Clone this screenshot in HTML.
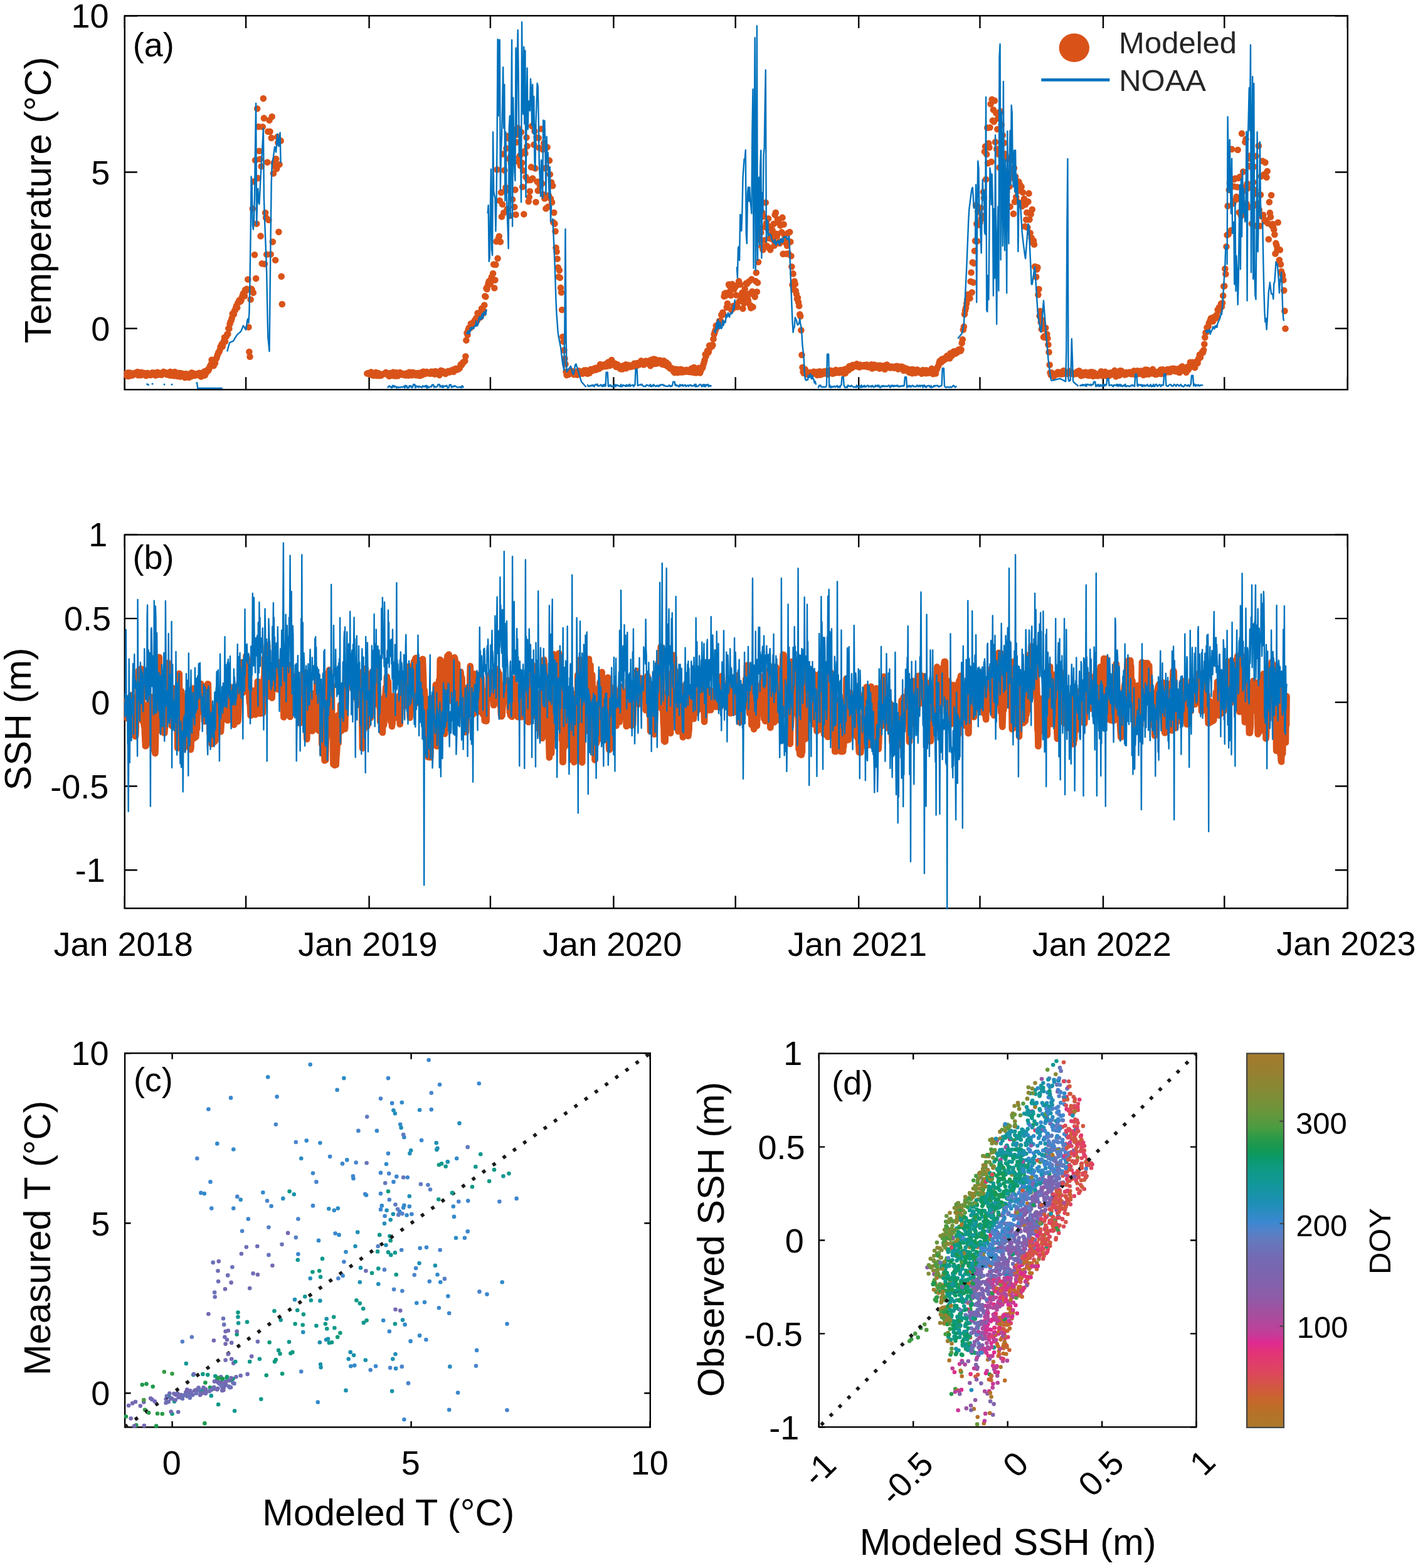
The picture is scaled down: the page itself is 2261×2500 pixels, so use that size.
<!DOCTYPE html><html><head><meta charset="utf-8"><title>Figure</title><style>html,body{margin:0;padding:0;background:#fff;}svg{display:block;}text{font-family:'Liberation Sans', Arial, Helvetica, sans-serif;fill:#000;}</style></head><body>
<svg xmlns="http://www.w3.org/2000/svg" width="2261" height="2500" viewBox="0 0 2261 2500">
<rect width="2261" height="2500" fill="#fff"/>
<path d="M198.8 621.2v-20M198.8 25.1v20M392.1 621.2v-20M392.1 25.1v20M588.6 621.2v-20M588.6 25.1v20M781.9 621.2v-20M781.9 25.1v20M978.4 621.2v-20M978.4 25.1v20M1172.7 621.2v-20M1172.7 25.1v20M1369.2 621.2v-20M1369.2 25.1v20M1562.5 621.2v-20M1562.5 25.1v20M1759 621.2v-20M1759 25.1v20M1952.3 621.2v-20M1952.3 25.1v20M2148.8 621.2v-20M2148.8 25.1v20M198.8 523.8h20M2148.8 523.8h-20M198.8 274.5h20M2148.8 274.5h-20M198.8 25.2h20M2148.8 25.2h-20" stroke="#000" stroke-width="2.4" fill="none"/>
<rect x="198.8" y="25.1" width="1950" height="596.1" stroke="#000" stroke-width="2.4" fill="none"/>
<path d="M198.8 1448.2v-20M198.8 852.6v20M392.1 1448.2v-20M392.1 852.6v20M588.6 1448.2v-20M588.6 852.6v20M781.9 1448.2v-20M781.9 852.6v20M978.4 1448.2v-20M978.4 852.6v20M1172.7 1448.2v-20M1172.7 852.6v20M1369.2 1448.2v-20M1369.2 852.6v20M1562.5 1448.2v-20M1562.5 852.6v20M1759 1448.2v-20M1759 852.6v20M1952.3 1448.2v-20M1952.3 852.6v20M2148.8 1448.2v-20M2148.8 852.6v20M198.8 1387.2h20M2148.8 1387.2h-20M198.8 1253.5h20M2148.8 1253.5h-20M198.8 1119.8h20M2148.8 1119.8h-20M198.8 986.1h20M2148.8 986.1h-20M198.8 852.4h20M2148.8 852.4h-20" stroke="#000" stroke-width="2.4" fill="none"/>
<rect x="198.8" y="852.6" width="1950" height="595.6" stroke="#000" stroke-width="2.4" fill="none"/>
<path d="M274.6 2275.5v-9.5M274.6 1679.2v9.5M655.6 2275.5v-9.5M655.6 1679.2v9.5M1036.6 2275.5v-9.5M1036.6 1679.2v9.5M199.1 2221.3h9.5M1036.8 2221.3h-9.5M199.1 1950.3h9.5M1036.8 1950.3h-9.5M199.1 1679.3h9.5M1036.8 1679.3h-9.5" stroke="#000" stroke-width="2.4" fill="none"/>
<rect x="199.1" y="1679.2" width="837.7" height="596.3" stroke="#000" stroke-width="2.4" fill="none"/>
<path d="M1305.8 2275.3v-9.5M1305.8 1679.7v9.5M1456.2 2275.3v-9.5M1456.2 1679.7v9.5M1606.7 2275.3v-9.5M1606.7 1679.7v9.5M1757.2 2275.3v-9.5M1757.2 1679.7v9.5M1907.6 2275.3v-9.5M1907.6 1679.7v9.5M1305.8 2275.3h9.5M1907.5 2275.3h-9.5M1305.8 2126.4h9.5M1907.5 2126.4h-9.5M1305.8 1977.5h9.5M1907.5 1977.5h-9.5M1305.8 1828.6h9.5M1907.5 1828.6h-9.5M1305.8 1679.7h9.5M1907.5 1679.7h-9.5" stroke="#000" stroke-width="2.4" fill="none"/>
<rect x="1305.8" y="1679.7" width="601.7" height="595.6" stroke="#000" stroke-width="2.4" fill="none"/>
<text x="175.3" y="542.8" font-size="54" text-anchor="end">0</text>
<text x="175.3" y="293.9" font-size="54" text-anchor="end">5</text>
<text x="173.6" y="44.2" font-size="54" text-anchor="end">10</text>
<text x="211.8" y="90" font-size="54" text-anchor="start">(a)</text>
<text transform="translate(80.8,318.9) rotate(-90)" font-size="59.5" text-anchor="middle">Temperature (°C)</text>
<text x="1784.1" y="85.2" font-size="49" text-anchor="start" style="fill:#262626">Modeled</text>
<text x="1784.2" y="145.4" font-size="49" text-anchor="start" style="fill:#262626">NOAA</text>
<text x="171.2" y="871.2" font-size="54" text-anchor="end">1</text>
<text x="177" y="1005.1" font-size="54" text-anchor="end">0.5</text>
<text x="175.3" y="1138.8" font-size="54" text-anchor="end">0</text>
<text x="173.3" y="1272.7" font-size="54" text-anchor="end">-0.5</text>
<text x="167.8" y="1406.4" font-size="54" text-anchor="end">-1</text>
<text x="211.6" y="906.8" font-size="54" text-anchor="start">(b)</text>
<text transform="translate(48.6,1146.4) rotate(-90)" font-size="59.5" text-anchor="middle">SSH (m)</text>
<text x="196.6" y="1523.8" font-size="54" text-anchor="middle">Jan 2018</text>
<text x="586.4" y="1523.8" font-size="54" text-anchor="middle">Jan 2019</text>
<text x="976.2" y="1523.8" font-size="54" text-anchor="middle">Jan 2020</text>
<text x="1367" y="1523.8" font-size="54" text-anchor="middle">Jan 2021</text>
<text x="1756.8" y="1523.8" font-size="54" text-anchor="middle">Jan 2022</text>
<text x="2146.4" y="1523.2" font-size="54" text-anchor="middle">Jan 2023</text>
<text x="175.3" y="2240.3" font-size="54" text-anchor="end">0</text>
<text x="273.7" y="2350.8" font-size="54" text-anchor="middle">0</text>
<text x="175.3" y="1969.7" font-size="54" text-anchor="end">5</text>
<text x="654.7" y="2350.8" font-size="54" text-anchor="middle">5</text>
<text x="173.6" y="1698.3" font-size="54" text-anchor="end">10</text>
<text x="1035.7" y="2350.8" font-size="54" text-anchor="middle">10</text>
<text x="212.9" y="1739.6" font-size="54" text-anchor="start">(c)</text>
<text x="619.3" y="2431.8" font-size="59.5" text-anchor="middle">Modeled T (°C)</text>
<text transform="translate(80.4,1973.8) rotate(-90)" font-size="59.5" text-anchor="middle">Measured T (°C)</text>
<text x="1279.4" y="1697.9" font-size="54" text-anchor="end">1</text>
<text transform="translate(1941,2334.3) rotate(-45)" font-size="54" text-anchor="end">1</text>
<text x="1283.5" y="1847.8" font-size="54" text-anchor="end">0.5</text>
<text transform="translate(1795.2,2335.9) rotate(-45)" font-size="54" text-anchor="end">0.5</text>
<text x="1281.8" y="1996.5" font-size="54" text-anchor="end">0</text>
<text transform="translate(1642.9,2337.2) rotate(-45)" font-size="54" text-anchor="end">0</text>
<text x="1279.8" y="2145.6" font-size="54" text-anchor="end">-0.5</text>
<text transform="translate(1491.2,2337.7) rotate(-45)" font-size="54" text-anchor="end">-0.5</text>
<text x="1274.3" y="2294.5" font-size="54" text-anchor="end">-1</text>
<text transform="translate(1336.3,2339.3) rotate(-45)" font-size="54" text-anchor="end">-1</text>
<text x="1326.3" y="1745.2" font-size="54" text-anchor="start">(d)</text>
<text x="1607.1" y="2479" font-size="59.5" text-anchor="middle">Modeled SSH (m)</text>
<text transform="translate(1154.4,1975.9) rotate(-90)" font-size="59.5" text-anchor="middle">Observed SSH (m)</text>
<text x="2067.8" y="2132.7" font-size="49" text-anchor="start">100</text>
<text x="2066.4" y="1970.5" font-size="49" text-anchor="start">200</text>
<text x="2066.1" y="1807.5" font-size="49" text-anchor="start">300</text>
<text transform="translate(2217.4,1979) rotate(-90)" font-size="49" text-anchor="middle">DOY</text>
<defs><clipPath id="clipA"><rect x="197.6" y="23.9" width="1952.4" height="598.5"/></clipPath><clipPath id="clipB"><rect x="197.6" y="851.4" width="1952.4" height="598"/></clipPath><clipPath id="clipC"><rect x="197.9" y="1678" width="840.1" height="598.7"/></clipPath><clipPath id="clipD"><rect x="1304.6" y="1678.5" width="604.1" height="598"/></clipPath></defs><g clip-path="url(#clipA)"><path d="M198.8 597.4h0M199.9 596.1h0M200.9 595.8h0M202 597.3h0M203.1 599.6h0M204.1 594.2h0M205.2 599.7h0M206.3 596.2h0M207.3 594.5h0M208.4 596.7h0M209.5 598.8h0M210.5 595.5h0M211.6 598.3h0M212.7 596.4h0M213.8 596.1h0M214.8 594.7h0M215.9 594.6h0M217 594h0M218 596.5h0M219.1 593h0M220.2 598.3h0M221.2 598.1h0M222.3 593.8h0M223.4 597.9h0M224.4 598.2h0M225.5 593.9h0M226.6 595.9h0M227.6 595h0M228.7 594.8h0M229.8 597.2h0M230.8 595h0M231.9 596h0M233 598.9h0M234 598.1h0M235.1 594.9h0M236.2 597.4h0M237.2 597.6h0M238.3 597.8h0M239.4 596.4h0M240.4 598h0M241.5 597.4h0M242.6 594.3h0M243.7 595.5h0M244.7 595.4h0M245.8 594.6h0M246.9 594.8h0M247.9 598.5h0M249 596.9h0M250.1 596.9h0M251.1 593.5h0M252.2 597.4h0M253.3 595.1h0M254.3 596.9h0M255.4 595.2h0M256.5 595h0M257.5 597.7h0M258.6 595.1h0M259.7 595.2h0M260.7 592.8h0M261.8 594.1h0M262.9 595.2h0M263.9 594h0M265 594.2h0M266.1 597.2h0M267.1 596h0M268.2 597.2h0M269.3 596.6h0M270.3 598.3h0M271.4 592.9h0M272.5 598.6h0M273.6 593.9h0M274.6 597.9h0M275.7 593.7h0M276.8 596h0M277.8 599.2h0M278.9 593h0M280 594.9h0M281 596.2h0M282.1 597.6h0M283.2 599.7h0M284.2 597h0M285.3 594.8h0M286.4 596.3h0M287.4 600.5h0M288.5 595.1h0M289.6 596.3h0M290.6 595.7h0M291.7 599.4h0M292.8 598h0M293.8 599.4h0M294.9 602h0M296 596.1h0M297 598.8h0M298.1 600.5h0M299.2 599h0M300.3 596.5h0M301.3 601.8h0M302.4 600.5h0M303.5 599.7h0M304.5 600.2h0M305.6 594.2h0M306.7 595.6h0M307.7 598.9h0M308.8 596.9h0M309.9 595.7h0M310.9 598.7h0M312 597.1h0M313.1 596.3h0M314.1 597.2h0M315.2 597h0M316.3 595.7h0M317.3 594.8h0M318.4 598.9h0M319.5 595h0M320.5 600.5h0M321.6 595.1h0M322.7 595.2h0M323.7 599h0M324.8 597.6h0M325.9 592.3h0M326.9 598.2h0M328 594.9h0M329.1 594h0M330.2 591.3h0M331.2 589.4h0M332.3 590.8h0M333.4 588.3h0M334.4 584.9h0M335.5 582.7h0M336.6 580.7h0M337.6 573.8h0M338.7 579.9h0M339.8 580.4h0M340.8 583.1h0M341.9 576.2h0M343 579.1h0M344 572.2h0M345.1 571.4h0M346.2 568h0M347.2 564.8h0M348.3 562.1h0M349.4 561.3h0M350.4 558.2h0M351.5 553h0M352.6 554.3h0M353.6 548.8h0M354.7 552.4h0M355.8 547.9h0M356.9 544.1h0M357.9 538.1h0M359 544.6h0M360.1 536.9h0M361.1 536.2h0M362.2 533.1h0M363.3 532.5h0M364.3 523.8h0M365.4 524.1h0M366.5 516.6h0M367.5 513.3h0M368.6 511.1h0M369.7 507.2h0M370.7 500.3h0M371.8 499.9h0M372.9 501.1h0M373.9 495.4h0M375 494.6h0M376.1 490.4h0M377.1 487.5h0M378.2 490.4h0M379.3 482.9h0M380.3 482.2h0M381.4 478.9h0M382.5 478.8h0M383.5 480.5h0M384.6 478.8h0M385.7 474.3h0M386.8 471.3h0M387.8 467.9h0M388.9 468.6h0M390 472h0M391 462.3h0M392.1 463.4h0M393.2 460.8h0M394.2 461.6h0M395.3 445.5h0M396.4 521.6h0M397.4 561.1h0M398.5 568.7h0M399.6 477.5h0M400.6 460.5h0M401.7 461.8h0M402.8 332.8h0M403.8 466.7h0M404.9 289.4h0M406 406.2h0M407 255.5h0M408.1 444.1h0M409.2 356.8h0M410.2 173.2h0M411.3 284.1h0M412.4 202h0M413.4 240.7h0M414.5 253.8h0M415.6 376.4h0M416.7 265.3h0M417.7 420.2h0M418.8 202.3h0M419.9 157.1h0M420.9 188.4h0M422 421h0M423.1 339.3h0M424.1 347.1h0M425.2 405.7h0M426.3 258.8h0M427.3 209.7h0M428.4 350.8h0M429.5 191.8h0M430.5 209.7h0M431.6 405.5h0M432.7 219.9h0M433.7 186h0M434.8 385.6h0M435.9 276.5h0M436.9 259.4h0M438 265.8h0M439.1 414.8h0M440.1 253.3h0M441.2 269.1h0M442.3 218.2h0M443.4 227.4h0M444.4 369.7h0M445.5 262.3h0M446.6 224.7h0M447.6 224.4h0M448.7 440.8h0M449.8 485h0M585.4 595.5h0M586.5 595.6h0M587.5 594.8h0M588.6 595.5h0M589.7 594.8h0M590.7 596.9h0M591.8 593.4h0M592.9 597.8h0M593.9 598h0M595 598.8h0M596.1 596.2h0M597.1 594.9h0M598.2 598.1h0M599.3 593.9h0M600.3 599h0M601.4 594.9h0M602.5 596.2h0M603.5 595h0M604.6 599.1h0M605.7 598h0M606.7 597.2h0M607.8 598.8h0M608.9 597.6h0M609.9 596.9h0M611 596.4h0M612.1 595.8h0M613.1 596.1h0M614.2 595.4h0M615.3 593.9h0M616.4 594.6h0M617.4 596.2h0M618.5 597.3h0M619.6 599h0M620.6 599.8h0M621.7 595h0M622.8 599h0M623.8 595h0M624.9 597h0M626 597.5h0M627 593.6h0M628.1 599h0M629.2 597.2h0M630.2 599.5h0M631.3 594.1h0M632.4 597.7h0M633.4 596.8h0M634.5 599.3h0M635.6 597.1h0M636.6 595.7h0M637.7 593.9h0M638.8 596.1h0M639.8 596.4h0M640.9 597.2h0M642 597.3h0M643 595.8h0M644.1 597.9h0M645.2 596.8h0M646.3 596.2h0M647.3 598.4h0M648.4 595.2h0M649.5 598.3h0M650.5 596.2h0M651.6 598.6h0M652.7 593.6h0M653.7 596.5h0M654.8 596.4h0M655.9 594.7h0M656.9 598.3h0M658 593.8h0M659.1 595.8h0M660.1 595h0M661.2 594.9h0M662.3 595.6h0M663.3 598.3h0M664.4 597h0M665.5 596h0M666.5 594.7h0M667.6 598.6h0M668.7 595.5h0M669.7 599h0M670.8 597.3h0M671.9 593.9h0M673 597.7h0M674 596.5h0M675.1 592.5h0M676.2 595.8h0M677.2 596.3h0M678.3 594.8h0M679.4 594.3h0M680.4 592.7h0M681.5 593.5h0M682.6 595.1h0M683.6 595h0M684.7 594.5h0M685.8 595.7h0M686.8 594.1h0M687.9 592.5h0M689 595.4h0M690 594.4h0M691.1 592.9h0M692.2 593.2h0M693.2 596.6h0M694.3 592h0M695.4 595.6h0M696.4 593.8h0M697.5 593.1h0M698.6 594.9h0M699.6 594.4h0M700.7 598.1h0M701.8 595.6h0M702.9 590.9h0M703.9 591.7h0M705 593h0M706.1 591.8h0M707.1 593.4h0M708.2 593.3h0M709.3 593.6h0M710.3 596h0M711.4 595.3h0M712.5 594.2h0M713.5 593.8h0M714.6 591.7h0M715.7 593.3h0M716.7 593.4h0M717.8 592.4h0M718.9 592.3h0M719.9 590.7h0M721 590.1h0M722.1 592.3h0M723.1 592.8h0M724.2 589h0M725.3 589.3h0M726.3 587.9h0M727.4 589.7h0M728.5 588.3h0M729.6 589.2h0M730.6 587.8h0M731.7 588.1h0M732.8 587.1h0M733.8 583.9h0M734.9 581.1h0M736 582h0M737 580.4h0M738.1 577.9h0M739.2 577.2h0M740.2 576.5h0M741.3 575.5h0M742.4 568.2h0M743.4 542.6h0M744.5 530.9h0M745.6 533.9h0M746.6 525.7h0M747.7 522.7h0M748.8 522.2h0M749.8 523.1h0M750.9 516h0M752 519.9h0M753 517.7h0M754.1 515.7h0M755.2 513.6h0M756.2 514.9h0M757.3 510.2h0M758.4 509.3h0M759.5 507.1h0M760.5 511.4h0M761.6 499.2h0M762.7 508h0M763.7 506.5h0M764.8 506.3h0M765.9 506h0M766.9 500.1h0M768 491.9h0M769.1 492.7h0M770.1 499.7h0M771.2 495.8h0M772.3 486.5h0M773.3 472.2h0M774.4 472.9h0M775.5 459.7h0M776.5 460.9h0M777.6 455.9h0M778.7 451.4h0M779.7 448.5h0M780.8 452.7h0M781.9 451.9h0M782.9 445.1h0M784 441.6h0M785.1 444.2h0M786.1 436h0M787.2 421.6h0M788.3 459.2h0M789.4 446.6h0M790.4 422h0M791.5 385h0M792.6 270.4h0M793.6 412h0M794.7 380.7h0M795.8 376.7h0M796.8 319.9h0M797.9 385.6h0M799 306.9h0M800 345.5h0M801.1 325.8h0M802.2 245.6h0M803.2 339.3h0M804.3 271.6h0M805.4 305.1h0M806.4 299h0M807.5 236.5h0M808.6 333.4h0M809.6 217.1h0M810.7 220.4h0M811.8 253.3h0M812.8 344h0M813.9 250.2h0M815 260.7h0M816.1 234.7h0M817.1 318.1h0M818.2 206.2h0M819.3 216.6h0M820.3 330.1h0M821.4 302.6h0M822.5 342.2h0M823.5 226.8h0M824.6 214.6h0M825.7 204.3h0M826.7 257.9h0M827.8 251.2h0M828.9 248.3h0M829.9 264.3h0M831 210.8h0M832.1 259.4h0M833.1 298h0M834.2 271.9h0M835.3 341.5h0M836.3 241.3h0M837.4 244.8h0M838.5 282.3h0M839.5 219.2h0M840.6 233.1h0M841.7 287.3h0M842.7 321.3h0M843.8 314.3h0M844.9 305h0M846 286.9h0M847 266.4h0M848.1 201h0M849.2 284.5h0M850.2 201.9h0M851.3 230.8h0M852.4 209.3h0M853.4 268.4h0M854.5 322.2h0M855.6 219.4h0M856.6 289.8h0M857.7 304h0M858.8 220h0M859.8 235.8h0M860.9 295.8h0M862 288.9h0M863 205.5h0M864.1 292.8h0M865.2 238.2h0M866.2 310h0M867.3 228.3h0M868.4 316.5h0M869.4 268.3h0M870.5 332.4h0M871.6 267.6h0M872.6 234.8h0M873.7 329.7h0M874.8 311.5h0M875.9 255.9h0M876.9 278h0M878 316.8h0M879.1 290.8h0M880.1 322.5h0M881.2 296.3h0M882.3 354.5h0M883.3 339h0M884.4 356.8h0M885.5 368.8h0M886.5 395.1h0M887.6 401.3h0M888.7 412.8h0M889.7 426.5h0M890.8 441.6h0M891.9 430.9h0M892.9 442.8h0M894 458.9h0M895.1 466.2h0M896.1 494h0M897.2 537.1h0M898.3 544.6h0M899.3 558.4h0M900.4 571.8h0M901.5 580.5h0M902.6 592.8h0M903.6 598.1h0M904.7 595.4h0M905.8 595.7h0M906.8 596.9h0M907.9 593.3h0M909 594.3h0M910 594.6h0M911.1 591.4h0M912.2 595.2h0M913.2 593.6h0M914.3 593.4h0M915.4 597.2h0M916.4 596.7h0M917.5 593h0M918.6 594.9h0M919.6 592.5h0M920.7 597.6h0M921.8 594.4h0M922.8 591.3h0M923.9 591.8h0M925 595.8h0M926 595.3h0M927.1 594.9h0M928.2 592.6h0M929.2 595.6h0M930.3 595.1h0M931.4 590.6h0M932.5 593.3h0M933.5 593.3h0M934.6 590.4h0M935.7 593.2h0M936.7 595.8h0M937.8 592.2h0M938.9 594.1h0M939.9 594.7h0M941 591.7h0M942.1 588.7h0M943.1 589.8h0M944.2 589h0M945.3 590.8h0M946.3 588.5h0M947.4 587.8h0M948.5 587.1h0M949.5 586.7h0M950.6 589.6h0M951.7 587.7h0M952.7 586.3h0M953.8 587.6h0M954.9 588h0M955.9 585.7h0M957 581.1h0M958.1 586.1h0M959.2 585.3h0M960.2 581.7h0M961.3 584.2h0M962.4 582.2h0M963.4 584.3h0M964.5 584.1h0M965.6 580.6h0M966.6 581.4h0M967.7 583.8h0M968.8 581h0M969.8 577.5h0M970.9 580.7h0M972 583h0M973 580h0M974.1 577.5h0M975.2 574h0M976.2 581.5h0M977.3 581h0M978.4 581h0M979.4 580.5h0M980.5 579.5h0M981.6 583.8h0M982.6 584.9h0M983.7 584.9h0M984.8 581.4h0M985.8 582.9h0M986.9 585.6h0M988 586.9h0M989.1 588.1h0M990.1 584.5h0M991.2 584.8h0M992.3 588.4h0M993.3 583.4h0M994.4 585.1h0M995.5 583.5h0M996.5 587h0M997.6 581.4h0M998.7 587.1h0M999.7 583.7h0M1000.8 583.4h0M1001.9 582.1h0M1002.9 584.5h0M1004 584.9h0M1005.1 585h0M1006.1 584.8h0M1007.2 584.4h0M1008.3 583.2h0M1009.3 581.6h0M1010.4 582.8h0M1011.5 579.5h0M1012.5 581.5h0M1013.6 584.2h0M1014.7 580.5h0M1015.7 579.1h0M1016.8 582.2h0M1017.9 580.6h0M1019 579.1h0M1020 580.9h0M1021.1 577.4h0M1022.2 575.4h0M1023.2 579.2h0M1024.3 578.1h0M1025.4 579.2h0M1026.4 581.5h0M1027.5 579h0M1028.6 577.3h0M1029.6 575.6h0M1030.7 578.5h0M1031.8 576.8h0M1032.8 579.6h0M1033.9 579.3h0M1035 575.3h0M1036 576.9h0M1037.1 583.2h0M1038.2 573.9h0M1039.2 579.3h0M1040.3 579.3h0M1041.4 577.4h0M1042.4 572.5h0M1043.5 580.1h0M1044.6 573.1h0M1045.7 576.7h0M1046.7 579.8h0M1047.8 574.9h0M1048.9 576.2h0M1049.9 577.1h0M1051 574.6h0M1052.1 576h0M1053.1 574.9h0M1054.2 579.8h0M1055.3 576.6h0M1056.3 581h0M1057.4 578.4h0M1058.5 575.2h0M1059.5 578.2h0M1060.6 581.9h0M1061.7 580.7h0M1062.7 578h0M1063.8 580.7h0M1064.9 584.5h0M1065.9 581h0M1067 584.8h0M1068.1 587.3h0M1069.1 586h0M1070.2 586.6h0M1071.3 587.5h0M1072.3 589.5h0M1073.4 591h0M1074.5 592.9h0M1075.6 594.1h0M1076.6 588.5h0M1077.7 591.9h0M1078.8 589.8h0M1079.8 589.1h0M1080.9 594.1h0M1082 592.8h0M1083 592.7h0M1084.1 592.9h0M1085.2 588.8h0M1086.2 593.4h0M1087.3 592.4h0M1088.4 589.7h0M1089.4 593.1h0M1090.5 592.9h0M1091.6 590.9h0M1092.6 590.7h0M1093.7 592.4h0M1094.8 589.7h0M1095.8 592.4h0M1096.9 591.2h0M1098 591.4h0M1099 592.1h0M1100.1 593.1h0M1101.2 591.8h0M1102.3 587.8h0M1103.3 593.3h0M1104.4 588.9h0M1105.5 593.7h0M1106.5 585.8h0M1107.6 593h0M1108.7 591.7h0M1109.7 594.4h0M1110.8 588.8h0M1111.9 591.3h0M1112.9 588.8h0M1114 586.9h0M1115.1 587.5h0M1116.1 594.4h0M1117.2 591.6h0M1118.3 588.8h0M1119.3 587.4h0M1120.4 585.7h0M1121.5 581.2h0M1122.5 578.3h0M1123.6 573.9h0M1124.7 565h0M1125.7 568h0M1126.8 563.7h0M1127.9 559.4h0M1128.9 562.5h0M1130 560.7h0M1131.1 551.1h0M1132.2 553.2h0M1133.2 553.7h0M1134.3 550.4h0M1135.4 552.1h0M1136.4 550.3h0M1137.5 540.5h0M1138.6 533.2h0M1139.6 529.7h0M1140.7 526.5h0M1141.8 519.3h0M1142.8 522.1h0M1143.9 518.8h0M1145 520.1h0M1146 517.3h0M1147.1 511.8h0M1148.2 513.7h0M1149.2 512h0M1150.3 501.9h0M1151.4 502.2h0M1152.4 498.3h0M1153.5 501.2h0M1154.6 472.4h0M1155.6 467.9h0M1156.7 471.6h0M1157.8 467.2h0M1158.8 490.1h0M1159.9 484h0M1161 468.2h0M1162.1 453.5h0M1163.1 455.6h0M1164.2 464.3h0M1165.3 470.9h0M1166.3 494.1h0M1167.4 453h0M1168.5 492h0M1169.5 487.8h0M1170.6 460.7h0M1171.7 455.7h0M1172.7 457.2h0M1173.8 470.5h0M1174.9 484.5h0M1175.9 489.5h0M1177 453.7h0M1178.1 448.4h0M1179.1 480h0M1180.2 453.5h0M1181.3 471.4h0M1182.3 478h0M1183.4 466.7h0M1184.5 492.1h0M1185.5 470.9h0M1186.6 483.6h0M1187.7 460.8h0M1188.8 468.7h0M1189.8 451.7h0M1190.9 452.4h0M1192 476h0M1193 479.6h0M1194.1 449.1h0M1195.2 468.4h0M1196.2 486.5h0M1197.3 491.1h0M1198.4 445.3h0M1199.4 464.8h0M1200.5 489.4h0M1201.6 469.5h0M1202.6 470.5h0M1203.7 473.2h0M1204.8 448.2h0M1205.8 434.8h0M1206.9 465.3h0M1208 450.8h0M1209 417.7h0M1210.1 372.1h0M1211.2 382.1h0M1212.2 364.8h0M1213.3 370.7h0M1214.4 392.6h0M1215.4 338.9h0M1216.5 398.3h0M1217.6 345.2h0M1218.7 383h0M1219.7 361.7h0M1220.8 323.1h0M1221.9 355.8h0M1222.9 392h0M1224 364.3h0M1225.1 348.5h0M1226.1 394.9h0M1227.2 379.9h0M1228.3 398.2h0M1229.3 361.4h0M1230.4 373.4h0M1231.5 366.7h0M1232.5 382.3h0M1233.6 357h0M1234.7 391.5h0M1235.7 342.5h0M1236.8 339h0M1237.9 372.8h0M1238.9 376.5h0M1240 350h0M1241.1 386.7h0M1242.1 355.4h0M1243.2 388h0M1244.3 359.6h0M1245.3 385h0M1246.4 370.2h0M1247.5 346.9h0M1248.6 404.9h0M1249.6 357.7h0M1250.7 374.8h0M1251.8 384.4h0M1252.8 387h0M1253.9 404.7h0M1255 391.8h0M1256 371.9h0M1257.1 404.2h0M1258.2 370.6h0M1259.2 370.1h0M1260.3 385.6h0M1261.4 408.3h0M1262.4 425.2h0M1263.5 454.3h0M1264.6 436.4h0M1265.6 461.7h0M1266.7 448.6h0M1267.8 453h0M1268.8 463.8h0M1269.9 468.9h0M1271 476.4h0M1272 474.7h0M1273.1 482h0M1274.2 487.8h0M1275.3 501.2h0M1276.3 504.3h0M1277.4 526.5h0M1278.5 566h0M1279.5 585.7h0M1280.6 593h0M1281.7 595h0M1282.7 593.2h0M1283.8 589h0M1284.9 593.9h0M1285.9 595.8h0M1287 596.9h0M1288.1 593.9h0M1289.1 595.9h0M1290.2 595h0M1291.3 595.4h0M1292.3 593.7h0M1293.4 596h0M1294.5 594.7h0M1295.5 595.8h0M1296.6 593.4h0M1297.7 592.6h0M1298.7 593.8h0M1299.8 593.5h0M1300.9 594.7h0M1301.9 596.9h0M1303 597.9h0M1304.1 592.7h0M1305.2 597.4h0M1306.2 594.4h0M1307.3 592.3h0M1308.4 597.4h0M1309.4 597.1h0M1310.5 596.6h0M1311.6 596.1h0M1312.6 594.3h0M1313.7 592.3h0M1314.8 595.4h0M1315.8 594.7h0M1316.9 591.9h0M1318 592.1h0M1319 595.3h0M1320.1 596.6h0M1321.2 592.5h0M1322.2 591.4h0M1323.3 593.5h0M1324.4 590.8h0M1325.4 594.2h0M1326.5 593.5h0M1327.6 595.7h0M1328.6 591.8h0M1329.7 591.4h0M1330.8 592.1h0M1331.9 594.5h0M1332.9 589.9h0M1334 591.4h0M1335.1 594h0M1336.1 591.4h0M1337.2 591h0M1338.3 594.2h0M1339.3 590.4h0M1340.4 590.4h0M1341.5 592.5h0M1342.5 590h0M1343.6 593.6h0M1344.7 593.1h0M1345.7 595.6h0M1346.8 588.9h0M1347.9 594.9h0M1348.9 589.7h0M1350 591.8h0M1351.1 588.5h0M1352.1 586.8h0M1353.2 590.1h0M1354.3 584.1h0M1355.3 584h0M1356.4 587.2h0M1357.5 583.8h0M1358.5 586.6h0M1359.6 582h0M1360.7 584.1h0M1361.8 583.8h0M1362.8 583.8h0M1363.9 582.4h0M1365 581.1h0M1366 580.4h0M1367.1 584.3h0M1368.2 583.4h0M1369.2 584.8h0M1370.3 585.5h0M1371.4 581.5h0M1372.4 583.6h0M1373.5 584.2h0M1374.6 583.3h0M1375.6 583.8h0M1376.7 583.7h0M1377.8 582h0M1378.8 584.2h0M1379.9 584.3h0M1381 584h0M1382 581.6h0M1383.1 584.3h0M1384.2 585.2h0M1385.2 584.7h0M1386.3 584.2h0M1387.4 584.9h0M1388.4 583.1h0M1389.5 581.3h0M1390.6 587.5h0M1391.7 584.1h0M1392.7 581.7h0M1393.8 585.9h0M1394.9 581.9h0M1395.9 586.1h0M1397 584.1h0M1398.1 584.2h0M1399.1 583.4h0M1400.2 583.9h0M1401.3 582.8h0M1402.3 587.6h0M1403.4 582.7h0M1404.5 587h0M1405.5 585h0M1406.6 585.8h0M1407.7 583.6h0M1408.7 584.9h0M1409.8 583.4h0M1410.9 588.7h0M1411.9 586.1h0M1413 584.9h0M1414.1 581.5h0M1415.1 583.7h0M1416.2 585h0M1417.3 584.3h0M1418.4 584.2h0M1419.4 586.5h0M1420.5 586.1h0M1421.6 584.8h0M1422.6 584.5h0M1423.7 585.8h0M1424.8 586.5h0M1425.8 585.7h0M1426.9 586.6h0M1428 584.2h0M1429 585.8h0M1430.1 583.9h0M1431.2 587.2h0M1432.2 588.4h0M1433.3 584.6h0M1434.4 585.3h0M1435.4 585.6h0M1436.5 587.2h0M1437.6 584.5h0M1438.6 587.3h0M1439.7 585.3h0M1440.8 590.8h0M1441.8 590.4h0M1442.9 588.7h0M1444 590h0M1445 587.6h0M1446.1 589.6h0M1447.2 588.5h0M1448.3 592.5h0M1449.3 589.4h0M1450.4 593.9h0M1451.5 590h0M1452.5 589.3h0M1453.6 592h0M1454.7 595.3h0M1455.7 589.1h0M1456.8 591.7h0M1457.9 593h0M1458.9 591.7h0M1460 594.6h0M1461.1 593.7h0M1462.1 589.6h0M1463.2 589.8h0M1464.3 592h0M1465.3 593.5h0M1466.4 592.6h0M1467.5 594h0M1468.5 592h0M1469.6 595.8h0M1470.7 591.8h0M1471.7 590.1h0M1472.8 592.9h0M1473.9 593h0M1475 591.2h0M1476 595.1h0M1477.1 590.3h0M1478.2 595h0M1479.2 594.8h0M1480.3 594.7h0M1481.4 591.2h0M1482.4 593.4h0M1483.5 591.6h0M1484.6 590.6h0M1485.6 587.9h0M1486.7 594.4h0M1487.8 596.3h0M1488.8 592.4h0M1489.9 589.2h0M1491 590.3h0M1492 595.4h0M1493.1 589.8h0M1494.2 587.8h0M1495.2 585.1h0M1496.3 583.1h0M1497.4 579.1h0M1498.4 575.7h0M1499.5 576.4h0M1500.6 577.7h0M1501.6 572.9h0M1502.7 576h0M1503.8 573.3h0M1504.9 571.9h0M1505.9 573.6h0M1507 570.7h0M1508.1 570.1h0M1509.1 571.7h0M1510.2 567.2h0M1511.3 567.4h0M1512.3 569.4h0M1513.4 567.1h0M1514.5 571.3h0M1515.5 563.3h0M1516.6 564.8h0M1517.7 567.3h0M1518.7 562.3h0M1519.8 562.4h0M1520.9 560.3h0M1521.9 562.4h0M1523 563.9h0M1524.1 563.3h0M1525.1 559.9h0M1526.2 561.9h0M1527.3 558.5h0M1528.3 557.7h0M1529.4 557h0M1530.5 557.3h0M1531.5 559.5h0M1532.6 557.4h0M1533.7 547h0M1534.8 541.3h0M1535.8 525.8h0M1536.9 520.9h0M1538 501.1h0M1539 494.9h0M1540.1 490.7h0M1541.2 484.1h0M1542.2 478.1h0M1543.3 469.6h0M1544.4 470.2h0M1545.4 475.5h0M1546.5 475.4h0M1547.6 448.8h0M1548.6 434.5h0M1549.7 466.3h0M1550.8 418.4h0M1551.8 450.4h0M1552.9 419.8h0M1554 400h0M1555 384.1h0M1556.1 327.3h0M1557.2 356.9h0M1558.2 384.5h0M1559.3 337.3h0M1560.4 358.7h0M1561.5 356.4h0M1562.5 354.7h0M1563.6 331.5h0M1564.7 348.7h0M1565.7 344h0M1566.8 347.6h0M1567.9 306.3h0M1568.9 315.4h0M1570 241.7h0M1571.1 233.6h0M1572.1 286h0M1573.2 245.9h0M1574.3 203.7h0M1575.3 260.3h0M1576.4 228.6h0M1577.5 235.2h0M1578.5 203.3h0M1579.6 165.7h0M1580.7 258h0M1581.7 158.6h0M1582.8 192.3h0M1583.9 175.1h0M1584.9 194h0M1586 160.5h0M1587.1 226.4h0M1588.1 180h0M1589.2 237.5h0M1590.3 206h0M1591.4 188.6h0M1592.4 246.1h0M1593.5 267.2h0M1594.6 178.3h0M1595.6 177.7h0M1596.7 198.8h0M1597.8 247.6h0M1598.8 215.7h0M1599.9 289.4h0M1601 227.7h0M1602 245.2h0M1603.1 247.3h0M1604.2 273.9h0M1605.2 306.2h0M1606.3 253.1h0M1607.4 284.6h0M1608.4 253.1h0M1609.5 297.5h0M1610.6 329.6h0M1611.6 283.7h0M1612.7 277h0M1613.8 248.5h0M1614.8 255h0M1615.9 340.9h0M1617 268h0M1618 321.8h0M1619.1 281.6h0M1620.2 314.3h0M1621.3 320.4h0M1622.3 304.8h0M1623.4 302.3h0M1624.5 289.9h0M1625.5 296.4h0M1626.6 295.1h0M1627.7 323.5h0M1628.7 297.8h0M1629.8 328.8h0M1630.9 306.7h0M1631.9 324h0M1633 317h0M1634.1 361h0M1635.1 326h0M1636.2 350.3h0M1637.3 339h0M1638.3 362.7h0M1639.4 321.6h0M1640.5 308.4h0M1641.5 350.1h0M1642.6 371.6h0M1643.7 341.6h0M1644.7 379.3h0M1645.8 334h0M1646.9 387.2h0M1648 383.8h0M1649 389.7h0M1650.1 425.1h0M1651.2 426.6h0M1652.2 441.6h0M1653.3 429.5h0M1654.4 426.4h0M1655.4 470h0M1656.5 461h0M1657.6 503.8h0M1658.6 496.1h0M1659.7 513.7h0M1660.8 524.8h0M1661.8 510.2h0M1662.9 515.8h0M1664 537.6h0M1665 536.3h0M1666.1 523.7h0M1667.2 522.7h0M1668.2 536.3h0M1669.3 532.8h0M1670.4 539.5h0M1671.4 549.5h0M1672.5 561.5h0M1673.6 581.8h0M1674.6 594.2h0M1675.7 597.7h0M1676.8 594.4h0M1677.9 598.3h0M1678.9 597.7h0M1680 600.1h0M1681.1 597.6h0M1682.1 597.3h0M1683.2 596h0M1684.3 596.9h0M1685.3 595.4h0M1686.4 593.4h0M1687.5 595.1h0M1688.5 596.2h0M1689.6 595.5h0M1690.7 593.6h0M1691.7 596.1h0M1692.8 596.4h0M1693.9 596.1h0M1694.9 596.1h0M1696 591h0M1697.1 593.6h0M1698.1 593.1h0M1699.2 594.2h0M1700.3 596h0M1701.3 595.9h0M1702.4 593.6h0M1703.5 593.9h0M1704.6 592.2h0M1705.6 591.9h0M1706.7 594.5h0M1707.8 595.6h0M1708.8 593.9h0M1709.9 595.1h0M1711 596h0M1712 596.6h0M1713.1 596h0M1714.2 595.1h0M1715.2 596.1h0M1716.3 594.9h0M1717.4 592.8h0M1718.4 594.2h0M1719.5 594.4h0M1720.6 591.2h0M1721.6 597h0M1722.7 595.9h0M1723.8 599.1h0M1724.8 596.9h0M1725.9 594.3h0M1727 598.3h0M1728 594.2h0M1729.1 595.9h0M1730.2 595.9h0M1731.2 593.6h0M1732.3 596.3h0M1733.4 597.9h0M1734.5 594.8h0M1735.5 598.7h0M1736.6 598.6h0M1737.7 598.5h0M1738.7 593.2h0M1739.8 596.3h0M1740.9 596.8h0M1741.9 593.4h0M1743 599.8h0M1744.1 594.1h0M1745.1 595.1h0M1746.2 595.6h0M1747.3 598.6h0M1748.3 598.2h0M1749.4 598.3h0M1750.5 599.2h0M1751.5 597h0M1752.6 598.1h0M1753.7 595.3h0M1754.7 597h0M1755.8 592.2h0M1756.9 594.1h0M1757.9 599.2h0M1759 594.9h0M1760.1 598.9h0M1761.1 597.8h0M1762.2 592.9h0M1763.3 597.7h0M1764.4 597.4h0M1765.4 599.5h0M1766.5 596h0M1767.6 597.7h0M1768.6 599h0M1769.7 594.6h0M1770.8 597.6h0M1771.8 594.4h0M1772.9 594.4h0M1774 595.9h0M1775 596.7h0M1776.1 593.2h0M1777.2 590.9h0M1778.2 593.2h0M1779.3 600.2h0M1780.4 596.1h0M1781.4 596.6h0M1782.5 598.1h0M1783.6 595.9h0M1784.6 598.4h0M1785.7 591.3h0M1786.8 594.1h0M1787.8 591.3h0M1788.9 593.8h0M1790 595.3h0M1791.1 596.4h0M1792.1 596.8h0M1793.2 597.5h0M1794.3 596h0M1795.3 593.9h0M1796.4 596.6h0M1797.5 595h0M1798.5 594.5h0M1799.6 594.4h0M1800.7 593.6h0M1801.7 593.6h0M1802.8 595.9h0M1803.9 596.4h0M1804.9 595.3h0M1806 596.3h0M1807.1 594.4h0M1808.1 591.3h0M1809.2 593.9h0M1810.3 597.2h0M1811.3 595.5h0M1812.4 592.5h0M1813.5 591.2h0M1814.5 591.6h0M1815.6 595.9h0M1816.7 595.8h0M1817.7 592.9h0M1818.8 591.6h0M1819.9 595.3h0M1821 595.4h0M1822 595.6h0M1823.1 598h0M1824.2 590.7h0M1825.2 592.4h0M1826.3 589.6h0M1827.4 596.8h0M1828.4 594.6h0M1829.5 589.9h0M1830.6 592.3h0M1831.6 596.6h0M1832.7 593.8h0M1833.8 591.8h0M1834.8 591.6h0M1835.9 592.2h0M1837 595.3h0M1838 588.9h0M1839.1 593h0M1840.2 591.9h0M1841.2 593.1h0M1842.3 596.9h0M1843.4 594.4h0M1844.4 596.7h0M1845.5 595.9h0M1846.6 594.5h0M1847.6 592.4h0M1848.7 595.4h0M1849.8 591.6h0M1850.9 589.5h0M1851.9 596.1h0M1853 594.2h0M1854.1 589.3h0M1855.1 592.2h0M1856.2 590.2h0M1857.3 594.8h0M1858.3 591.5h0M1859.4 593.2h0M1860.5 589.7h0M1861.5 589h0M1862.6 592.6h0M1863.7 593.1h0M1864.7 589h0M1865.8 593.1h0M1866.9 589.3h0M1867.9 588.1h0M1869 589.9h0M1870.1 587.7h0M1871.1 591.1h0M1872.2 587.7h0M1873.3 590.2h0M1874.3 592h0M1875.4 590.6h0M1876.5 591.9h0M1877.6 589.6h0M1878.6 588h0M1879.7 593.6h0M1880.8 593.9h0M1881.8 591.5h0M1882.9 591.7h0M1884 584.9h0M1885 584.4h0M1886.1 586.6h0M1887.2 587.9h0M1888.2 588.9h0M1889.3 591h0M1890.4 590.8h0M1891.4 593.8h0M1892.5 585.2h0M1893.6 588.3h0M1894.6 589.7h0M1895.7 584.4h0M1896.8 584.2h0M1897.8 577.8h0M1898.9 584.9h0M1900 582.4h0M1901 577.9h0M1902.1 577.7h0M1903.2 582.1h0M1904.2 581.7h0M1905.3 586.1h0M1906.4 579h0M1907.5 577.2h0M1908.5 575.8h0M1909.6 579.1h0M1910.7 573.3h0M1911.7 570.7h0M1912.8 565.6h0M1913.9 569.9h0M1914.9 564.6h0M1916 563.8h0M1917.1 561h0M1918.1 561.9h0M1919.2 558.3h0M1920.3 548.8h0M1921.3 538h0M1922.4 530.6h0M1923.5 529.8h0M1924.5 522.3h0M1925.6 521.2h0M1926.7 520.4h0M1927.7 514.9h0M1928.8 513.2h0M1929.9 510.2h0M1930.9 507.6h0M1932 509.2h0M1933.1 507.4h0M1934.2 512.3h0M1935.2 505.8h0M1936.3 506.6h0M1937.4 507.7h0M1938.4 507.5h0M1939.5 502.6h0M1940.6 504.9h0M1941.6 494.1h0M1942.7 495.4h0M1943.8 490.3h0M1944.8 494.2h0M1945.9 488.8h0M1947 484.3h0M1948 489h0M1949.1 483h0M1950.2 471.6h0M1951.2 456.6h0M1952.3 456h0M1953.4 428.6h0M1954.4 436.9h0M1955.5 393.2h0M1956.6 374.7h0M1957.6 328.4h0M1958.7 373.5h0M1959.8 302.8h0M1960.8 291.7h0M1961.9 286h0M1963 367.3h0M1964.1 237.9h0M1965.1 285.7h0M1966.2 324.5h0M1967.3 297.3h0M1968.3 285.7h0M1969.4 284.6h0M1970.5 318.3h0M1971.5 313.9h0M1972.6 298.2h0M1973.7 239h0M1974.7 283.9h0M1975.8 338.8h0M1976.9 282h0M1977.9 318.1h0M1979 344.1h0M1980.1 212.9h0M1981.1 305.4h0M1982.2 273.8h0M1983.3 299.4h0M1984.3 340.9h0M1985.4 226.6h0M1986.5 221.9h0M1987.5 324.8h0M1988.6 292.9h0M1989.7 300h0M1990.7 330.2h0M1991.8 264.9h0M1992.9 248.5h0M1994 252.9h0M1995 266h0M1996.1 356.8h0M1997.2 329.7h0M1998.2 290.4h0M1999.3 265.8h0M2000.4 309h0M2001.4 303.1h0M2002.5 249h0M2003.6 360h0M2004.6 326.8h0M2005.7 324.3h0M2006.8 232.6h0M2007.8 334.4h0M2008.9 360.2h0M2010 310.6h0M2011 281.1h0M2012.1 345h0M2013.2 256.7h0M2014.2 342.7h0M2015.3 278.4h0M2016.4 352.7h0M2017.4 259.1h0M2018.5 351.2h0M2019.6 282.7h0M2020.7 273h0M2021.7 356h0M2022.8 381.5h0M2023.9 322.3h0M2024.9 339.4h0M2026 346.1h0M2027.1 311.3h0M2028.1 359.7h0M2029.2 357.2h0M2030.3 362.4h0M2031.3 366.2h0M2032.4 374h0M2033.5 404.4h0M2034.5 387.9h0M2035.6 391.5h0M2036.7 397.8h0M2037.7 354.8h0M2038.8 419.2h0M2039.9 414.6h0M2040.9 398.4h0M2042 421.6h0M2043.1 432.9h0M2044.1 436.2h0M2045.2 438.9h0M2046.3 446.4h0M2047.3 463.1h0M2048.4 495.8h0M2049.5 524h0" stroke="#D95319" stroke-width="10.6" stroke-linecap="round" fill="none"/><path d="M313.1 612 314.1 610.1 315.2 619 316.3 619 317.3 619 318.4 619 319.5 619 320.5 619 321.6 619 322.7 619 323.7 619 324.8 619 325.9 619 326.9 619 328 619 329.1 619 330.2 619 331.2 619 332.3 619 333.4 619 334.4 619 335.5 619 336.6 619 337.6 619 338.7 619 339.8 619 340.8 619 341.9 619 343 619 344 619 345.1 619 346.2 619 347.2 619 348.3 619 349.4 619 350.4 619 351.5 619 352.6 619 353.6 619 354.7 619M362.2 560.5 363.3 556.5 364.3 552.5 365.4 548.5 366.5 546 367.5 545.6 368.6 545.2 369.7 544.7 370.7 544.3 371.8 543.8 372.9 542.3 373.9 540.5 375 538.7 376.1 537 377.1 535.2 378.2 533.6 379.3 532.7 380.3 531.8 381.4 530.9 382.5 530 383.5 529.2 384.6 527.3 385.7 524.6 386.8 521.9 387.8 519.3 388.9 520.5 390 522.5 391 524.5 392.1 525.7 393.2 518.6 394.2 511.5 395.3 508.2 396.4 514.8 397.4 498.4 398.5 447.8 399.6 374.6 400.6 281.5 401.7 293.4 402.8 359.9 403.8 365.9 404.9 355.2 406 315.4 407 236.5 408.1 164.8 409.2 358 410.2 320.8 411.3 300.7 412.4 322 413.4 325.4 414.5 304.1 415.6 282.8 416.7 263.1 417.7 244.5 418.8 225.8 419.9 204.7 420.9 315.4 422 350.1 423.1 377.7 424.1 403.2 425.2 434.9 426.3 493.4 427.3 537.3 428.4 548.8 429.5 560.2 430.5 473.5 431.6 376.2 432.7 291.5 433.7 261.6 434.8 255.9 435.9 250.2 436.9 242.3 438 234.1 439.1 236.8 440.1 242.6 441.2 228 442.3 213.4 443.4 229.5 444.4 233.3 445.5 220.5 446.6 211.5 447.6 260.1M617.4 617.2 618.5 617.4 619.6 616.8 620.6 615.2 621.7 616.5 622.8 616.2 623.8 618.1 624.9 618.3 626 614.7 627 617.1 628.1 614.8 629.2 617.2 630.2 616 631.3 615.9 632.4 618.2 633.4 618.3 634.5 616.8 635.6 618 636.6 617.4 637.7 617.8 638.8 617.3 639.8 616.7 640.9 617.3 642 617.2 643 616.6 644.1 615.8 645.2 618.4 646.3 614.6 647.3 616.8 648.4 614.9 649.5 618.5 650.5 618.3 651.6 618.1 652.7 614.9 653.7 616.9 654.8 615.2 655.9 615.8 656.9 618.2 658 617.1 659.1 613 660.1 613 661.2 613 662.3 618.2 663.3 614.8 664.4 616.6 665.5 617.1 666.5 615.8 667.6 617.4 668.7 615.7 669.7 616.9 670.8 616.6 671.9 617.8 673 617.7 674 615.1 675.1 616.2 676.2 616.8 677.2 615.4 678.3 614.9 679.4 617.9 680.4 614.6 681.5 618.5 682.6 616.1 683.6 617.5 684.7 617.5 685.8 616.6 686.8 616.1 687.9 616.8 689 613.5 690 613.5 691.1 613.5 692.2 617.6 693.2 616.1 694.3 616.9 695.4 617.3 696.4 616.5 697.5 615.8 698.6 613 699.6 613 700.7 613 701.8 617.2 702.9 615 703.9 615.7 705 617.8 706.1 614.7 707.1 617.5 708.2 615.8 709.3 615.8 710.3 614.9 711.4 615.9 712.5 614.6 713.5 618.3 714.6 618.4 715.7 617.8 716.7 613.5 717.8 613.5 718.9 613.5 719.9 617.7 721 616.2 722.1 616.9 723.1 615.5 724.2 616.7 725.3 615 726.3 615.5 727.4 616.6 728.5 617.1 729.6 617.7 730.6 617.4 731.7 617.1 732.8 617.1 733.8 617.8 734.9 616.6 736 618.1 737 615.1 738.1 616.3 739.2 618.2M743.4 530.2 744.5 531.1 745.6 532.3 746.6 527.3 747.7 531.5 748.8 531.7 749.8 523.3 750.9 526.4 752 521.7 753 523.7 754.1 522.1 755.2 524 756.2 521.2 757.3 519.3 758.4 520.3 759.5 512 760.5 519.5 761.6 518.5 762.7 515.3 763.7 507.4 764.8 505.1 765.9 508 766.9 509.8 768 504.1 769.1 500.1 770.1 507.5 771.2 499.4 772.3 496.9 773.3 500 774.4 501.9 775.5 493.2M777.6 340.3 778.7 327.3 779.7 416.8 780.8 410.5 781.9 331.1 782.9 269.6 784 397.3 785.1 407 786.1 210.4 787.2 304.3 788.3 311.4 789.4 315.8 790.4 368.5 791.5 325.9 792.6 222.9 793.6 62.6 794.7 184.7 795.8 63.8 796.8 63.5 797.9 302.6 799 239.1 800 217.5 801.1 169.6 802.2 107.1 803.2 204.2 804.3 134.8 805.4 320 806.4 210.4 807.5 300.7 808.6 335.8 809.6 361.5 810.7 396.2 811.8 203.5 812.8 184.8 813.9 347.4 815 206.2 816.1 63.6 817.1 360.8 818.2 155.6 819.3 228.6 820.3 270.6 821.4 288 822.5 76.4 823.5 217 824.6 100.6 825.7 47.9 826.7 120 827.8 249.2 828.9 205.8 829.9 205.9 831 322.3 832.1 35.2 833.1 146.4 834.2 182.1 835.3 74.8 836.3 197.4 837.4 80.7 838.5 314.3 839.5 182.7 840.6 108.5 841.7 206.3 842.7 161 843.8 173 844.9 176.5 846 125.6 847 146.2 848.1 199.7 849.2 134.6 850.2 212.5 851.3 153.7 852.4 256.7 853.4 271.4 854.5 194 855.6 164.7 856.6 132.7 857.7 137.2 858.8 194 859.8 261.7 860.9 285.1 862 313 863 255.1 864.1 261.8 865.2 315.9 866.2 191.8 867.3 220.1 868.4 192.4 869.4 245.9 870.5 309.5 871.6 217.6 872.6 252.5 873.7 243.1 874.8 287.2 875.9 316.4 876.9 266.5 878 353.2 879.1 327.2M881.2 348.2 882.3 369.5 883.3 390.8 884.4 416 885.5 448 886.5 479.9 887.6 501.9 888.7 516.1 889.7 530.3 890.8 537.8 891.9 543.1 892.9 548.4 894 553.8 895.1 562.7 896.1 571.5 897.2 579.7 898.3 585 899.3 590.4 900.4 520.6 901.5 365.2 902.6 533.3 903.6 592.7 904.7 591.2 905.8 589.7 906.8 588.2 907.9 586.6 909 585.1 910 583.7 911.1 587.7 912.2 591.7 913.2 595.7 914.3 597.1 915.4 591.8 916.4 586.5 917.5 581.1 918.6 580.5 919.6 584.1 920.7 587.6 921.8 591.2 922.8 594.7 923.9 598.3 925 601.8 926 605.4 927.1 608.7 928.2 609.9 929.2 611.1 930.3 612.3 931.4 613.5 932.5 614.7 933.5 615.9 934.6 617.1M936.7 612.9 937.8 615.7 938.9 616.1 939.9 615.9 941 614.6 942.1 615.4 943.1 614.7 944.2 613.8 945.3 615.3 946.3 613.9 947.4 616.5 948.5 614.4 949.5 612.9 950.6 612.8 951.7 614.3 952.7 612.6 953.8 615.6 954.9 615.4 955.9 614.8 957 614.5 958.1 613.3 959.2 614.8 960.2 616.3 961.3 613.7 962.4 615.7 963.4 613 964.5 615.7 965.6 615.4 966.6 593.6 967.7 593.6 968.8 593.6 969.8 615.5 970.9 616.3 972 614.2 973 613.6 974.1 616.1 975.2 614.8 976.2 616.3 977.3 616.5 978.4 615 979.4 615.4 980.5 613 981.6 616.5 982.6 614 983.7 613.6 984.8 614.9 985.8 614.5 986.9 615.6 988 615.5 989.1 616.3 990.1 612.9 991.2 616.4 992.3 616 993.3 613.7 994.4 614.7 995.5 614.5 996.5 615.4 997.6 615.9 998.7 613.4 999.7 616 1000.8 615.4 1001.9 613.5 1002.9 615.4 1004 612.7 1005.1 615.8 1006.1 614.4 1007.2 614.4 1008.3 614.5 1009.3 613.5 1010.4 616.4 1011.5 614.4 1012.5 613.4 1013.6 588.6 1014.7 588.6 1015.7 588.6 1016.8 614.9 1017.9 614.4 1019 614 1020 613.7 1021.1 613 1022.2 613.9 1023.2 612.6 1024.3 613.9 1025.4 615.5 1026.4 616 1027.5 616.3 1028.6 615.5 1029.6 616.1 1030.7 613.8 1031.8 613.8 1032.8 614.1 1033.9 615 1035 614.7 1036 615.5 1037.1 612.9 1038.2 616.5 1039.2 615.3 1040.3 614.3 1041.4 615.8 1042.4 613.1 1043.5 614.6 1044.6 615.1 1045.7 616.3 1046.7 615.4 1047.8 614.2 1048.9 615.4 1049.9 616.4 1051 614.2 1052.1 615.3 1053.1 613.2 1054.2 613.8 1055.3 613.7 1056.3 613 1057.4 613.3 1058.5 615.2 1059.5 614.3 1060.6 615.5 1061.7 615.7 1062.7 615.7 1063.8 616.1 1064.9 615.6 1065.9 615.6 1067 613.9 1068.1 615.5 1069.1 616.4 1070.2 614.9 1071.3 615.7 1072.3 613.8 1073.4 608.6 1074.5 608.6 1075.6 608.6 1076.6 614.6 1077.7 613.1 1078.8 615.3 1079.8 614.4 1080.9 614.8 1082 616.3 1083 616.5 1084.1 613.2 1085.2 615.2 1086.2 613.8 1087.3 614.9 1088.4 613.2 1089.4 615.8 1090.5 614.6 1091.6 614.4 1092.6 613.4 1093.7 616.4 1094.8 615.1 1095.8 614.6 1096.9 614.2 1098 616 1099 614.4 1100.1 613.8 1101.2 613.6 1102.3 615.6 1103.3 614.8 1104.4 615.4 1105.5 615 1106.5 615.1 1107.6 612.8 1108.7 616.5 1109.7 612.8 1110.8 616.4 1111.9 616.2 1112.9 615.7 1114 615.4 1115.1 613.1 1116.1 613.2 1117.2 612.8 1118.3 615 1119.3 616.5 1120.4 614 1121.5 613 1122.5 616.1 1123.6 613.2 1124.7 616.5 1125.7 613.6 1126.8 614.6 1127.9 612.9 1128.9 613 1130 616.4 1131.1 614.6 1132.2 615.6 1133.2 614.8 1134.3 616.3M1138.6 528.8 1139.6 526.4 1140.7 530.7 1141.8 521.9 1142.8 513.9 1143.9 524.7 1145 509.7 1146 518 1147.1 523.8 1148.2 514 1149.2 523.1 1150.3 523.8 1151.4 521.5 1152.4 510.8 1153.5 518.8 1154.6 514.4 1155.6 511.6 1156.7 514.2 1157.8 501.7 1158.8 506.3 1159.9 503.8 1161 498.8 1162.1 503.9 1163.1 505.5 1164.2 500.1 1165.3 499 1166.3 500.4 1167.4 499.4 1168.5 494.9 1169.5 486.6 1170.6 492.4 1171.7 477.3M1174.9 425.5 1175.9 443.3 1177 395.3 1178.1 392.9 1179.1 415 1180.2 342.2 1181.3 342.8 1182.3 368.2 1183.4 339.2 1184.5 283.7 1185.5 269.2 1186.6 253.7 1187.7 253.3 1188.8 239.1 1189.8 373.7 1190.9 388.3 1192 307.9 1193 298.4 1194.1 320.9 1195.2 298.7 1196.2 320.8 1197.3 327.3 1198.4 340.4 1199.4 211.5 1200.5 142.1 1201.6 427.6 1202.6 245.8 1203.7 60.1 1204.8 431.1 1205.8 363.4 1206.9 41.2 1208 414.5 1209 296.8 1210.1 282.6 1211.2 389.8 1212.2 266.3 1213.3 239.7 1214.4 411.6 1215.4 307.3 1216.5 338.1 1217.6 247.1 1218.7 235.5 1219.7 170.8 1220.8 111.8 1221.9 385.9 1222.9 358.5 1224 351.4 1225.1 376 1226.1 373.9 1227.2 373.2 1228.3 374.2 1229.3 375.1 1230.4 381.7 1231.5 382.9 1232.5 385.5 1233.6 385.2 1234.7 387.7 1235.7 382.1 1236.8 390.5 1237.9 390.1 1238.9 385.2 1240 386.5 1241.1 383.4 1242.1 388.2 1243.2 390.5 1244.3 381.8 1245.3 386 1246.4 380.1 1247.5 386.5 1248.6 385.3 1249.6 378.6 1250.7 377.2 1251.8 378.2 1252.8 378.2 1253.9 377.3 1255 381.7 1256 382.2 1257.1 379.1 1258.2 376.8 1259.2 399 1260.3 432.3 1261.4 459.7 1262.4 485.1 1263.5 511.5 1264.6 530 1265.6 523.3 1266.7 521.5 1267.8 506.3 1268.8 508.6 1269.9 510.3 1271 516 1272 518 1273.1 517.1 1274.2 514.8 1275.3 508.3 1276.3 516.6 1277.4 520.6 1278.5 533.4 1279.5 550.7 1280.6 559.7 1281.7 571.3 1282.7 593.9 1283.8 603.7 1284.9 606.2 1285.9 606.2 1287 604.9 1288.1 605.4 1289.1 598.3 1290.2 601.8 1291.3 600.4 1292.3 596.3 1293.4 602.9 1294.5 604.1 1295.5 598.9 1296.6 603.7 1297.7 605.5 1298.7 610.6 1299.8 608.1 1300.9 612.4 1301.9 612.5M1304.1 616.4 1305.2 617.7 1306.2 614.5 1307.3 615.3 1308.4 614.2 1309.4 616.8 1310.5 616.9 1311.6 617.5 1312.6 616.8 1313.7 616.7 1314.8 617.3 1315.8 617 1316.9 616.9 1318 614.6 1319 564.7 1320.1 564.7 1321.2 564.7 1322.2 617.3 1323.3 614.2 1324.4 617.8 1325.4 617.8 1326.5 616 1327.6 616.9 1328.6 617.3 1329.7 615.6 1330.8 615.6 1331.9 617.3 1332.9 615.9 1334 616.2 1335.1 614.7 1336.1 617.8 1337.2 617.1 1338.3 615.8 1339.3 617.9 1340.4 614.7 1341.5 614.2 1342.5 601.1 1343.6 601.1 1344.7 601.1 1345.7 614.3 1346.8 617.2 1347.9 618 1348.9 617.8 1350 616.2 1351.1 617.9 1352.1 614.1 1353.2 615.5 1354.3 615.8 1355.3 615.5 1356.4 616.4 1357.5 614.5 1358.5 615.2 1359.6 616.3 1360.7 616.9 1361.8 617.5 1362.8 616.8 1363.9 616.6 1365 617.7 1366 614.3 1367.1 617 1368.2 615.9 1369.2 617.8 1370.3 615.8 1371.4 615.5 1372.4 617.7 1373.5 614.1 1374.6 617.4 1375.6 617 1376.7 615.1 1377.8 616.7 1378.8 614.5 1379.9 617.1 1381 616.8 1382 615.3 1383.1 614.6 1384.2 614.5 1385.2 616.9 1386.3 615.9 1387.4 616.4 1388.4 615.3 1389.5 617.1 1390.6 614.7 1391.7 615.2 1392.7 617.3 1393.8 616.8 1394.9 616.7 1395.9 614.3 1397 616.2 1398.1 615.6 1399.1 614.3 1400.2 616.5 1401.3 614.3 1402.3 616.9 1403.4 618 1404.5 617.6 1405.5 615.3 1406.6 616.5 1407.7 614.7 1408.7 615.9 1409.8 615.3 1410.9 616.6 1411.9 615.7 1413 615.3 1414.1 616.5 1415.1 616.1 1416.2 614.7 1417.3 614.3 1418.4 616.6 1419.4 617.8 1420.5 614.7 1421.6 616.3 1422.6 614.2 1423.7 615 1424.8 616.6 1425.8 614.6 1426.9 615.9 1428 615.2 1429 614.5 1430.1 615.7 1431.2 614.3 1432.2 616.4 1433.3 616.5 1434.4 615.5 1435.4 616.4 1436.5 615.2 1437.6 615.9 1438.6 615.1 1439.7 614.7 1440.8 615.8 1441.8 614.4 1442.9 601.1 1444 601.1 1445 601.1 1446.1 618 1447.2 615.5 1448.3 616.7 1449.3 614.6 1450.4 616.5 1451.5 615.1 1452.5 617.1 1453.6 615.5 1454.7 614.4 1455.7 614.6 1456.8 616.6 1457.9 616.1 1458.9 615.9 1460 616.7 1461.1 616.1 1462.1 614.2 1463.2 614.5 1464.3 616.8 1465.3 615.3 1466.4 614.3 1467.5 616.6 1468.5 614.7 1469.6 614.9 1470.7 614.5 1471.7 617.7 1472.8 614.4 1473.9 614.1 1475 617.1 1476 615.5 1477.1 617.7 1478.2 615.6 1479.2 615.2 1480.3 615.1 1481.4 614.6 1482.4 616.9 1483.5 617.6 1484.6 614.8 1485.6 617.9 1486.7 617.1 1487.8 617.1 1488.8 614.9 1489.9 616.3 1491 614.7 1492 615.4 1493.1 614.7 1494.2 614.9 1495.2 614.5 1496.3 616.9 1497.4 616.6 1498.4 615.5 1499.5 615.7 1500.6 614.9 1501.6 614.8 1502.7 587.1 1503.8 587.1 1504.9 587.1 1505.9 615.3 1507 616.9 1508.1 617.8 1509.1 617.9 1510.2 617 1511.3 616.9 1512.3 617.2 1513.4 617.8 1514.5 617.4 1515.5 616.6 1516.6 617.7 1517.7 617.2 1518.7 616.3 1519.8 614.7 1520.9 614.6 1521.9 616.4 1523 617.5 1524.1 617 1525.1 615.3M1527.3 539.9 1528.3 538.5 1529.4 537.2 1530.5 535.8 1531.5 534.4 1532.6 533.1 1533.7 531.7 1534.8 527.4 1535.8 521.9 1536.9 516.4 1538 495.6 1539 472.9 1540.1 450.3 1541.2 427.7 1542.2 403.2 1543.3 376.1 1544.4 348.9 1545.4 332.8 1546.5 324.4 1547.6 315.9 1548.6 307.5 1549.7 300.9 1550.8 298.9 1551.8 313.5 1552.9 332.7M1555 389.3 1556.1 294.4 1557.2 482 1558.2 345.1 1559.3 256.7 1560.4 268.1 1561.5 340.3 1562.5 336.5 1563.6 372.7 1564.7 403.6 1565.7 337.5 1566.8 286.4 1567.9 318.4 1568.9 304.6 1570 370.3 1571.1 373.6 1572.1 154.8 1573.2 494.4 1574.3 497 1575.3 439.1 1576.4 477.7 1577.5 361.5 1578.5 267.8 1579.6 277.3 1580.7 326.3 1581.7 277.7 1582.8 323.2 1583.9 471.5 1584.9 333 1586 443.5 1587.1 215.4 1588.1 399.4 1589.2 516.8 1590.3 374.8 1591.4 329.2 1592.4 463.6 1593.5 91.4 1594.6 70.1 1595.6 414.2 1596.7 178.4 1597.8 297.1 1598.8 391.9 1599.9 129.9 1601 341.4 1602 399.2 1603.1 254.8 1604.2 299.1 1605.2 467.3 1606.3 209.1 1607.4 319.3 1608.4 388.4 1609.5 258.4 1610.6 208.3 1611.6 294.9 1612.7 167.8 1613.8 181.6 1614.8 282.8 1615.9 297.9 1617 239.7 1618 305.2 1619.1 239.5 1620.2 313.1 1621.3 279.6 1622.3 293.4 1623.4 401 1624.5 319.3M1626.6 319 1627.7 336.3 1628.7 353.6 1629.8 370.9 1630.9 381.1 1631.9 389.6 1633 398.2 1634.1 406.7 1635.1 412.3 1636.2 398.5 1637.3 384.7 1638.3 370.8 1639.4 357 1640.5 359.7 1641.5 383.2 1642.6 406.6 1643.7 430 1644.7 453.4 1645.8 453.3 1646.9 445.8 1648 438.4 1649 430.9 1650.1 425.5 1651.2 442.5 1652.2 459.5 1653.3 476.6 1654.4 493.6 1655.4 506.2 1656.5 512.1 1657.6 517.9 1658.6 523.8 1659.7 529.6 1660.8 521.3 1661.8 507.3 1662.9 493.3 1664 479.3 1665 493.2 1666.1 507.8 1667.2 522.4 1668.2 536.5 1669.3 548.5 1670.4 560.4 1671.4 572.4 1672.5 582.3 1673.6 589.9 1674.6 597.5 1675.7 605.1 1676.8 606.9 1677.9 606.6 1678.9 606.3 1680 606.1 1681.1 605.8 1682.1 605.5 1683.2 605.3 1684.3 605 1685.3 604.7 1686.4 604.5 1687.5 604.2 1688.5 603.9 1689.6 603.7 1690.7 603.9 1691.7 604.4 1692.8 605 1693.9 605.5 1694.9 606 1696 606.6 1697.1 607.1 1698.1 607.6 1699.2 608.2 1700.3 559 1701.3 369.2 1702.4 253.1 1703.5 604.4 1704.6 607.8 1705.6 607.1 1706.7 606.3 1707.8 581.3 1708.8 540.3 1709.9 570.6 1711 607.1 1712 609.4 1713.1 610.3 1714.2 611.2 1715.2 612.1 1716.3 613 1717.4 613.9 1718.4 614.7 1719.5 615.6M1721.6 613.8 1722.7 615.1 1723.8 614 1724.8 614.8 1725.9 612.9 1727 614.7 1728 613.3 1729.1 614.2 1730.2 615.1 1731.2 612.7 1732.3 615.8 1733.4 612.9 1734.5 612.6 1735.5 613.2 1736.6 614.1 1737.7 614.1 1738.7 612.8 1739.8 614.8 1740.9 613.3 1741.9 613.4 1743 613.1 1744.1 608.6 1745.1 608.6 1746.2 608.6 1747.3 616.3 1748.3 616.1 1749.4 613.6 1750.5 615.1 1751.5 612.9 1752.6 616.2 1753.7 615.9 1754.7 613.2 1755.8 614.9 1756.9 615.7 1757.9 613.4 1759 615.6 1760.1 612.7 1761.1 615.4 1762.2 613.1 1763.3 614.6 1764.4 612.8 1765.4 603.6 1766.5 603.6 1767.6 603.6 1768.6 614.8 1769.7 614 1770.8 614.3 1771.8 613.9 1772.9 613.8 1774 615.5 1775 616.5 1776.1 613.7 1777.2 614.1 1778.2 614.3 1779.3 614.6 1780.4 612.8 1781.4 615.4 1782.5 612.9 1783.6 615.9 1784.6 613.8 1785.7 612.8 1786.8 615.9 1787.8 613.5 1788.9 615.5 1790 616.3 1791.1 614.8 1792.1 613.8 1793.2 615.4 1794.3 612.7 1795.3 616.5 1796.4 615.5 1797.5 615.2 1798.5 615.1 1799.6 615.3 1800.7 616.5 1801.7 615.7 1802.8 615.5 1803.9 613.9 1804.9 615 1806 613.7 1807.1 614.8 1808.1 615.2 1809.2 615.9 1810.3 596.6 1811.3 596.6 1812.4 596.6 1813.5 615.3 1814.5 615.7 1815.6 613 1816.7 613.7 1817.7 613.8 1818.8 613.3 1819.9 615.6 1821 613.6 1822 616.3 1823.1 613.9 1824.2 615.3 1825.2 613.9 1826.3 615.6 1827.4 615.1 1828.4 613.9 1829.5 612.8 1830.6 615.2 1831.6 615.9 1832.7 616 1833.8 613.9 1834.8 613 1835.9 616.5 1837 615.2 1838 615.9 1839.1 612.7 1840.2 616 1841.2 616.3 1842.3 613.5 1843.4 612.6 1844.4 613.5 1845.5 616.1 1846.6 614.9 1847.6 614.5 1848.7 613 1849.8 613.5 1850.9 616.3 1851.9 614.7 1853 613.4 1854.1 614.4 1855.1 613.9 1856.2 596.1 1857.3 596.1 1858.3 596.1 1859.4 614.3 1860.5 615.3 1861.5 615.9 1862.6 615.9 1863.7 614 1864.7 613.5 1865.8 613.1 1866.9 612.9 1867.9 615.4 1869 615.2 1870.1 615.8 1871.1 614.4 1872.2 612.8 1873.3 613.5 1874.3 614.8 1875.4 615.9 1876.5 613.2 1877.6 613 1878.6 613.5 1879.7 615.4 1880.8 615 1881.8 614.2 1882.9 612.9 1884 615.6 1885 614.9 1886.1 616.3 1887.2 616.5 1888.2 615.6 1889.3 613.3 1890.4 613.8 1891.4 614.6 1892.5 614.9 1893.6 615.5 1894.6 613.5 1895.7 614.6 1896.8 616.3 1897.8 614 1898.9 612.6 1900 598.6 1901 598.6 1902.1 598.6 1903.2 615.3 1904.2 612.6 1905.3 612.7 1906.4 615.8 1907.5 613.7 1908.5 614.1 1909.6 615 1910.7 613.4 1911.7 614 1912.8 615.6 1913.9 614.6 1914.9 613.7 1916 614.1 1917.1 614.4 1918.1 613.6M1922.4 526.6 1923.5 529 1924.5 530.6 1925.6 526.3 1926.7 529.6 1927.7 527.1 1928.8 525.3 1929.9 532.8 1930.9 529 1932 527.6 1933.1 525.2 1934.2 520.6 1935.2 522.6 1936.3 524.5 1937.4 519.8 1938.4 522.1 1939.5 518.8 1940.6 521.7 1941.6 514.9 1942.7 513.7 1943.8 509.9 1944.8 508.5 1945.9 504.8 1947 499.1 1948 501.2 1949.1 489.7 1950.2 473.2 1951.2 454.8 1952.3 438.9 1953.4 420.8 1954.4 391.1M1956.6 422.2 1957.6 186.2 1958.7 263.3 1959.8 306.2 1960.8 223 1961.9 295.1 1963 340.5 1964.1 252.9 1965.1 372.1 1966.2 362.9 1967.3 354 1968.3 453.3 1969.4 323.1 1970.5 464.1 1971.5 408 1972.6 430.6 1973.7 485.7 1974.7 448.1 1975.8 364.7 1976.9 294.6 1977.9 429.3 1979 285.1 1980.1 377.2 1981.1 271.5 1982.2 339.6 1983.3 301 1984.3 340.3 1985.4 353.7 1986.5 336.9 1987.5 209.8 1988.6 479.4 1989.7 225.4 1990.7 188.7 1991.8 139.9 1992.9 208.1 1994 71.6 1995 434.3 1996.1 236.7 1997.2 122.2 1998.2 444.8 1999.3 133.3 2000.4 432.2 2001.4 470.8 2002.5 477.4 2003.6 352.8 2004.6 210.5 2005.7 401.2 2006.8 343.5 2007.8 344.3 2008.9 226.3 2010 325.3 2011 349.5M2013.2 354.3 2014.2 411 2015.3 461 2016.4 497.4 2017.4 513.3 2018.5 507.7 2019.6 525.5 2020.7 510.2 2021.7 488.6 2022.8 465.9 2023.9 458.2 2024.9 450.3 2026 459.6 2027.1 468.6 2028.1 468.7 2029.2 468.5 2030.3 476.8 2031.3 451.5 2032.4 449.7 2033.5 432.9 2034.5 417.7 2035.6 422.2 2036.7 421.1 2037.7 432.2 2038.8 444.8 2039.9 467.1 2040.9 448 2042 443 2043.1 434.2 2044.1 456.2 2045.2 490.9 2046.3 508.7 2047.3 511.5" stroke="#0072BD" stroke-width="2.4" stroke-linejoin="round" fill="none"/><path d="M234.7 612.6h0M236.5 613.5h0M262 613h0M274 613h0M243 612.1h0" stroke="#0072BD" stroke-width="3.0" stroke-linecap="round" fill="none"/></g>
<g clip-path="url(#clipB)"><path d="M198.8 1127.8 199.3 1118.9 199.9 1130.6 200.4 1139.5 200.9 1143.5 201.5 1138.8 202 1133.2 202.5 1134 203.1 1145.3 203.6 1137.7 204.1 1122.9 204.7 1118 205.2 1125.5 205.7 1121.4 206.3 1115.8 206.8 1128.8 207.3 1119.1 207.9 1124.2 208.4 1112 208.9 1108.6 209.5 1121.1 210 1120.9 210.5 1110.7 211.1 1141.7 211.6 1133.7 212.1 1112 212.7 1136 213.2 1136.8 213.8 1159 214.3 1143 214.8 1172.6 215.4 1173.3 215.9 1174.1 216.4 1170.4 217 1151.5 217.5 1132.8 218 1120.2 218.6 1112.8 219.1 1115 219.6 1134.1 220.2 1135.7 220.7 1082.6 221.2 1068.8 221.8 1068.4 222.3 1068 222.8 1067.6 223.4 1090.2 223.9 1066.8 224.4 1085.8 225 1107.5 225.5 1066.6 226 1118.7 226.6 1109.3 227.1 1147.9 227.6 1149.9 228.2 1139.7 228.7 1141.7 229.2 1131.4 229.8 1157.8 230.3 1141.6 230.8 1166.3 231.4 1178.6 231.9 1189.5 232.4 1177.2 233 1188.8 233.5 1168.8 234 1168.4 234.6 1174.6 235.1 1126.6 235.6 1123.2 236.2 1147.1 236.7 1136 237.2 1184.2 237.8 1165.6 238.3 1156.1 238.8 1167.6 239.4 1163.2 239.9 1167.9 240.4 1126.6 241 1154.3 241.5 1119.9 242.1 1111.4 242.6 1152.9 243.1 1173.9 243.7 1137.6 244.2 1158.4 244.7 1161.5 245.3 1167.8 245.8 1193.8 246.3 1196.8 246.9 1198.9 247.4 1201.1 247.9 1188.5 248.5 1134.3 249 1081.8 249.5 1081.6 250.1 1092.6 250.6 1090.1 251.1 1057.4 251.7 1075.7 252.2 1097.1 252.7 1111.7 253.3 1094.1 253.8 1047.8 254.3 1101.9 254.9 1164.2 255.4 1155.6 255.9 1134.9 256.5 1117.5 257 1080.5 257.5 1087.8 258.1 1116.7 258.6 1145.3 259.1 1121.8 259.7 1130 260.2 1118.8 260.7 1136.7 261.3 1136.8 261.8 1168.8 262.3 1168.8 262.9 1159.5 263.4 1124.6 263.9 1104.7 264.5 1100.5 265 1110.8 265.5 1070.6 266.1 1080.4 266.6 1079.8 267.1 1070.8 267.7 1057.1 268.2 1065.1 268.7 1067.8 269.3 1087.8 269.8 1120.9 270.3 1128.1 270.9 1127 271.4 1117.5 272 1113.7 272.5 1102.4 273 1104.4 273.6 1123.4 274.1 1157.5 274.6 1129.1 275.2 1104.8 275.7 1113 276.2 1097.3 276.8 1098.6 277.3 1108 277.8 1150.2 278.4 1152.9 278.9 1148.4 279.4 1104.3 280 1130.9 280.5 1126.9 281 1142.5 281.6 1143.1 282.1 1126.4 282.6 1150.5 283.2 1192.8 283.7 1138.6 284.2 1115.9 284.8 1121.2 285.3 1088.5 285.8 1074.1 286.4 1130.6 286.9 1128.8 287.4 1109.4 288 1122.1 288.5 1126.9 289 1102.1 289.6 1106.3 290.1 1156.1 290.6 1159.5 291.2 1189.5 291.7 1162.3 292.2 1194.7 292.8 1159.1 293.3 1175 293.8 1174.4 294.4 1191 294.9 1182 295.4 1165.1 296 1136.5 296.5 1117.3 297 1133.9 297.6 1143.6 298.1 1119.4 298.6 1116.8 299.2 1144.9 299.7 1133.3 300.3 1137.1 300.8 1125.4 301.3 1127.9 301.9 1132.8 302.4 1151.2 302.9 1163.7 303.5 1194.4 304 1195.1 304.5 1191.2 305.1 1162 305.6 1180.1 306.1 1117.7 306.7 1133.3 307.2 1117.7 307.7 1097.6 308.3 1161.1 308.8 1157.3 309.3 1122.1 309.9 1176.7 310.4 1151.5 310.9 1163.8 311.5 1168.3 312 1153.3 312.5 1174.7 313.1 1151.3 313.6 1157.6 314.1 1161.5 314.7 1125 315.2 1087.3 315.7 1087.7 316.3 1088.2 316.8 1101.8 317.3 1119.3 317.9 1117.2 318.4 1091.6 318.9 1092.4 319.5 1090.4 320 1104.1 320.5 1090.4 321.1 1119.8 321.6 1114.3 322.1 1119.2 322.7 1116.8 323.2 1129.8 323.7 1136.1 324.3 1126.3 324.8 1127.5 325.3 1135.2 325.9 1150.1 326.4 1132.5 326.9 1102.4 327.5 1122.8 328 1128.8 328.6 1135.7 329.1 1094.7 329.6 1102.9 330.2 1110.6 330.7 1104.7 331.2 1090.6 331.8 1090.7 332.3 1116 332.8 1125.3 333.4 1136 333.9 1147.7 334.4 1169.5 335 1166.4 335.5 1175.6 336 1169.9 336.6 1166.1 337.1 1178.4 337.6 1186.2 338.2 1185.8 338.7 1163.7 339.2 1144 339.8 1152.9 340.3 1183.9 340.8 1183.4 341.4 1182.9 341.9 1182.4 342.4 1182 343 1181.4 343.5 1181 344 1156.8 344.6 1156.9 345.1 1157.5 345.6 1159.8 346.2 1169.8 346.7 1162.5 347.2 1162.6 347.8 1161 348.3 1146.9 348.8 1136.2 349.4 1130.6 349.9 1117.5 350.4 1119.9 351 1138.2 351.5 1161.3 352 1166.4 352.6 1156.8 353.1 1146.7 353.6 1131.3 354.2 1135.7 354.7 1142.2 355.2 1123.6 355.8 1117.4 356.3 1125.2 356.9 1124.9 357.4 1113.1 357.9 1119.9 358.5 1119.1 359 1144.7 359.5 1124.2 360.1 1122.5 360.6 1123.3 361.1 1133.7 361.7 1139.7 362.2 1142.6 362.7 1148.5 363.3 1130.2 363.8 1147 364.3 1121.7 364.9 1119.6 365.4 1094 365.9 1115.8 366.5 1114 367 1108.3 367.5 1110.7 368.1 1129.5 368.6 1131.1 369.1 1112.5 369.7 1130.9 370.2 1135.3 370.7 1119.4 371.3 1132.5 371.8 1118 372.3 1139.9 372.9 1155.7 373.4 1155.2 373.9 1120.9 374.5 1119.4 375 1114.6 375.5 1108.9 376.1 1127.1 376.6 1099.9 377.1 1096.4 377.7 1095.2 378.2 1118 378.7 1133.5 379.3 1150.2 379.8 1147.3 380.3 1134.1 380.9 1114.4 381.4 1090.9 381.9 1088.1 382.5 1084.7 383 1067.9 383.5 1056 384.1 1081.5 384.6 1069.1 385.1 1084.9 385.7 1095.7 386.2 1093.6 386.8 1096.5 387.3 1104.2 387.8 1085.8 388.4 1084.7 388.9 1091.2 389.4 1094.3 390 1081.6 390.5 1093.2 391 1073.5 391.6 1074.2 392.1 1062 392.6 1045.4 393.2 1047.3 393.7 1060.4 394.2 1069.4 394.8 1098 395.3 1051.9 395.8 1078 396.4 1070.7 396.9 1067.9 397.4 1111.2 398 1121 398.5 1119.3 399 1128 399.6 1140.9 400.1 1134.3 400.6 1112.3 401.2 1102.2 401.7 1108.2 402.2 1110.4 402.8 1129.9 403.3 1114.3 403.8 1101.3 404.4 1113.4 404.9 1115.2 405.4 1121.6 406 1127.3 406.5 1139.4 407 1137.8 407.6 1139.2 408.1 1128.4 408.6 1111.3 409.2 1104.6 409.7 1115.2 410.2 1118.9 410.8 1086.6 411.3 1118.4 411.8 1095.1 412.4 1087.3 412.9 1092.1 413.4 1092.8 414 1109.6 414.5 1131.1 415.1 1137.6 415.6 1137.5 416.1 1137.4 416.7 1126.5 417.2 1101.5 417.7 1137 418.3 1136.9 418.8 1136.8 419.3 1126.5 419.9 1119 420.4 1093.3 420.9 1080.7 421.5 1076.6 422 1048.8 422.5 1056.7 423.1 1044.8 423.6 1069.9 424.1 1077.8 424.7 1089.5 425.2 1054.3 425.7 1029.3 426.3 1029.4 426.8 1081.6 427.3 1088.4 427.9 1076.3 428.4 1085.8 428.9 1073.1 429.5 1062.3 430 1110.2 430.5 1069.8 431.1 1092.4 431.6 1099.7 432.1 1067.5 432.7 1086.1 433.2 1110.2 433.7 1112.7 434.3 1092.5 434.8 1068.5 435.3 1063.4 435.9 1075.6 436.4 1085.4 436.9 1061.7 437.5 1079.1 438 1038.2 438.5 1048.1 439.1 1060.4 439.6 1070.3 440.1 1071.6 440.7 1085.9 441.2 1098.1 441.7 1091.7 442.3 1098.4 442.8 1096.5 443.4 1094.1 443.9 1094.4 444.4 1099.3 445 1092.8 445.5 1056.1 446 1072.1 446.6 1085.7 447.1 1077.7 447.6 1055.7 448.2 1064.7 448.7 1063.9 449.2 1075 449.8 1082.5 450.3 1072.9 450.8 1067 451.4 1096.8 451.9 1109.9 452.4 1143.5 453 1112.4 453.5 1080.9 454 1053.6 454.6 1060.7 455.1 1042.4 455.6 1068.1 456.2 1083.4 456.7 1104 457.2 1099.5 457.8 1101.1 458.3 1078.2 458.8 1059.2 459.4 1075.2 459.9 1067.5 460.4 1079.3 461 1094.1 461.5 1120.3 462 1120.1 462.6 1143 463.1 1128.5 463.6 1129.9 464.2 1112.8 464.7 1108.3 465.2 1103.1 465.8 1109.2 466.3 1079.3 466.8 1117 467.4 1091.3 467.9 1088.3 468.4 1100.6 469 1116.7 469.5 1110.7 470 1111.3 470.6 1091.2 471.1 1078.3 471.7 1092.5 472.2 1093.6 472.7 1086.4 473.3 1094.4 473.8 1122.2 474.3 1126.7 474.9 1103.1 475.4 1113.1 475.9 1118.1 476.5 1125.8 477 1128.1 477.5 1138.7 478.1 1153.1 478.6 1120.6 479.1 1134.2 479.7 1124.1 480.2 1144.5 480.7 1124.9 481.3 1139.5 481.8 1088.7 482.3 1103.7 482.9 1117.6 483.4 1092.8 483.9 1071.6 484.5 1128.6 485 1124.8 485.5 1106.8 486.1 1136.8 486.6 1122.3 487.1 1145.3 487.7 1163.7 488.2 1155.7 488.7 1160.1 489.3 1178.5 489.8 1133.9 490.3 1148.2 490.9 1162.8 491.4 1148.6 491.9 1164.9 492.5 1131.5 493 1151.2 493.5 1141.3 494.1 1146 494.6 1138.9 495.1 1148.3 495.7 1162.7 496.2 1125.3 496.7 1151.9 497.3 1158.1 497.8 1165.4 498.3 1150.8 498.9 1134.1 499.4 1106.3 500 1137.3 500.5 1119 501 1119.1 501.6 1118 502.1 1105 502.6 1145.4 503.2 1125.9 503.7 1115.7 504.2 1123.1 504.8 1115.3 505.3 1077.2 505.8 1097.3 506.4 1087.5 506.9 1097.4 507.4 1129.7 508 1164.6 508.5 1160.3 509 1136.3 509.6 1117.9 510.1 1140.2 510.6 1106.6 511.2 1102.1 511.7 1120 512.2 1114.6 512.8 1149.2 513.3 1186.9 513.8 1140.5 514.4 1201.2 514.9 1171.7 515.4 1200.1 516 1177.7 516.5 1174.3 517 1174.1 517.6 1212.7 518.1 1204.8 518.6 1205.2 519.2 1211.4 519.7 1181.2 520.2 1145.3 520.8 1159.2 521.3 1157.5 521.8 1168.5 522.4 1157 522.9 1130 523.4 1072.9 524 1083 524.5 1083.8 525 1068.2 525.6 1114.1 526.1 1091.7 526.6 1119.5 527.2 1143.7 527.7 1110.8 528.2 1117.5 528.8 1091.9 529.3 1149.3 529.9 1155.5 530.4 1174.4 530.9 1180.1 531.5 1218.7 532 1164 532.5 1170.1 533.1 1188.7 533.6 1220.2 534.1 1220 534.7 1191.7 535.2 1211.2 535.7 1219.3 536.3 1207 536.8 1201.6 537.3 1193 537.9 1181 538.4 1154.9 538.9 1140.6 539.5 1185.1 540 1162.6 540.5 1162.4 541.1 1159.1 541.6 1146 542.1 1157.4 542.7 1153.3 543.2 1123.5 543.7 1149 544.3 1165.2 544.8 1139.7 545.3 1125.1 545.9 1143.4 546.4 1132.4 546.9 1156.4 547.5 1155 548 1119.3 548.5 1105.9 549.1 1126.3 549.6 1132.9 550.1 1162.2 550.7 1137.5 551.2 1109.4 551.7 1085.8 552.3 1061 552.8 1061.1 553.3 1061.3 553.9 1076.7 554.4 1061.6 554.9 1061.7 555.5 1061.9 556 1062 556.5 1062.2 557.1 1062.3 557.6 1062.5 558.2 1062.6 558.7 1062.8 559.2 1062.9 559.8 1087 560.3 1083.6 560.8 1080.5 561.4 1066.4 561.9 1068.4 562.4 1098.7 563 1097.5 563.5 1084.3 564 1099.4 564.6 1101.9 565.1 1111.3 565.6 1081.1 566.2 1063.8 566.7 1074.1 567.2 1064 567.8 1064.1 568.3 1067.4 568.8 1078.9 569.4 1103.7 569.9 1118.9 570.4 1112.9 571 1099.7 571.5 1110.2 572 1092.2 572.6 1096.3 573.1 1124.3 573.6 1091.7 574.2 1072 574.7 1103.6 575.2 1076.1 575.8 1094.3 576.3 1120.6 576.8 1107.4 577.4 1156.1 577.9 1193 578.4 1162 579 1149.2 579.5 1164.6 580 1115.7 580.6 1096.8 581.1 1118.8 581.6 1110.2 582.2 1086.8 582.7 1066.2 583.2 1109 583.8 1105.6 584.3 1121.9 584.8 1158.8 585.4 1132.5 585.9 1156 586.5 1150.8 587 1115.7 587.5 1107.1 588.1 1099.5 588.6 1099.3 589.1 1109.6 589.7 1109.7 590.2 1142.6 590.7 1144.7 591.3 1113.1 591.8 1120.9 592.3 1114.2 592.9 1089.2 593.4 1071 593.9 1102 594.5 1119.4 595 1123 595.5 1121.8 596.1 1123.4 596.6 1110.1 597.1 1096.3 597.7 1102.5 598.2 1069.9 598.7 1069.5 599.3 1077.7 599.8 1070.3 600.3 1068.6 600.9 1068.7 601.4 1080.5 601.9 1088 602.5 1098.2 603 1120.3 603.5 1116.4 604.1 1112 604.6 1112.7 605.1 1128.2 605.7 1114.7 606.2 1150.4 606.7 1125.8 607.3 1130.9 607.8 1127.4 608.3 1163.8 608.9 1131.3 609.4 1161.5 609.9 1168 610.5 1143.1 611 1145.4 611.5 1143.2 612.1 1155.7 612.6 1148.1 613.1 1130.4 613.7 1114.4 614.2 1110.5 614.8 1103.1 615.3 1095.7 615.8 1109.2 616.4 1116.6 616.9 1078.9 617.4 1109.6 618 1093.6 618.5 1100.8 619 1086.4 619.6 1115.5 620.1 1106.4 620.6 1110.5 621.2 1118.2 621.7 1117.7 622.2 1138.7 622.8 1138.6 623.3 1150.6 623.8 1140.2 624.4 1141.8 624.9 1158.1 625.4 1154.2 626 1148.2 626.5 1142 627 1114.2 627.6 1116.3 628.1 1110.1 628.6 1127.7 629.2 1132.5 629.7 1119.4 630.2 1144.2 630.8 1124.4 631.3 1120.8 631.8 1127.7 632.4 1124.4 632.9 1137 633.4 1120 634 1129.9 634.5 1132.9 635 1121.7 635.6 1127.1 636.1 1143.8 636.6 1109.5 637.2 1116.2 637.7 1154.7 638.2 1142.8 638.8 1121.8 639.3 1122 639.8 1101.5 640.4 1102.8 640.9 1092.2 641.4 1105.7 642 1108.2 642.5 1076.3 643 1083.3 643.6 1088.2 644.1 1124.5 644.7 1116.9 645.2 1125.7 645.7 1103.6 646.3 1110.7 646.8 1102.5 647.3 1113.5 647.9 1094.3 648.4 1109 648.9 1100.1 649.5 1066.1 650 1075 650.5 1094.7 651.1 1078.7 651.6 1066.8 652.1 1062.5 652.7 1105.5 653.2 1108.9 653.7 1144.2 654.3 1102.5 654.8 1104.9 655.3 1113.3 655.9 1096 656.4 1088.1 656.9 1110.7 657.5 1076 658 1086.3 658.5 1120.6 659.1 1085.7 659.6 1075.1 660.1 1054.5 660.7 1069.6 661.2 1092.5 661.7 1078.9 662.3 1050.1 662.8 1049.6 663.3 1049.1 663.9 1068.4 664.4 1057.1 664.9 1051.4 665.5 1095.6 666 1120.6 666.5 1118.8 667.1 1104.9 667.6 1103.1 668.1 1110.1 668.7 1108.2 669.2 1093.1 669.7 1087.1 670.3 1076.1 670.8 1059.7 671.3 1070.2 671.9 1070.3 672.4 1085 673 1082.3 673.5 1091.2 674 1050.7 674.6 1068 675.1 1082 675.6 1105.7 676.2 1099.7 676.7 1100.1 677.2 1110.2 677.8 1120.7 678.3 1160.4 678.8 1168 679.4 1157.9 679.9 1144.4 680.4 1114.4 681 1136.8 681.5 1185.4 682 1174.7 682.6 1207 683.1 1207.1 683.6 1164.1 684.2 1129.3 684.7 1134.2 685.2 1136.5 685.8 1163.6 686.3 1207.4 686.8 1176.8 687.4 1171.3 687.9 1130.3 688.4 1148.2 689 1115.1 689.5 1143.4 690 1112.7 690.6 1146.6 691.1 1130.8 691.6 1138.2 692.2 1160.5 692.7 1168.9 693.2 1154 693.8 1141.6 694.3 1113.5 694.8 1091.9 695.4 1183.4 695.9 1161.3 696.4 1189.6 697 1184.2 697.5 1147 698 1159.8 698.6 1174.9 699.1 1162.7 699.6 1155.2 700.2 1084.2 700.7 1098.5 701.3 1086.1 701.8 1051.7 702.3 1086.1 702.9 1099.4 703.4 1132.9 703.9 1111.1 704.5 1079.1 705 1064.5 705.5 1066.5 706.1 1109.1 706.6 1122.5 707.1 1149.9 707.7 1120 708.2 1075.4 708.7 1130.2 709.3 1170 709.8 1099 710.3 1130.5 710.9 1085.4 711.4 1118.3 711.9 1074.1 712.5 1050.3 713 1052.3 713.5 1045.8 714.1 1052.8 714.6 1063.7 715.1 1044.2 715.7 1043.5 716.2 1087.4 716.7 1101.9 717.3 1111 717.8 1112.6 718.3 1107.8 718.9 1117.3 719.4 1099.8 719.9 1104.6 720.5 1099 721 1092.9 721.5 1071.4 722.1 1095.5 722.6 1053.1 723.1 1058.9 723.7 1075.5 724.2 1065.7 724.7 1048.4 725.3 1049.9 725.8 1054.5 726.3 1061 726.9 1106.8 727.4 1086.5 727.9 1090.1 728.5 1111.4 729 1058 729.6 1119 730.1 1109.1 730.6 1088.6 731.2 1079.3 731.7 1072.9 732.2 1117.7 732.8 1139.3 733.3 1110.6 733.8 1110.9 734.4 1071.4 734.9 1076.7 735.4 1081.8 736 1079.9 736.5 1081.3 737 1105.9 737.6 1125 738.1 1120.1 738.6 1118.6 739.2 1118.7 739.7 1144.2 740.2 1157.3 740.8 1134.4 741.3 1138 741.8 1156.2 742.4 1160.6 742.9 1167.1 743.4 1118.6 744 1140.2 744.5 1096.9 745 1127.6 745.6 1121.7 746.1 1137.5 746.6 1140 747.2 1105 747.7 1094.9 748.2 1101.6 748.8 1131.5 749.3 1083.9 749.8 1062 750.4 1076.4 750.9 1085.1 751.4 1077.3 752 1098.5 752.5 1091.7 753 1128.6 753.6 1120.3 754.1 1139.1 754.6 1110 755.2 1075 755.7 1091.1 756.2 1088.7 756.8 1074.5 757.3 1086.7 757.8 1118.6 758.4 1085.6 758.9 1085.8 759.5 1103.4 760 1075.2 760.5 1079.2 761.1 1135.5 761.6 1121.6 762.1 1130.6 762.7 1100.5 763.2 1104 763.7 1119.4 764.3 1110.8 764.8 1112.6 765.3 1126.2 765.9 1119.2 766.4 1129.8 766.9 1108.9 767.5 1078.9 768 1112.2 768.5 1131.5 769.1 1134.9 769.6 1137.3 770.1 1139 770.7 1126.2 771.2 1103.5 771.7 1124.1 772.3 1137.3 772.8 1149.2 773.3 1117.9 773.9 1102.8 774.4 1133.9 774.9 1149.7 775.5 1149.6 776 1126.1 776.5 1106.4 777.1 1110.7 777.6 1109.9 778.1 1098.6 778.7 1102.8 779.2 1077.2 779.7 1078.9 780.3 1093.8 780.8 1106.3 781.3 1109.5 781.9 1106.3 782.4 1087.2 782.9 1112.3 783.5 1091.1 784 1071.8 784.5 1077 785.1 1094.6 785.6 1105 786.1 1107.1 786.7 1111.4 787.2 1124.3 787.8 1111.5 788.3 1107.4 788.8 1092.6 789.4 1106.1 789.9 1076.4 790.4 1068 791 1068.5 791.5 1087.8 792 1066.9 792.6 1080.8 793.1 1068.9 793.6 1069.5 794.2 1094.8 794.7 1103.6 795.2 1079.5 795.8 1074.2 796.3 1088.4 796.8 1090.7 797.4 1099 797.9 1125.7 798.4 1125.5 799 1138.5 799.5 1142.3 800 1135.6 800.6 1140.4 801.1 1130.5 801.6 1125 802.2 1116.1 802.7 1112.4 803.2 1108.2 803.8 1104.2 804.3 1099.6 804.8 1104.3 805.4 1091.2 805.9 1105.7 806.4 1106.5 807 1096.3 807.5 1098.2 808 1095.4 808.6 1115.1 809.1 1084.8 809.6 1105.3 810.2 1098.6 810.7 1097.9 811.2 1086.4 811.8 1100.3 812.3 1114.4 812.8 1136.2 813.4 1134.5 813.9 1140.4 814.4 1124.5 815 1103.9 815.5 1129.7 816.1 1142.7 816.6 1125.3 817.1 1106.7 817.7 1101.3 818.2 1098.4 818.7 1093.1 819.3 1094.4 819.8 1082.1 820.3 1088 820.9 1110.4 821.4 1112.2 821.9 1102 822.5 1114.1 823 1113 823.5 1123.9 824.1 1138.2 824.6 1126.3 825.1 1131.5 825.7 1143.2 826.2 1143.2 826.7 1143.2 827.3 1115 827.8 1123.5 828.3 1095.3 828.9 1095.9 829.4 1130.7 829.9 1117.3 830.5 1129.6 831 1132.8 831.5 1143.2 832.1 1117.8 832.6 1137.2 833.1 1141 833.7 1111.2 834.2 1110.6 834.7 1138.1 835.3 1132 835.8 1131 836.3 1122.7 836.9 1106.5 837.4 1102.7 837.9 1108.4 838.5 1084.7 839 1111.3 839.5 1114 840.1 1104.3 840.6 1124.7 841.1 1131.4 841.7 1150.5 842.2 1139.5 842.7 1151.3 843.3 1127.7 843.8 1119.8 844.4 1108.9 844.9 1106.8 845.4 1095.9 846 1098.9 846.5 1125.4 847 1093.6 847.6 1091.7 848.1 1078.1 848.6 1114.7 849.2 1088.9 849.7 1061.3 850.2 1064.7 850.8 1118.1 851.3 1122.4 851.8 1119.8 852.4 1119 852.9 1127.9 853.4 1111.4 854 1123.8 854.5 1108.5 855 1142.8 855.6 1131.7 856.1 1105.4 856.6 1133.5 857.2 1130.1 857.7 1144.4 858.2 1157.4 858.8 1161.9 859.3 1124.1 859.8 1148.1 860.4 1114.8 860.9 1161.2 861.4 1155.3 862 1119.7 862.5 1104.7 863 1155.1 863.6 1173 864.1 1140.6 864.6 1177 865.2 1139 865.7 1164.7 866.2 1140.1 866.8 1088 867.3 1052.1 867.8 1056.2 868.4 1123.4 868.9 1117.8 869.4 1117.8 870 1118.5 870.5 1078.6 871 1140.8 871.6 1122.8 872.1 1111.9 872.6 1133.7 873.2 1096.3 873.7 1146 874.3 1133.8 874.8 1122 875.3 1182.6 875.9 1207.8 876.4 1198.1 876.9 1170.4 877.5 1135.5 878 1129.6 878.5 1145.5 879.1 1201.1 879.6 1181.1 880.1 1169.5 880.7 1107.9 881.2 1081.1 881.7 1043.3 882.3 1043.2 882.8 1043.1 883.3 1101 883.9 1090.1 884.4 1131.3 884.9 1103.5 885.5 1140.4 886 1139.8 886.5 1160 887.1 1152.8 887.6 1117.7 888.1 1133.6 888.7 1136.1 889.2 1158.1 889.7 1127.5 890.3 1154.4 890.8 1112.4 891.3 1041.5 891.9 1124.4 892.4 1156.7 892.9 1142.3 893.5 1126.8 894 1149.4 894.5 1121 895.1 1134.4 895.6 1130 896.1 1179.8 896.7 1138 897.2 1215 897.7 1215 898.3 1158.3 898.8 1152.9 899.3 1192.2 899.9 1114.7 900.4 1105.5 900.9 1102.4 901.5 1146 902 1134.3 902.6 1138.7 903.1 1184.2 903.6 1162.6 904.2 1154.5 904.7 1122.6 905.2 1104.4 905.8 1157.8 906.3 1187.7 906.8 1170 907.4 1119.1 907.9 1148.6 908.4 1161.4 909 1139.2 909.5 1126.5 910 1109.1 910.6 1115.3 911.1 1165.3 911.6 1211.5 912.2 1162.8 912.7 1149.6 913.2 1155.1 913.8 1158.6 914.3 1187.4 914.8 1167.6 915.4 1215.3 915.9 1201.4 916.4 1195.8 917 1114 917.5 1111.1 918 1135.1 918.6 1125.9 919.1 1105.1 919.6 1122.8 920.2 1127.4 920.7 1141.2 921.2 1076.4 921.8 1103.8 922.3 1176.9 922.8 1151.5 923.4 1088.5 923.9 1123.5 924.4 1051.7 925 1087.5 925.5 1088.6 926 1109.7 926.6 1124.1 927.1 1164.3 927.6 1174.9 928.2 1215.6 928.7 1162 929.2 1167.1 929.8 1135 930.3 1102.8 930.9 1108.7 931.4 1096 931.9 1096.8 932.5 1121 933 1108 933.5 1104.8 934.1 1125 934.6 1151.5 935.1 1165.1 935.7 1154.5 936.2 1100.2 936.7 1054.3 937.3 1067.6 937.8 1053.5 938.3 1055.5 938.9 1050.8 939.4 1071.3 939.9 1087.5 940.5 1095.6 941 1100 941.5 1060.6 942.1 1128.9 942.6 1132.2 943.1 1138.1 943.7 1112.4 944.2 1075.8 944.7 1096.6 945.3 1190.1 945.8 1155.5 946.3 1127.1 946.9 1178.5 947.4 1178.2 947.9 1164.9 948.5 1211.6 949 1174.1 949.5 1149.2 950.1 1136.8 950.6 1171.2 951.1 1184.8 951.7 1182.2 952.2 1145.1 952.7 1151.1 953.3 1112.9 953.8 1098.1 954.3 1150.9 954.9 1097.9 955.4 1095.4 955.9 1106.8 956.5 1088 957 1144.5 957.5 1121.3 958.1 1175.1 958.6 1177.7 959.2 1111.8 959.7 1071.6 960.2 1098.3 960.8 1126.9 961.3 1097.8 961.8 1116.4 962.4 1105.6 962.9 1095.4 963.4 1126.3 964 1101.8 964.5 1138.7 965 1093 965.6 1136 966.1 1125.7 966.6 1135.9 967.2 1113.2 967.7 1107.2 968.2 1094 968.8 1086 969.3 1080.3 969.8 1090.6 970.4 1140.4 970.9 1187.9 971.4 1195.4 972 1184.7 972.5 1166.4 973 1139.6 973.6 1130.8 974.1 1134.6 974.6 1159.1 975.2 1168.3 975.7 1192.3 976.2 1142.8 976.8 1103.8 977.3 1135.9 977.8 1127.7 978.4 1129.3 978.9 1096.9 979.4 1132.5 980 1128.3 980.5 1105.8 981 1156.5 981.6 1156.7 982.1 1144.9 982.6 1157 983.2 1108.3 983.7 1109.9 984.2 1117.1 984.8 1127 985.3 1114.1 985.8 1102.9 986.4 1124.7 986.9 1128 987.5 1151.2 988 1143.4 988.5 1131.9 989.1 1115.8 989.6 1101.2 990.1 1095.1 990.7 1111.8 991.2 1127.3 991.7 1116.7 992.3 1110.6 992.8 1129.4 993.3 1123.2 993.9 1112.3 994.4 1103.1 994.9 1113.4 995.5 1125.7 996 1120 996.5 1108 997.1 1116.5 997.6 1139.3 998.1 1138.5 998.7 1157.9 999.2 1149.5 999.7 1146.6 1000.3 1117.6 1000.8 1117.3 1001.3 1111.6 1001.9 1083.7 1002.4 1098.1 1002.9 1123.4 1003.5 1121.9 1004 1126.4 1004.5 1121.4 1005.1 1130.6 1005.6 1114.5 1006.1 1119.8 1006.7 1156.8 1007.2 1150.1 1007.7 1135.3 1008.3 1124.7 1008.8 1137.1 1009.3 1155.1 1009.9 1121.7 1010.4 1123.2 1010.9 1109.6 1011.5 1097.5 1012 1092.1 1012.5 1092 1013.1 1113.9 1013.6 1092.5 1014.1 1107.8 1014.7 1118.6 1015.2 1084 1015.7 1069.7 1016.3 1095.7 1016.8 1092.1 1017.4 1080.6 1017.9 1098.8 1018.4 1122.7 1019 1106 1019.5 1093 1020 1094.3 1020.6 1102.5 1021.1 1094.1 1021.6 1081.4 1022.2 1099.3 1022.7 1102.5 1023.2 1107.6 1023.8 1092.9 1024.3 1086.9 1024.8 1108.7 1025.4 1110.6 1025.9 1086.1 1026.4 1101.2 1027 1087.3 1027.5 1097 1028 1083.9 1028.6 1081.6 1029.1 1094.3 1029.6 1132.3 1030.2 1130.5 1030.7 1106.8 1031.2 1093.8 1031.8 1111.9 1032.3 1077.8 1032.8 1087.7 1033.4 1122 1033.9 1122.7 1034.4 1129.4 1035 1129.2 1035.5 1140.4 1036 1137.3 1036.6 1136.1 1037.1 1166.1 1037.6 1160.3 1038.2 1162.2 1038.7 1128.4 1039.2 1122.1 1039.8 1129.9 1040.3 1130.2 1040.8 1118.3 1041.4 1128.2 1041.9 1151 1042.4 1137.1 1043 1170.3 1043.5 1170.7 1044 1148.7 1044.6 1138 1045.1 1101.2 1045.7 1079.4 1046.2 1089.3 1046.7 1095.5 1047.3 1072.2 1047.8 1102.9 1048.3 1112.9 1048.9 1099.1 1049.4 1094.4 1049.9 1056.5 1050.5 1070.6 1051 1124.7 1051.5 1103 1052.1 1088.8 1052.6 1100.2 1053.1 1060.4 1053.7 1031.3 1054.2 1063.3 1054.7 1089.8 1055.3 1130.2 1055.8 1111.1 1056.3 1105.7 1056.9 1106.7 1057.4 1132.7 1057.9 1153.3 1058.5 1159.7 1059 1181.7 1059.5 1182 1060.1 1182.4 1060.6 1182.2 1061.1 1163.2 1061.7 1135.5 1062.2 1133.6 1062.7 1150 1063.3 1137.4 1063.8 1105.6 1064.3 1119.2 1064.9 1108.7 1065.4 1114.7 1065.9 1124.4 1066.5 1099.4 1067 1141 1067.5 1113.4 1068.1 1163.2 1068.6 1143.4 1069.1 1169 1069.7 1091 1070.2 1074 1070.7 1085.9 1071.3 1086.7 1071.8 1113.4 1072.3 1103.2 1072.9 1077.1 1073.4 1044.5 1074 1072.1 1074.5 1048.3 1075 1084.7 1075.6 1090 1076.1 1075.2 1076.6 1070.2 1077.2 1079.9 1077.7 1096 1078.2 1102.4 1078.8 1104.2 1079.3 1080.1 1079.8 1117.3 1080.4 1123.1 1080.9 1152.1 1081.4 1166.1 1082 1164.2 1082.5 1141.8 1083 1098.4 1083.6 1089.9 1084.1 1131.1 1084.6 1127.1 1085.2 1152.9 1085.7 1144.7 1086.2 1125.3 1086.8 1120.2 1087.3 1094 1087.8 1120.7 1088.4 1158 1088.9 1175.4 1089.4 1162 1090 1143.8 1090.5 1134.6 1091 1134.5 1091.6 1140.1 1092.1 1136.2 1092.6 1129 1093.2 1141.8 1093.7 1163.3 1094.2 1136.8 1094.8 1127.9 1095.3 1129.3 1095.8 1148.6 1096.4 1146.8 1096.9 1167.7 1097.4 1173.4 1098 1167.6 1098.5 1165 1099 1147.7 1099.6 1122.9 1100.1 1126.9 1100.6 1109 1101.2 1116.7 1101.7 1112.5 1102.3 1131.2 1102.8 1126.5 1103.3 1123.6 1103.9 1136.6 1104.4 1115.2 1104.9 1143.2 1105.5 1140.6 1106 1145.9 1106.5 1125.4 1107.1 1114.3 1107.6 1125.8 1108.1 1131.2 1108.7 1136.4 1109.2 1129.7 1109.7 1137.1 1110.3 1128 1110.8 1134.2 1111.3 1111.1 1111.9 1119.6 1112.4 1105.1 1112.9 1118.5 1113.5 1106 1114 1107.5 1114.5 1109.2 1115.1 1109.3 1115.6 1091.9 1116.1 1093.9 1116.7 1091.7 1117.2 1076.8 1117.7 1101.5 1118.3 1092.8 1118.8 1104.4 1119.3 1131 1119.9 1128.7 1120.4 1130.9 1120.9 1115 1121.5 1126.5 1122 1127.3 1122.5 1130 1123.1 1150.8 1123.6 1126 1124.1 1129.4 1124.7 1112.3 1125.2 1086.1 1125.7 1094 1126.3 1120.7 1126.8 1118.3 1127.3 1114.6 1127.9 1098 1128.4 1102.5 1128.9 1121.2 1129.5 1122 1130 1132.2 1130.5 1099.8 1131.1 1102.9 1131.6 1116.5 1132.2 1114 1132.7 1129.5 1133.2 1132 1133.8 1124.8 1134.3 1123.2 1134.8 1128.2 1135.4 1112.5 1135.9 1102.3 1136.4 1120.7 1137 1119.7 1137.5 1108.6 1138 1118.9 1138.6 1112.6 1139.1 1113.9 1139.6 1111.4 1140.2 1114.5 1140.7 1111.5 1141.2 1127 1141.8 1112.7 1142.3 1119.8 1142.8 1097.9 1143.4 1102.4 1143.9 1108 1144.4 1095.8 1145 1097.7 1145.5 1105.7 1146 1114.7 1146.6 1119 1147.1 1127.3 1147.6 1128.3 1148.2 1106 1148.7 1107 1149.2 1116.3 1149.8 1113.5 1150.3 1105.5 1150.8 1078 1151.4 1092 1151.9 1094.7 1152.4 1095.2 1153 1103.5 1153.5 1099.7 1154 1117.8 1154.6 1109.2 1155.1 1112.1 1155.6 1122.2 1156.2 1095.3 1156.7 1092.4 1157.2 1091.7 1157.8 1106.8 1158.3 1105.1 1158.8 1109.3 1159.4 1104.5 1159.9 1091.8 1160.5 1119.9 1161 1120.5 1161.5 1111.7 1162.1 1097.2 1162.6 1099 1163.1 1121.4 1163.7 1124 1164.2 1136.4 1164.7 1137.3 1165.3 1130.2 1165.8 1132.1 1166.3 1121.6 1166.9 1136.1 1167.4 1093.6 1167.9 1084.3 1168.5 1088.8 1169 1112.3 1169.5 1131.1 1170.1 1135.7 1170.6 1129.2 1171.1 1097.7 1171.7 1084.9 1172.2 1098.2 1172.7 1091.3 1173.3 1084.9 1173.8 1089.8 1174.3 1077 1174.9 1078.6 1175.4 1090.4 1175.9 1109.2 1176.5 1110.1 1177 1091.6 1177.5 1117.1 1178.1 1133.8 1178.6 1127.1 1179.1 1151.5 1179.7 1125.1 1180.2 1134.6 1180.7 1118.3 1181.3 1098.5 1181.8 1127.4 1182.3 1141.1 1182.9 1109.3 1183.4 1111.1 1183.9 1118.1 1184.5 1114.8 1185 1108.9 1185.5 1098.4 1186.1 1107.7 1186.6 1120.3 1187.1 1126.1 1187.7 1121.7 1188.2 1095.8 1188.8 1102.3 1189.3 1082.2 1189.8 1109.4 1190.4 1090.7 1190.9 1061.3 1191.4 1060.8 1192 1060.6 1192.5 1089.8 1193 1105.8 1193.6 1106.3 1194.1 1100 1194.6 1110.4 1195.2 1137.5 1195.7 1137.7 1196.2 1118.5 1196.8 1115.3 1197.3 1138.8 1197.8 1130.1 1198.4 1155.6 1198.9 1150 1199.4 1089.2 1200 1093.9 1200.5 1114.9 1201 1135.7 1201.6 1155.8 1202.1 1162.6 1202.6 1151.6 1203.2 1153.8 1203.7 1115.8 1204.2 1144.5 1204.8 1117.7 1205.3 1100.9 1205.8 1151.7 1206.4 1133.9 1206.9 1157.3 1207.4 1134.6 1208 1096.7 1208.5 1113.5 1209 1117.6 1209.6 1134.3 1210.1 1120.8 1210.6 1097.4 1211.2 1111 1211.7 1124.1 1212.2 1111.4 1212.8 1092.6 1213.3 1110.7 1213.8 1107.2 1214.4 1106.4 1214.9 1101.8 1215.4 1086.7 1216 1092.6 1216.5 1078.1 1217.1 1115.4 1217.6 1128.6 1218.1 1145.6 1218.7 1139.9 1219.2 1127.9 1219.7 1129.6 1220.3 1149.8 1220.8 1130 1221.3 1129.6 1221.9 1109.9 1222.4 1115.1 1222.9 1090.1 1223.5 1087.9 1224 1137.3 1224.5 1123.5 1225.1 1133.8 1225.6 1093.2 1226.1 1068 1226.7 1090.9 1227.2 1091.2 1227.7 1126.1 1228.3 1160.1 1228.8 1154.7 1229.3 1146.7 1229.9 1153.4 1230.4 1139.5 1230.9 1113.6 1231.5 1088.8 1232 1070.2 1232.5 1063.5 1233.1 1090.1 1233.6 1102.6 1234.1 1110.1 1234.7 1151.5 1235.2 1115.3 1235.7 1105.6 1236.3 1118.1 1236.8 1145.4 1237.3 1063.8 1237.9 1073.2 1238.4 1088 1238.9 1083.1 1239.5 1082.6 1240 1099.5 1240.5 1108.2 1241.1 1143.4 1241.6 1124 1242.1 1148.2 1242.7 1139.8 1243.2 1120.3 1243.7 1139.2 1244.3 1088 1244.8 1109.6 1245.3 1107.4 1245.9 1112 1246.4 1105.9 1247 1139.4 1247.5 1073.8 1248 1058.5 1248.6 1043.8 1249.1 1044 1249.6 1044.1 1250.2 1062.5 1250.7 1087.7 1251.2 1083.3 1251.8 1086.8 1252.3 1103 1252.8 1137.6 1253.4 1129.6 1253.9 1107.2 1254.4 1098.7 1255 1071.4 1255.5 1088.7 1256 1118.6 1256.6 1144 1257.1 1159.5 1257.6 1147.9 1258.2 1151.8 1258.7 1126.7 1259.2 1154.8 1259.8 1185.9 1260.3 1153.6 1260.8 1158.5 1261.4 1143.9 1261.9 1076.3 1262.4 1055 1263 1055.3 1263.5 1062.7 1264 1078 1264.6 1076.4 1265.1 1097.6 1265.6 1113.4 1266.2 1133.1 1266.7 1082 1267.2 1067.9 1267.8 1089.7 1268.3 1070.3 1268.8 1096.6 1269.4 1090.7 1269.9 1113.8 1270.4 1098.5 1271 1118.5 1271.5 1126 1272 1140.9 1272.6 1137.4 1273.1 1151.5 1273.6 1194.9 1274.2 1139 1274.7 1162 1275.3 1202.5 1275.8 1202.7 1276.3 1202.9 1276.9 1203.1 1277.4 1198.8 1277.9 1203.6 1278.5 1183.4 1279 1199.4 1279.5 1138.3 1280.1 1120.3 1280.6 1116.9 1281.1 1081.9 1281.7 1051.1 1282.2 1050.9 1282.7 1082.3 1283.3 1137.5 1283.8 1151.4 1284.3 1178.1 1284.9 1128.4 1285.4 1131.9 1285.9 1121.1 1286.5 1118.1 1287 1066.6 1287.5 1090.3 1288.1 1084.4 1288.6 1093.9 1289.1 1104.2 1289.7 1146.6 1290.2 1102.7 1290.7 1138.9 1291.3 1144.5 1291.8 1125.6 1292.3 1109.9 1292.9 1068.8 1293.4 1103.3 1293.9 1104.5 1294.5 1110.2 1295 1105.6 1295.5 1105 1296.1 1106.8 1296.6 1073.7 1297.1 1098.2 1297.7 1154.7 1298.2 1151.5 1298.7 1109.6 1299.3 1139.2 1299.8 1153.9 1300.3 1156.1 1300.9 1136.6 1301.4 1134.8 1301.9 1121.5 1302.5 1165.8 1303 1117.1 1303.6 1107.5 1304.1 1127.2 1304.6 1094.5 1305.2 1083.9 1305.7 1075.5 1306.2 1109.6 1306.8 1075.3 1307.3 1079 1307.8 1137.6 1308.4 1103.4 1308.9 1097.9 1309.4 1126.6 1310 1122.9 1310.5 1163.6 1311 1128.6 1311.6 1141 1312.1 1141.4 1312.6 1103.2 1313.2 1116.1 1313.7 1137.3 1314.2 1170.8 1314.8 1148.4 1315.3 1112 1315.8 1112.2 1316.4 1143.9 1316.9 1123.8 1317.4 1120.3 1318 1137.2 1318.5 1085 1319 1136.1 1319.6 1134.4 1320.1 1174.9 1320.6 1167.6 1321.2 1124.7 1321.7 1090.3 1322.2 1140.5 1322.8 1106.3 1323.3 1104.1 1323.8 1114.1 1324.4 1072.1 1324.9 1101.1 1325.4 1122.8 1326 1120.1 1326.5 1173.7 1327 1129.7 1327.6 1112.8 1328.1 1118.2 1328.6 1118.3 1329.2 1123.3 1329.7 1080.3 1330.2 1128.9 1330.8 1168.7 1331.3 1198.3 1331.9 1185.1 1332.4 1198.3 1332.9 1196.2 1333.5 1177.1 1334 1182.9 1334.5 1192.3 1335.1 1138.6 1335.6 1134.1 1336.1 1132.4 1336.7 1117.6 1337.2 1148 1337.7 1179.8 1338.3 1114.7 1338.8 1131.7 1339.3 1170.2 1339.9 1178.7 1340.4 1181.1 1340.9 1198.3 1341.5 1198.2 1342 1198.2 1342.5 1189.8 1343.1 1180.5 1343.6 1198.2 1344.1 1198.2 1344.7 1187.3 1345.2 1190.1 1345.7 1157.7 1346.3 1160.1 1346.8 1182.7 1347.3 1158.9 1347.9 1179.3 1348.4 1154.5 1348.9 1128.7 1349.5 1081.9 1350 1102.8 1350.5 1107.3 1351.1 1106.5 1351.6 1112.6 1352.1 1174.9 1352.7 1179.6 1353.2 1158.3 1353.7 1130.7 1354.3 1143 1354.8 1125.5 1355.3 1104.6 1355.9 1116.3 1356.4 1138.1 1356.9 1157.1 1357.5 1151.5 1358 1121.1 1358.5 1112.1 1359.1 1137.4 1359.6 1158.6 1360.1 1171.2 1360.7 1151 1361.2 1138.9 1361.8 1145 1362.3 1132.7 1362.8 1117.4 1363.4 1143.2 1363.9 1164.7 1364.4 1169 1365 1156.8 1365.5 1150.6 1366 1159.7 1366.6 1175.4 1367.1 1141.2 1367.6 1151.2 1368.2 1152.1 1368.7 1166.3 1369.2 1184.2 1369.8 1199.4 1370.3 1199.4 1370.8 1199.4 1371.4 1170 1371.9 1196.8 1372.4 1199.6 1373 1183.8 1373.5 1171.1 1374 1168.8 1374.6 1157.8 1375.1 1190.4 1375.6 1182.8 1376.2 1187.8 1376.7 1143.1 1377.2 1147.3 1377.8 1135.9 1378.3 1106.3 1378.8 1128.8 1379.4 1125.6 1379.9 1119.6 1380.4 1123.7 1381 1107.5 1381.5 1095.6 1382 1097.4 1382.6 1107.6 1383.1 1141.5 1383.6 1157.9 1384.2 1158.4 1384.7 1187.9 1385.2 1168.3 1385.8 1159.2 1386.3 1148.5 1386.8 1153.4 1387.4 1150.3 1387.9 1141.8 1388.4 1134.1 1389 1094.7 1389.5 1121.7 1390.1 1129.4 1390.6 1123.1 1391.1 1119.5 1391.7 1125.3 1392.2 1149.2 1392.7 1151.1 1393.3 1131.6 1393.8 1102 1394.3 1134.5 1394.9 1134.2 1395.4 1123.8 1395.9 1113.1 1396.5 1116 1397 1102.3 1397.5 1097.6 1398.1 1128.3 1398.6 1132.2 1399.1 1169 1399.7 1194.3 1400.2 1194.2 1400.7 1194.1 1401.3 1182.8 1401.8 1153.9 1402.3 1149.3 1402.9 1148.1 1403.4 1148.4 1403.9 1145.1 1404.5 1134.2 1405 1135.4 1405.5 1136.1 1406.1 1155.6 1406.6 1157.2 1407.1 1117.3 1407.7 1125.9 1408.2 1086.6 1408.7 1102.9 1409.3 1078.9 1409.8 1112.7 1410.3 1123.8 1410.9 1118.6 1411.4 1117.6 1411.9 1121.7 1412.5 1097.7 1413 1115.5 1413.5 1114.1 1414.1 1136.4 1414.6 1113.8 1415.1 1116.4 1415.7 1118.9 1416.2 1160.9 1416.7 1148.9 1417.3 1157.8 1417.8 1133.3 1418.4 1120.4 1418.9 1154 1419.4 1147.1 1420 1130.7 1420.5 1131.5 1421 1153.1 1421.6 1163.7 1422.1 1169.3 1422.6 1183.9 1423.2 1163.2 1423.7 1153.5 1424.2 1173.9 1424.8 1154.6 1425.3 1175.4 1425.8 1188.9 1426.4 1179.7 1426.9 1152.6 1427.4 1175.1 1428 1185.8 1428.5 1170.6 1429 1171.9 1429.6 1180.1 1430.1 1182.3 1430.6 1181.5 1431.2 1182.3 1431.7 1172.1 1432.2 1168.7 1432.8 1178.6 1433.3 1185 1433.8 1188.3 1434.4 1154.7 1434.9 1183 1435.4 1167.7 1436 1149.2 1436.5 1141.3 1437 1146 1437.6 1116.9 1438.1 1138.4 1438.6 1134.3 1439.2 1127.3 1439.7 1134.1 1440.2 1142.9 1440.8 1111.5 1441.3 1129.6 1441.8 1134.9 1442.4 1143.6 1442.9 1147.8 1443.4 1135.9 1444 1140.4 1444.5 1148.6 1445 1144.2 1445.6 1152.1 1446.1 1113.5 1446.7 1134 1447.2 1099.3 1447.7 1124.3 1448.3 1124.4 1448.8 1129.1 1449.3 1139.2 1449.9 1182.7 1450.4 1138.3 1450.9 1149 1451.5 1155.6 1452 1135.9 1452.5 1151.6 1453.1 1115.6 1453.6 1100.3 1454.1 1101 1454.7 1099.7 1455.2 1085.7 1455.7 1122.1 1456.3 1111.6 1456.8 1099.2 1457.3 1111.4 1457.9 1104.7 1458.4 1127.9 1458.9 1104.5 1459.5 1085.9 1460 1125.1 1460.5 1120.3 1461.1 1095.9 1461.6 1091.8 1462.1 1122.9 1462.7 1130.3 1463.2 1100.2 1463.7 1078.1 1464.3 1103.6 1464.8 1108.7 1465.3 1115.3 1465.9 1114.5 1466.4 1106.6 1466.9 1103.3 1467.5 1121.1 1468 1076.5 1468.5 1088.2 1469.1 1099.9 1469.6 1080.7 1470.1 1098 1470.7 1104.3 1471.2 1099.2 1471.7 1121.7 1472.3 1103.7 1472.8 1084.2 1473.3 1086.2 1473.9 1078.4 1474.4 1088.1 1475 1124.1 1475.5 1125.5 1476 1105 1476.6 1092.2 1477.1 1088 1477.6 1107.4 1478.2 1121.6 1478.7 1121.2 1479.2 1109.4 1479.8 1089.3 1480.3 1102.9 1480.8 1113.7 1481.4 1124.6 1481.9 1139.4 1482.4 1134.2 1483 1181.7 1483.5 1181.6 1484 1181.5 1484.6 1169.6 1485.1 1157.2 1485.6 1141.3 1486.2 1119.7 1486.7 1143.4 1487.2 1112.6 1487.8 1104.7 1488.3 1123.4 1488.8 1101.2 1489.4 1141.8 1489.9 1162.3 1490.4 1151.1 1491 1131.8 1491.5 1130.4 1492 1156.2 1492.6 1149.4 1493.1 1142.4 1493.6 1091.4 1494.2 1063.4 1494.7 1091.7 1495.2 1119.6 1495.8 1110.7 1496.3 1133.6 1496.8 1108.2 1497.4 1092.5 1497.9 1096.9 1498.4 1098.9 1499 1103 1499.5 1115.6 1500 1084.6 1500.6 1080.3 1501.1 1097.9 1501.6 1111.2 1502.2 1095.3 1502.7 1079.3 1503.2 1068.1 1503.8 1064.7 1504.3 1063.6 1504.9 1089.3 1505.4 1057.7 1505.9 1055 1506.5 1054.9 1507 1054.9 1507.5 1091.2 1508.1 1109.4 1508.6 1125.1 1509.1 1100.7 1509.7 1136.5 1510.2 1137.6 1510.7 1102.1 1511.3 1105.5 1511.8 1112.8 1512.3 1086 1512.9 1118 1513.4 1108.9 1513.9 1118.9 1514.5 1113.8 1515 1133 1515.5 1151.4 1516.1 1146.4 1516.6 1154.3 1517.1 1128.1 1517.7 1139.7 1518.2 1113.3 1518.7 1122 1519.3 1135.1 1519.8 1119.9 1520.3 1092.2 1520.9 1139 1521.4 1130.9 1521.9 1114.1 1522.5 1146 1523 1151.3 1523.5 1129.7 1524.1 1144.9 1524.6 1153.8 1525.1 1112.4 1525.7 1126.4 1526.2 1136.1 1526.7 1173.3 1527.3 1169.7 1527.8 1171.1 1528.3 1118.2 1528.9 1087 1529.4 1120.9 1529.9 1084.4 1530.5 1084.3 1531 1103.3 1531.5 1081.3 1532.1 1077.5 1532.6 1111.1 1533.2 1138.9 1533.7 1148.4 1534.2 1129 1534.8 1127.1 1535.3 1134.1 1535.8 1107.8 1536.4 1123.4 1536.9 1102.2 1537.4 1113.3 1538 1110.5 1538.5 1125.6 1539 1126.6 1539.6 1134.9 1540.1 1157.5 1540.6 1145.6 1541.2 1130.9 1541.7 1118.2 1542.2 1115.2 1542.8 1138.8 1543.3 1139.6 1543.8 1169.1 1544.4 1168.9 1544.9 1131.5 1545.4 1110.6 1546 1098.6 1546.5 1105.2 1547 1102.4 1547.6 1101.4 1548.1 1132.2 1548.6 1136.5 1549.2 1096 1549.7 1076.8 1550.2 1084.1 1550.8 1099.4 1551.3 1104 1551.8 1102.3 1552.4 1113.3 1552.9 1143.3 1553.4 1123.4 1554 1120.4 1554.5 1115.5 1555 1084.8 1555.6 1096.9 1556.1 1118.1 1556.6 1100.5 1557.2 1127.7 1557.7 1117.5 1558.2 1113.3 1558.8 1130 1559.3 1105.6 1559.8 1082.2 1560.4 1107.9 1560.9 1122.5 1561.5 1087.9 1562 1093 1562.5 1073.4 1563.1 1105.1 1563.6 1097.6 1564.1 1121.7 1564.7 1100.3 1565.2 1107.3 1565.7 1125.5 1566.3 1106.3 1566.8 1094.6 1567.3 1125 1567.9 1129.4 1568.4 1127 1568.9 1137.2 1569.5 1135.3 1570 1131.8 1570.5 1122.3 1571.1 1119.4 1571.6 1141.8 1572.1 1147 1572.7 1103.5 1573.2 1117.7 1573.7 1104.7 1574.3 1096.2 1574.8 1110.7 1575.3 1102.5 1575.9 1112.9 1576.4 1114.1 1576.9 1130.9 1577.5 1118.6 1578 1085.2 1578.5 1103.4 1579.1 1067.2 1579.6 1118 1580.1 1120.7 1580.7 1128.4 1581.2 1091.4 1581.7 1094.7 1582.3 1078.9 1582.8 1125.1 1583.3 1115.6 1583.9 1093 1584.4 1102.2 1584.9 1140.5 1585.5 1116.8 1586 1095.5 1586.5 1062.1 1587.1 1051.6 1587.6 1086.8 1588.1 1086.3 1588.7 1055 1589.2 1064.8 1589.8 1061.3 1590.3 1075.4 1590.8 1075.7 1591.4 1066.4 1591.9 1095.4 1592.4 1040.7 1593 1051.5 1593.5 1057.8 1594 1072.5 1594.6 1079.2 1595.1 1087.6 1595.6 1112.9 1596.2 1135.7 1596.7 1116.7 1597.2 1105.3 1597.8 1148.3 1598.3 1158.8 1598.8 1144.8 1599.4 1126.4 1599.9 1113.2 1600.4 1132.1 1601 1115.5 1601.5 1107.8 1602 1108.2 1602.6 1102.2 1603.1 1067.5 1603.6 1052.1 1604.2 1039.9 1604.7 1068.6 1605.2 1088.2 1605.8 1110.6 1606.3 1116.9 1606.8 1121.2 1607.4 1124.3 1607.9 1114.8 1608.4 1094.6 1609 1090.9 1609.5 1099.1 1610 1079.1 1610.6 1098.3 1611.1 1079.7 1611.6 1073.9 1612.2 1072.8 1612.7 1093.1 1613.2 1126.2 1613.8 1162.6 1614.3 1102.4 1614.8 1098.7 1615.4 1100.6 1615.9 1115.8 1616.4 1122 1617 1054.5 1617.5 1103.1 1618 1112.3 1618.6 1127.9 1619.1 1144.1 1619.7 1159.7 1620.2 1142.5 1620.7 1137.3 1621.3 1139.3 1621.8 1118.1 1622.3 1132.8 1622.9 1128.4 1623.4 1089.3 1623.9 1076.9 1624.5 1114.6 1625 1174.3 1625.5 1133.5 1626.1 1100.9 1626.6 1115.5 1627.1 1080.5 1627.7 1081.2 1628.2 1086.5 1628.7 1112.6 1629.3 1110.4 1629.8 1118.8 1630.3 1125.7 1630.9 1100.1 1631.4 1104.9 1631.9 1152.6 1632.5 1139.2 1633 1126.7 1633.5 1142.2 1634.1 1150.5 1634.6 1149.9 1635.1 1144.7 1635.7 1131.8 1636.2 1121.2 1636.7 1139.3 1637.3 1085 1637.8 1110.7 1638.3 1133 1638.9 1084.8 1639.4 1044.9 1639.9 1060.4 1640.5 1090 1641 1116 1641.5 1085.3 1642.1 1098.3 1642.6 1114.1 1643.1 1094.9 1643.7 1077.9 1644.2 1056.1 1644.7 1030.6 1645.3 1037.9 1645.8 1056.7 1646.3 1070.9 1646.9 1066.7 1647.4 1053.5 1648 1040.5 1648.5 1033 1649 1037.7 1649.6 1033.5 1650.1 1033.8 1650.6 1054.8 1651.2 1101.9 1651.7 1071.8 1652.2 1070.4 1652.8 1092.4 1653.3 1103.4 1653.8 1123.7 1654.4 1164.5 1654.9 1157.1 1655.4 1189.8 1656 1168.2 1656.5 1158.8 1657 1124.9 1657.6 1127.3 1658.1 1128.3 1658.6 1137.4 1659.2 1135.4 1659.7 1153.4 1660.2 1115.4 1660.8 1113.9 1661.3 1134.8 1661.8 1114.6 1662.4 1118.8 1662.9 1135.5 1663.4 1141.5 1664 1118.3 1664.5 1146.1 1665 1166 1665.6 1167.2 1666.1 1123.1 1666.6 1147.6 1667.2 1096.4 1667.7 1099 1668.2 1098.9 1668.8 1109.9 1669.3 1158.3 1669.8 1172.1 1670.4 1114.9 1670.9 1105.3 1671.4 1085.8 1672 1101.4 1672.5 1111.1 1673 1104.3 1673.6 1089.6 1674.1 1062.7 1674.6 1098.1 1675.2 1098 1675.7 1116.7 1676.3 1130.9 1676.8 1154.1 1677.3 1113.4 1677.9 1151.5 1678.4 1104.3 1678.9 1075.5 1679.5 1081.1 1680 1112.1 1680.5 1100.4 1681.1 1104.1 1681.6 1093.2 1682.1 1110.7 1682.7 1107.6 1683.2 1101.3 1683.7 1116.7 1684.3 1120.2 1684.8 1143.4 1685.3 1165 1685.9 1177.8 1686.4 1156.8 1686.9 1119.4 1687.5 1072.2 1688 1068.4 1688.5 1092.2 1689.1 1066 1689.6 1083.5 1690.1 1103.6 1690.7 1070.5 1691.2 1105.4 1691.7 1122.8 1692.3 1131.2 1692.8 1111.1 1693.3 1127.6 1693.9 1118.8 1694.4 1124.7 1694.9 1142.5 1695.5 1138.6 1696 1120.5 1696.5 1148.4 1697.1 1153.2 1697.6 1150.2 1698.1 1115.7 1698.7 1123.3 1699.2 1114.8 1699.7 1102.1 1700.3 1106.3 1700.8 1115.6 1701.3 1133.5 1701.9 1154.6 1702.4 1160.8 1702.9 1139 1703.5 1137.7 1704 1109.9 1704.6 1138.4 1705.1 1145.9 1705.6 1140.8 1706.2 1157.5 1706.7 1146.1 1707.2 1142.9 1707.8 1158.2 1708.3 1125.6 1708.8 1158.8 1709.4 1155 1709.9 1162.4 1710.4 1170.4 1711 1178.9 1711.5 1186.5 1712 1185.2 1712.6 1155.9 1713.1 1179.5 1713.6 1150.4 1714.2 1139.4 1714.7 1106.9 1715.2 1131.6 1715.8 1164.5 1716.3 1154.9 1716.8 1140.4 1717.4 1134.8 1717.9 1133.7 1718.4 1125.6 1719 1117.9 1719.5 1135.2 1720 1103.8 1720.6 1126.3 1721.1 1123.3 1721.6 1102.2 1722.2 1124.4 1722.7 1121.9 1723.2 1104.5 1723.8 1117.9 1724.3 1108.6 1724.8 1112.9 1725.4 1115.4 1725.9 1111.4 1726.4 1123.6 1727 1142.8 1727.5 1122 1728 1127.1 1728.6 1125.6 1729.1 1153.4 1729.6 1143.7 1730.2 1129.2 1730.7 1116.7 1731.2 1111.3 1731.8 1115.6 1732.3 1119.8 1732.8 1108.5 1733.4 1096.5 1733.9 1096.2 1734.5 1077.8 1735 1086.4 1735.5 1076.6 1736.1 1096.4 1736.6 1099.8 1737.1 1112.6 1737.7 1091.5 1738.2 1091.9 1738.7 1105.8 1739.3 1115 1739.8 1112.1 1740.3 1129.8 1740.9 1127.1 1741.4 1123.6 1741.9 1094.5 1742.5 1079.6 1743 1087.8 1743.5 1094.8 1744.1 1099.5 1744.6 1104.9 1745.1 1117.4 1745.7 1095 1746.2 1083.2 1746.7 1092.7 1747.3 1098.8 1747.8 1070.5 1748.3 1084.9 1748.9 1095.1 1749.4 1110.7 1749.9 1116.1 1750.5 1103.8 1751 1108 1751.5 1087.7 1752.1 1086.3 1752.6 1107.4 1753.1 1131.7 1753.7 1097 1754.2 1095.9 1754.7 1063.4 1755.3 1065.6 1755.8 1087.9 1756.3 1071.7 1756.9 1071.5 1757.4 1073.9 1757.9 1086.8 1758.5 1069.2 1759 1060.3 1759.5 1075.7 1760.1 1050 1760.6 1065.6 1761.1 1080.7 1761.7 1114.3 1762.2 1147.7 1762.8 1080.2 1763.3 1058.7 1763.8 1050.3 1764.4 1100.1 1764.9 1093.8 1765.4 1091.9 1766 1100.6 1766.5 1098.1 1767 1124 1767.6 1113.5 1768.1 1139.7 1768.6 1137.1 1769.2 1126.9 1769.7 1147.2 1770.2 1131.8 1770.8 1148.3 1771.3 1129.2 1771.8 1117.9 1772.4 1114.4 1772.9 1093 1773.4 1139.2 1774 1148.8 1774.5 1116.8 1775 1131.2 1775.6 1137.7 1776.1 1148.8 1776.6 1121.2 1777.2 1128.9 1777.7 1128.5 1778.2 1114.4 1778.8 1093.3 1779.3 1082.2 1779.8 1058.2 1780.4 1071.2 1780.9 1080.9 1781.4 1099 1782 1114 1782.5 1125.2 1783 1117.7 1783.6 1130.6 1784.1 1140.6 1784.6 1132.1 1785.2 1133 1785.7 1148.5 1786.2 1158.1 1786.8 1168.3 1787.3 1175.4 1787.8 1154.5 1788.4 1163.6 1788.9 1170.8 1789.4 1157.8 1790 1126.4 1790.5 1129 1791.1 1116.3 1791.6 1115.8 1792.1 1125.7 1792.7 1098.8 1793.2 1092.9 1793.7 1090.3 1794.3 1106.9 1794.8 1100.7 1795.3 1128.3 1795.9 1112 1796.4 1103.6 1796.9 1074.3 1797.5 1058.4 1798 1062.8 1798.5 1061.4 1799.1 1088.8 1799.6 1052.7 1800.1 1052.7 1800.7 1052.8 1801.2 1052.9 1801.7 1053 1802.3 1053 1802.8 1066.2 1803.3 1062.3 1803.9 1098.1 1804.4 1084.2 1804.9 1093 1805.5 1085.6 1806 1092.9 1806.5 1125.5 1807.1 1114.5 1807.6 1092.5 1808.1 1121 1808.7 1137.7 1809.2 1134.8 1809.7 1137 1810.3 1166.1 1810.8 1118.7 1811.3 1108.3 1811.9 1122.2 1812.4 1156.2 1812.9 1144.9 1813.5 1107.4 1814 1103.4 1814.5 1093.1 1815.1 1122 1815.6 1121.6 1816.1 1157.3 1816.7 1102.9 1817.2 1093.1 1817.7 1138.6 1818.3 1157.7 1818.8 1131 1819.4 1123.3 1819.9 1124.4 1820.4 1090 1821 1056 1821.5 1056.1 1822 1099.1 1822.6 1096 1823.1 1102.3 1823.6 1106.9 1824.2 1085 1824.7 1077.2 1825.2 1091.3 1825.8 1075.1 1826.3 1086.5 1826.8 1068.7 1827.4 1079.2 1827.9 1057.2 1828.4 1061.7 1829 1057.3 1829.5 1057.4 1830 1061.6 1830.6 1077 1831.1 1081.2 1831.6 1115.2 1832.2 1061.3 1832.7 1081 1833.2 1084.4 1833.8 1101.2 1834.3 1112.2 1834.8 1103.1 1835.4 1117.1 1835.9 1115.7 1836.4 1132.4 1837 1138.1 1837.5 1155.9 1838 1104.6 1838.6 1139.4 1839.1 1149.9 1839.6 1134.7 1840.2 1106.9 1840.7 1147.9 1841.2 1172.9 1841.8 1140.7 1842.3 1128.2 1842.8 1151.8 1843.4 1166.4 1843.9 1163.1 1844.4 1124.9 1845 1128.5 1845.5 1118.4 1846 1097.7 1846.6 1100.7 1847.1 1093.2 1847.6 1099.3 1848.2 1091.1 1848.7 1120.5 1849.3 1126.4 1849.8 1113 1850.3 1112.3 1850.9 1123.6 1851.4 1110.7 1851.9 1108 1852.5 1128.9 1853 1136.6 1853.5 1127.3 1854.1 1088.2 1854.6 1107 1855.1 1143 1855.7 1146.9 1856.2 1156.4 1856.7 1162.6 1857.3 1168.4 1857.8 1140.8 1858.3 1110.9 1858.9 1089.2 1859.4 1095.4 1859.9 1116 1860.5 1097.7 1861 1124.4 1861.5 1126.7 1862.1 1140.7 1862.6 1099.3 1863.1 1090.5 1863.7 1102.1 1864.2 1121.6 1864.7 1123.6 1865.3 1119.5 1865.8 1104.2 1866.3 1109.2 1866.9 1107.4 1867.4 1140.7 1867.9 1143.1 1868.5 1164.6 1869 1118.9 1869.5 1093.8 1870.1 1084.9 1870.6 1070.2 1871.1 1069.5 1871.7 1071.1 1872.2 1114.9 1872.7 1125.1 1873.3 1156 1873.8 1152.3 1874.3 1160.6 1874.9 1145.8 1875.4 1123 1875.9 1136.2 1876.5 1135.5 1877 1119.9 1877.6 1117.7 1878.1 1110.5 1878.6 1143.7 1879.2 1133.6 1879.7 1115.3 1880.2 1115 1880.8 1137.2 1881.3 1149.4 1881.8 1135.9 1882.4 1141.3 1882.9 1124.3 1883.4 1136.5 1884 1130.5 1884.5 1128.2 1885 1087.4 1885.6 1089.3 1886.1 1099.5 1886.6 1086 1887.2 1095.8 1887.7 1094.1 1888.2 1127.7 1888.8 1115.1 1889.3 1106.2 1889.8 1131.9 1890.4 1107.3 1890.9 1108.9 1891.4 1116.9 1892 1135.1 1892.5 1154.8 1893 1148.2 1893.6 1154.1 1894.1 1126 1894.6 1105.6 1895.2 1119 1895.7 1137.2 1896.2 1130.7 1896.8 1130.6 1897.3 1131 1897.8 1121.1 1898.4 1134 1898.9 1125 1899.4 1106.5 1900 1084.6 1900.5 1097.3 1901 1090.6 1901.6 1104.1 1902.1 1119.7 1902.6 1094.2 1903.2 1094.5 1903.7 1097.8 1904.2 1103.7 1904.8 1104 1905.3 1122.9 1905.9 1100.3 1906.4 1096.5 1906.9 1105 1907.5 1099.5 1908 1084.1 1908.5 1093.9 1909.1 1085.9 1909.6 1090.3 1910.1 1091 1910.7 1097.6 1911.2 1073.9 1911.7 1073.9 1912.3 1077.7 1912.8 1086.9 1913.3 1095.9 1913.9 1089.2 1914.4 1101.7 1914.9 1108.7 1915.5 1113.4 1916 1134.2 1916.5 1115.4 1917.1 1109.2 1917.6 1097.8 1918.1 1116.9 1918.7 1111.6 1919.2 1122.8 1919.7 1121.9 1920.3 1112.2 1920.8 1114.5 1921.3 1114.6 1921.9 1098.8 1922.4 1082 1922.9 1071.3 1923.5 1113.2 1924 1105.6 1924.5 1107.5 1925.1 1123.6 1925.6 1125.7 1926.1 1136.2 1926.7 1153.2 1927.2 1153.1 1927.7 1147 1928.3 1117.3 1928.8 1132.3 1929.3 1149.4 1929.9 1151.6 1930.4 1151.3 1930.9 1151 1931.5 1150.7 1932 1150.4 1932.5 1150.1 1933.1 1149.8 1933.6 1149.5 1934.2 1149.2 1934.7 1148.9 1935.2 1148.6 1935.8 1140.3 1936.3 1126 1936.8 1124.5 1937.4 1139.3 1937.9 1121.5 1938.4 1124.3 1939 1103.7 1939.5 1104 1940 1133.3 1940.6 1115.1 1941.1 1087 1941.6 1097.2 1942.2 1086.6 1942.7 1094.7 1943.2 1108.8 1943.8 1140.8 1944.3 1122 1944.8 1125.8 1945.4 1120.6 1945.9 1134.3 1946.4 1135.9 1947 1111.8 1947.5 1113.7 1948 1111.3 1948.6 1136.9 1949.1 1123.7 1949.6 1109 1950.2 1115.8 1950.7 1123.1 1951.2 1133.7 1951.8 1101.2 1952.3 1105.8 1952.8 1107.1 1953.4 1078.6 1953.9 1083.9 1954.4 1099.8 1955 1102.5 1955.5 1100.9 1956 1069.6 1956.6 1071.1 1957.1 1078.5 1957.6 1072.1 1958.2 1054.7 1958.7 1081.4 1959.2 1068.4 1959.8 1063.1 1960.3 1070.8 1960.8 1118.2 1961.4 1121.8 1961.9 1091.8 1962.5 1101.2 1963 1067.5 1963.5 1076.9 1964.1 1101.3 1964.6 1097 1965.1 1083.2 1965.7 1077.4 1966.2 1082.6 1966.7 1054 1967.3 1078.5 1967.8 1080.3 1968.3 1110.5 1968.9 1112.7 1969.4 1104.8 1969.9 1119.9 1970.5 1112.8 1971 1104.5 1971.5 1101.7 1972.1 1079.6 1972.6 1069.5 1973.1 1046.5 1973.7 1046.4 1974.2 1064 1974.7 1097.8 1975.3 1104.1 1975.8 1111.5 1976.3 1134.8 1976.9 1086.2 1977.4 1117.9 1977.9 1111.6 1978.5 1102.6 1979 1097 1979.5 1045.4 1980.1 1059.9 1980.6 1085.3 1981.1 1058.4 1981.7 1085.1 1982.2 1126 1982.7 1131 1983.3 1137 1983.8 1124.5 1984.3 1129.2 1984.9 1151.3 1985.4 1123.8 1985.9 1093.9 1986.5 1105.2 1987 1106.3 1987.5 1099.5 1988.1 1092.9 1988.6 1106.3 1989.1 1124.3 1989.7 1134.2 1990.2 1106.9 1990.7 1096.8 1991.3 1136.2 1991.8 1168.3 1992.4 1168.4 1992.9 1168.6 1993.4 1163.2 1994 1155.4 1994.5 1100.1 1995 1104.5 1995.6 1118.6 1996.1 1096.5 1996.6 1122.2 1997.2 1133.5 1997.7 1111.9 1998.2 1085.7 1998.8 1115.5 1999.3 1104.7 1999.8 1095.2 2000.4 1112.7 2000.9 1111 2001.4 1127.4 2002 1130.7 2002.5 1119.9 2003 1130.8 2003.6 1104.8 2004.1 1095.4 2004.6 1088.5 2005.2 1135.2 2005.7 1170.4 2006.2 1142.6 2006.8 1159.8 2007.3 1158.6 2007.8 1155.2 2008.4 1166.3 2008.9 1151.6 2009.4 1150.1 2010 1134.7 2010.5 1112.5 2011 1140.9 2011.6 1116.4 2012.1 1153.5 2012.6 1083.3 2013.2 1111.4 2013.7 1090.9 2014.2 1074.6 2014.8 1093.9 2015.3 1089.9 2015.8 1113.2 2016.4 1153.4 2016.9 1147.3 2017.4 1119.5 2018 1135.1 2018.5 1177.5 2019 1172.9 2019.6 1147.9 2020.1 1145.8 2020.7 1120.1 2021.2 1108.6 2021.7 1107.7 2022.3 1147.1 2022.8 1094.8 2023.3 1095.5 2023.9 1085.1 2024.4 1104.2 2024.9 1108.6 2025.5 1104.7 2026 1075.4 2026.5 1062.4 2027.1 1075.3 2027.6 1055.8 2028.1 1092.3 2028.7 1093.8 2029.2 1114.2 2029.7 1094.6 2030.3 1106.5 2030.8 1094.4 2031.3 1060.5 2031.9 1114.2 2032.4 1076.2 2032.9 1082.4 2033.5 1105 2034 1151.9 2034.5 1152 2035.1 1197 2035.6 1185.4 2036.1 1194.9 2036.7 1144.3 2037.2 1146.6 2037.7 1133.2 2038.3 1112.9 2038.8 1086.8 2039.3 1113.2 2039.9 1117.6 2040.4 1165.4 2040.9 1187.5 2041.5 1202.9 2042 1191.8 2042.5 1211.1 2043.1 1214.5 2043.6 1192.2 2044.1 1197.3 2044.7 1192.2 2045.2 1201.6 2045.7 1166.7 2046.3 1141.5 2046.8 1153.7 2047.3 1168.5 2047.9 1122.6 2048.4 1114.3 2049 1145.8 2049.5 1180.6 2050 1183.8 2050.6 1128.9 2051.1 1156.2 2051.6 1110.1" stroke="#D95319" stroke-width="10.6" stroke-linejoin="round" stroke-linecap="round" fill="none"/><path d="M198.8 1120 199.3 1142.5 199.9 1104.7 200.4 1118.6 200.9 1004 201.5 1139.5 202 1115 202.5 1147.3 203.1 1109.7 203.6 1185.7 204.1 1187.9 204.7 1293.8 205.2 1203.1 205.7 1050.7 206.3 1155.8 206.8 1215.9 207.3 1148.4 207.9 1104.9 208.4 1168.8 208.9 1158.9 209.5 1180.7 210 1115 210.5 1139.4 211.1 1131.7 211.6 1087.1 212.1 1058.3 212.7 1063.2 213.2 1170.7 213.8 1085.2 214.3 1043.1 214.8 1085 215.4 1082.7 215.9 1097.2 216.4 1086.1 217 1094.5 217.5 1108.8 218 1175.6 218.6 1159.5 219.1 1205.6 219.6 956 220.2 1107.8 220.7 1106.4 221.2 1094.3 221.8 1117.4 222.3 1088.1 222.8 1149.2 223.4 1080.1 223.9 1055.9 224.4 1081.9 225 1107.1 225.5 1121.9 226 1068.4 226.6 1092.7 227.1 1073.3 227.6 1117.7 228.2 1134.6 228.7 1090.2 229.2 1082.7 229.8 1088.1 230.3 1034.5 230.8 1086.6 231.4 1091.7 231.9 1103.2 232.4 1114.9 233 1064.7 233.5 1098.1 234 1117.2 234.6 983.4 235.1 964.7 235.6 1118.7 236.2 1114.2 236.7 1036.5 237.2 1109.1 237.8 1052.4 238.3 1040.6 238.8 1092.4 239.4 1075.1 239.9 1285.6 240.4 1094.8 241 1004.3 241.5 1001.3 242.1 1029.2 242.6 1094.2 243.1 1090.3 243.7 1045.7 244.2 1107.7 244.7 1139.4 245.3 1094.4 245.8 957.8 246.3 1080.6 246.9 1052.1 247.4 1137.2 247.9 966.5 248.5 988.4 249 1091.4 249.5 1136.1 250.1 1009.3 250.6 1057.7 251.1 1116.2 251.7 1106 252.2 1115.4 252.7 1133 253.3 1071.9 253.8 1106.8 254.3 1098.9 254.9 1145.2 255.4 1077.5 255.9 1171.1 256.5 1155.6 257 1108 257.5 1098.2 258.1 1059.7 258.6 1069.5 259.1 1158.2 259.7 1086.2 260.2 1089 260.7 1134.3 261.3 1040.9 261.8 1132 262.3 1181.6 262.9 1126.6 263.4 1125.1 263.9 958.2 264.5 1040.1 265 1113.5 265.5 1125.2 266.1 1101.4 266.6 1105 267.1 1159 267.7 1133.8 268.2 1151.1 268.7 1010.2 269.3 1068.1 269.8 1111.9 270.3 1153.1 270.9 1119.5 271.4 1075.1 272 1144.5 272.5 1097.8 273 1107.8 273.6 990.9 274.1 1224.1 274.6 1081.7 275.2 1059.5 275.7 1164 276.2 1116.1 276.8 1129.3 277.3 1122.1 277.8 1129.7 278.4 1165.3 278.9 1107.8 279.4 1096.8 280 1150.8 280.5 1039 281 1130.9 281.6 1123.3 282.1 1203.5 282.6 1164.9 283.2 1089 283.7 1104.5 284.2 1128.1 284.8 1141.5 285.3 1073.6 285.8 1153 286.4 1168.8 286.9 1186.9 287.4 1217.4 288 1215.2 288.5 1150.2 289 1223.5 289.6 1202.9 290.1 1166.4 290.6 1194.5 291.2 1165.8 291.7 1262.4 292.2 1207.1 292.8 1145.9 293.3 1177.8 293.8 1141 294.4 1156.2 294.9 1163.1 295.4 1199.4 296 1100.9 296.5 1157.6 297 1074.1 297.6 1173.7 298.1 1117.8 298.6 1084.8 299.2 1157.4 299.7 1142.1 300.3 1236.8 300.8 1041.4 301.3 1114.5 301.9 1119.9 302.4 1188.2 302.9 1167.4 303.5 1096.4 304 1122.5 304.5 1068.5 305.1 1154.1 305.6 1164.9 306.1 1168.8 306.7 1109.2 307.2 1124.5 307.7 1104.1 308.3 1142.2 308.8 1138.1 309.3 1144.5 309.9 1142.7 310.4 1155.5 310.9 1064.7 311.5 1108.4 312 1125.3 312.5 1136.1 313.1 1081.4 313.6 1106.2 314.1 1115.2 314.7 1130.6 315.2 1077.7 315.7 1083.4 316.3 1098.1 316.8 1058.1 317.3 1114.1 317.9 1096.9 318.4 1065.6 318.9 1056.8 319.5 1090.8 320 1112.2 320.5 1106.3 321.1 1131 321.6 1133.6 322.1 1111.6 322.7 1166.1 323.2 1138.4 323.7 1119.1 324.3 1136.6 324.8 1091.5 325.3 1142.7 325.9 1141.6 326.4 1096.4 326.9 1095.6 327.5 1140.4 328 1154 328.6 1133.2 329.1 1128.9 329.6 1143.6 330.2 1099.3 330.7 1187.4 331.2 1203.2 331.8 1143 332.3 1176.9 332.8 1093.9 333.4 1127.7 333.9 1182.4 334.4 1147 335 1140.2 335.5 1194.7 336 1156.9 336.6 1135.3 337.1 1158.2 337.6 1151.1 338.2 1165.3 338.7 1175.6 339.2 1117.6 339.8 1144.9 340.3 1152.1 340.8 1127.5 341.4 1190.3 341.9 1124 342.4 1103.4 343 1115.4 343.5 1163.5 344 1126.8 344.6 1098.2 345.1 1094.6 345.6 1070.6 346.2 1083.7 346.7 1118.8 347.2 1114.1 347.8 1068.1 348.3 1110 348.8 1138.9 349.4 1111.1 349.9 1213.3 350.4 1125.1 351 1042.7 351.5 1100.2 352 1145.9 352.6 1108.3 353.1 1114.1 353.6 1132.4 354.2 1094.9 354.7 1122.5 355.2 1136.8 355.8 1089.3 356.3 1113.6 356.9 1126.5 357.4 1109.3 357.9 1093.5 358.5 1015.2 359 1126.3 359.5 1103 360.1 1059.8 360.6 1105.6 361.1 1073.8 361.7 1128.1 362.2 1113.8 362.7 1056 363.3 1106.6 363.8 1051.3 364.3 1079.2 364.9 1096.3 365.4 1113.2 365.9 1057.1 366.5 1082.4 367 1046.2 367.5 1130.5 368.1 1101.9 368.6 1161.8 369.1 1105.8 369.7 1123.8 370.2 1101.3 370.7 1116.4 371.3 1091.4 371.8 1097.4 372.3 1123.4 372.9 1066.6 373.4 1118.8 373.9 1079.4 374.5 1091 375 1101.9 375.5 1124.1 376.1 1091.8 376.6 1114.8 377.1 1108.4 377.7 1096.9 378.2 1086.2 378.7 1027.3 379.3 1093.6 379.8 1053.1 380.3 1047.2 380.9 1105.9 381.4 1101.2 381.9 1060.7 382.5 1041 383 1099.6 383.5 1063.3 384.1 1074.3 384.6 1112.9 385.1 1096.3 385.7 1084 386.2 1110.5 386.8 1051.9 387.3 1178.1 387.8 1051.8 388.4 1075.3 388.9 1093.2 389.4 1044.9 390 1101.8 390.5 971.3 391 1076.1 391.6 1033 392.1 1056 392.6 1048.3 393.2 1027.7 393.7 1026.7 394.2 1042.9 394.8 1050 395.3 1058 395.8 1049.1 396.4 1042.3 396.9 1099 397.4 1058.9 398 1087.4 398.5 1068.4 399 1153.7 399.6 1122 400.1 1030.5 400.6 1101.5 401.2 1060.3 401.7 1076.5 402.2 1041.5 402.8 946 403.3 1019.2 403.8 983.4 404.4 1061.7 404.9 952.7 405.4 1001.1 406 1051.5 406.5 1017.7 407 1072.4 407.6 1022.7 408.1 1019 408.6 1016.6 409.2 1045.5 409.7 1027.9 410.2 1013.2 410.8 1074 411.3 1125.8 411.8 992.1 412.4 1054.8 412.9 1072.8 413.4 960.3 414 1018.8 414.5 984.6 415.1 1062.3 415.6 1037.4 416.1 1017.4 416.7 1022.8 417.2 1040.4 417.7 1037.1 418.3 1020.4 418.8 1001.5 419.3 1073.6 419.9 1090.6 420.4 1163.5 420.9 1099.4 421.5 1109.5 422 1028.8 422.5 970.7 423.1 1002.5 423.6 1058 424.1 1027.5 424.7 1121.2 425.2 1019 425.7 1213.5 426.3 1046.9 426.8 1070.2 427.3 1063.7 427.9 1082.9 428.4 986.5 428.9 1003.8 429.5 1027 430 1022.3 430.5 1084.2 431.1 1036.7 431.6 1091.4 432.1 1099.4 432.7 1057.5 433.2 1069.5 433.7 1093.6 434.3 999.3 434.8 1055.2 435.3 1021.4 435.9 961.2 436.4 1084.4 436.9 984.5 437.5 1065.8 438 1015.6 438.5 1100.7 439.1 1072.8 439.6 1050.3 440.1 1042.5 440.7 1025.1 441.2 1035.7 441.7 1064.3 442.3 1063.6 442.8 999.5 443.4 1046.9 443.9 1074 444.4 1071.7 445 1079.4 445.5 1133.9 446 1086.7 446.6 1055.6 447.1 1034.4 447.6 1060.2 448.2 1093.3 448.7 1047.6 449.2 1004.7 449.8 1050.8 450.3 1062.8 450.8 1052.2 451.4 944.7 451.9 865.8 452.4 1015.2 453 1079.8 453.5 1086.2 454 1052.8 454.6 1033.1 455.1 1024.4 455.6 979.7 456.2 1118.7 456.7 1071.1 457.2 1023.1 457.8 997.1 458.3 1033.2 458.8 1061.6 459.4 1015.3 459.9 1041.9 460.4 1071.9 461 984.8 461.5 1028.7 462 976.7 462.6 885.8 463.1 1023.8 463.6 1063.4 464.2 1018.6 464.7 943.1 465.2 1058.4 465.8 1106.4 466.3 1025.4 466.8 997.6 467.4 1013.7 467.9 1141 468.4 1079.7 469 1081.6 469.5 1128.1 470 1144.2 470.6 1060.5 471.1 1131.4 471.7 1075.4 472.2 1058.3 472.7 1213.2 473.3 1166.2 473.8 1146.7 474.3 1083.3 474.9 1045.2 475.4 1156.3 475.9 1115.7 476.5 1084.7 477 1071.9 477.5 1120.9 478.1 1087.2 478.6 1197.3 479.1 1082.9 479.7 1110.3 480.2 986.2 480.7 1072.3 481.3 884.5 481.8 1060.7 482.3 1061 482.9 992.7 483.4 1167.6 483.9 1068.8 484.5 1041.3 485 1053.6 485.5 1076.9 486.1 1189.2 486.6 1133.2 487.1 1090.5 487.7 1094.1 488.2 1061.5 488.7 1085.9 489.3 1093.3 489.8 1069.4 490.3 1132.3 490.9 1097.3 491.4 1058.4 491.9 1123.6 492.5 1112.1 493 1078.9 493.5 1123.6 494.1 1052.8 494.6 1035.5 495.1 1069 495.7 1100.9 496.2 1103 496.7 1073.2 497.3 1114.3 497.8 1048.5 498.3 1084.4 498.9 1081.8 499.4 1067.8 500 1061.8 500.5 1073.4 501 1084 501.6 1089.7 502.1 1018.2 502.6 1067.6 503.2 1015.2 503.7 1080.7 504.2 1032 504.8 1100.2 505.3 1107.1 505.8 1063.7 506.4 1081.9 506.9 1120.9 507.4 1098.2 508 1067.5 508.5 1102 509 1077.8 509.6 1075.3 510.1 1116.3 510.6 1204.9 511.2 1117.6 511.7 1151.7 512.2 1083 512.8 1130.5 513.3 1103.2 513.8 1183.1 514.4 1154.8 514.9 1073.4 515.4 1128.5 516 1097.7 516.5 1038.2 517 1080.3 517.6 1035.7 518.1 1160.7 518.6 1188.7 519.2 1126.2 519.7 1138.3 520.2 1116.9 520.8 1189.5 521.3 1155.6 521.8 1211.8 522.4 1180.5 522.9 1109.5 523.4 1066.4 524 1140.2 524.5 1065.1 525 1124.9 525.6 1109.7 526.1 1070.4 526.6 1096.2 527.2 1079.7 527.7 1098.6 528.2 931.9 528.8 1110.6 529.3 1101.8 529.9 1075.7 530.4 1077.1 530.9 1128.9 531.5 1130.8 532 997.3 532.5 1068.5 533.1 1077.2 533.6 1064.1 534.1 1066.3 534.7 1095.8 535.2 1035.5 535.7 1092.6 536.3 1065.8 536.8 1094.9 537.3 1110.4 537.9 1064.7 538.4 1062.4 538.9 1069.4 539.5 1106.5 540 1057.2 540.5 1079 541.1 1050.3 541.6 1145 542.1 985 542.7 1184.4 543.2 1118.6 543.7 1129.9 544.3 1099.1 544.8 1089 545.3 1130.6 545.9 1144.2 546.4 1108.3 546.9 1055.5 547.5 1149.7 548 1088 548.5 1020.2 549.1 1006.6 549.6 1065.7 550.1 999.8 550.7 1095 551.2 1096.8 551.7 1090.2 552.3 1131 552.8 1080.7 553.3 1007.4 553.9 1086.5 554.4 1060.5 554.9 1140.8 555.5 1111.4 556 1026.7 556.5 1065.7 557.1 1083.9 557.6 1091.5 558.2 974.9 558.7 1066.5 559.2 1100.1 559.8 1064.9 560.3 1139.3 560.8 1046 561.4 1037.3 561.9 1036.1 562.4 1150.7 563 1027.2 563.5 1114.8 564 1028.4 564.6 984.4 565.1 1091.9 565.6 1018.8 566.2 1112.6 566.7 1207.4 567.2 1055.8 567.8 1090.2 568.3 1047.5 568.8 1013.7 569.4 1147.7 569.9 1058.1 570.4 1073.9 571 1127.2 571.5 1087.2 572 1030 572.6 1092.1 573.1 1055.6 573.6 1097 574.2 1100.7 574.7 1156.5 575.2 1097.9 575.8 1107.4 576.3 1202.2 576.8 1056.9 577.4 1034.4 577.9 1074.9 578.4 1100.8 579 1057.9 579.5 1047.7 580 1114.9 580.6 1113.2 581.1 1176.6 581.6 1074 582.2 1132.3 582.7 1232 583.2 1015.2 583.8 1076.6 584.3 1078.3 584.8 1115.3 585.4 1099.2 585.9 1024.6 586.5 1073.2 587 1198.5 587.5 1100.5 588.1 1112.9 588.6 1137.5 589.1 1122.4 589.7 1140.9 590.2 1100.3 590.7 1070.3 591.3 1155.9 591.8 1067.7 592.3 1108.8 592.9 1029.4 593.4 1088.2 593.9 1144.4 594.5 1090.5 595 1037 595.5 1045.2 596.1 1081.8 596.6 979.2 597.1 1130.5 597.7 1158.2 598.2 1026.7 598.7 1064.4 599.3 1088.9 599.8 1003.6 600.3 1063 600.9 1063.8 601.4 1050.5 601.9 1053.5 602.5 1030.2 603 1102.7 603.5 1106.9 604.1 1167.6 604.6 1036.5 605.1 1080.3 605.7 1137.6 606.2 1099.7 606.7 1049.7 607.3 1045.1 607.8 1083.7 608.3 969.9 608.9 1019.5 609.4 1049.5 609.9 952.6 610.5 1003.3 611 1041.6 611.5 1007.6 612.1 1038.8 612.6 1062.8 613.1 960 613.7 1041.2 614.2 1104 614.8 1091.2 615.3 1049.8 615.8 1110.9 616.4 1100.2 616.9 1067.2 617.4 1036.9 618 1053.2 618.5 1057.2 619 972.7 619.6 1053.9 620.1 992.5 620.6 1063.9 621.2 1020.4 621.7 1047 622.2 1029 622.8 1034.7 623.3 1032 623.8 1019.1 624.4 1058.6 624.9 1025.5 625.4 1082.4 626 1003.6 626.5 1069.4 627 1104 627.6 1095.5 628.1 1097.4 628.6 1055.4 629.2 1094.7 629.7 1027.7 630.2 1140.2 630.8 1108.6 631.3 1054.3 631.8 1089.4 632.4 929.2 632.9 1099 633.4 1051.9 634 1065 634.5 1058.8 635 1091.5 635.6 1070.1 636.1 1117.5 636.6 1104.6 637.2 1086.1 637.7 1052.1 638.2 1108.3 638.8 1039.5 639.3 1057.7 639.8 1082.9 640.4 1056.5 640.9 1063.1 641.4 1152.7 642 1120.4 642.5 1070.9 643 1073.9 643.6 1083.4 644.1 1044 644.7 1050.7 645.2 1147.6 645.7 1094.8 646.3 1067.5 646.8 1031.1 647.3 1012 647.9 1053.5 648.4 1078.2 648.9 1133.8 649.5 1132.8 650 1094.2 650.5 1154.3 651.1 1096.1 651.6 1101 652.1 1053.6 652.7 1072.4 653.2 1066.3 653.7 1124.6 654.3 1066.1 654.8 1065.3 655.3 1120.6 655.9 1092 656.4 1096.3 656.9 1098.3 657.5 1056.5 658 1107.6 658.5 1113 659.1 1067.1 659.6 1107.1 660.1 1127 660.7 1154.7 661.2 1151.4 661.7 1129.3 662.3 1159 662.8 1105.5 663.3 1106.5 663.9 1131.1 664.4 1059.3 664.9 1075.3 665.5 1122.6 666 1072.3 666.5 1012.7 667.1 1084.1 667.6 1043.5 668.1 1172.9 668.7 1054.4 669.2 1069.7 669.7 1151.7 670.3 1139.4 670.8 1136.8 671.3 1088 671.9 1145.2 672.4 1158.7 673 1099.3 673.5 1178.2 674 1109.6 674.6 1130.3 675.1 1148.8 675.6 1195.4 676.2 1411.3 676.7 1132.7 677.2 1160.4 677.8 1191.8 678.3 1175.3 678.8 1201.1 679.4 1194.8 679.9 1206.6 680.4 1205 681 1207.3 681.5 1208.2 682 1131.8 682.6 1133.3 683.1 1184.6 683.6 1110.8 684.2 1193.2 684.7 1132.2 685.2 1090.4 685.8 1044.1 686.3 1209.2 686.8 1137 687.4 1178.8 687.9 1166.5 688.4 1148.4 689 1103.8 689.5 1224.5 690 1213.2 690.6 1126 691.1 1095.7 691.6 1113.4 692.2 1147.5 692.7 1138.3 693.2 1154.7 693.8 1169.3 694.3 1149.3 694.8 1159.7 695.4 1156.6 695.9 1144.3 696.4 1104.8 697 1188.1 697.5 1158.3 698 1130.9 698.6 1156.6 699.1 1138 699.6 1149.5 700.2 1153.4 700.7 1223.7 701.3 1120 701.8 1158 702.3 1164.7 702.9 1238.3 703.4 1167.5 703.9 1182.7 704.5 1134.7 705 1173.8 705.5 1209.3 706.1 1139.5 706.6 1144.6 707.1 1088.6 707.7 1169.3 708.2 1161.5 708.7 1104.3 709.3 1099.4 709.8 1110 710.3 1158.9 710.9 1109.5 711.4 1133.6 711.9 1150.3 712.5 1100.3 713 1101.5 713.5 1134.8 714.1 1104.3 714.6 1089.6 715.1 1164.9 715.7 1091 716.2 1167.4 716.7 1190.4 717.3 1135.4 717.8 1143.8 718.3 1134.7 718.9 1168.8 719.4 1160.3 719.9 1103.9 720.5 1140.4 721 1140.7 721.5 1149 722.1 1113.5 722.6 1169.8 723.1 1147 723.7 1052 724.2 1164.5 724.7 1172.1 725.3 1101.5 725.8 1171.9 726.3 1134.8 726.9 1121.2 727.4 1202.7 727.9 1188.7 728.5 1167.4 729 1118.5 729.6 1151.2 730.1 1151.5 730.6 1146.8 731.2 1156.9 731.7 1126.8 732.2 1138.2 732.8 1158.5 733.3 1128.4 733.8 1106.2 734.4 1067.4 734.9 1106.9 735.4 1104.6 736 1179.8 736.5 1147.1 737 1140.5 737.6 1139.4 738.1 1112.5 738.6 1194.8 739.2 1152 739.7 1172.2 740.2 1163.8 740.8 1144.2 741.3 1144.4 741.8 1096.9 742.4 1166.4 742.9 1119.1 743.4 1136.5 744 1133.3 744.5 1129.7 745 1091.5 745.6 1206.1 746.1 1103.7 746.6 1126.6 747.2 1106.3 747.7 1130.8 748.2 1144.3 748.8 1062.8 749.3 1140.6 749.8 1157.8 750.4 1179.4 750.9 1147.5 751.4 1151.7 752 1186.6 752.5 1097.3 753 1138.7 753.6 1143.8 754.1 1246.8 754.6 1154 755.2 1104.1 755.7 1123.1 756.2 1132.5 756.8 1091.2 757.3 1129.6 757.8 1101.4 758.4 1134 758.9 1124.3 759.5 1082.9 760 1136.1 760.5 1069.1 761.1 1130.4 761.6 1164.4 762.1 1073 762.7 1114.4 763.2 1097.1 763.7 1102.9 764.3 1068.8 764.8 1000 765.3 1054.5 765.9 1037.6 766.4 1056.2 766.9 1079.5 767.5 1073.1 768 1045.8 768.5 1074.6 769.1 1082.8 769.6 1071.8 770.1 1132.5 770.7 1064.4 771.2 1035.3 771.7 1070.8 772.3 1033.8 772.8 1043.8 773.3 1063.5 773.9 1060.8 774.4 1075.6 774.9 1060.1 775.5 1082.8 776 1141.5 776.5 1037.9 777.1 1029.4 777.6 1054.2 778.1 1019.3 778.7 1040.2 779.2 1068.8 779.7 1076.8 780.3 1069.3 780.8 1084.4 781.3 1109.9 781.9 1094.5 782.4 1028.4 782.9 1103.6 783.5 1070.4 784 1032.9 784.5 1005.1 785.1 1047.8 785.6 1038.8 786.1 1048.3 786.7 1104.8 787.2 1058.4 787.8 1084.4 788.3 1087.5 788.8 1097.7 789.4 982 789.9 1067 790.4 1033.5 791 1112.8 791.5 1066.9 792 998 792.6 951.7 793.1 1041.9 793.6 1032.6 794.2 1006 794.7 1026.1 795.2 1059.6 795.8 1146.4 796.3 1005 796.8 1031.4 797.4 920.3 797.9 1015.1 798.4 965 799 1003.1 799.5 1028.3 800 1041.4 800.6 1014.4 801.1 972.1 801.6 1063.6 802.2 1063.3 802.7 1059.4 803.2 1111.8 803.8 879.1 804.3 1066 804.8 1103.2 805.4 994.1 805.9 1069.2 806.4 1089.9 807 1061.5 807.5 1059.4 808 990.2 808.6 1046.9 809.1 1053.6 809.6 1064.8 810.2 1130.7 810.7 1103.5 811.2 1093.3 811.8 1085.8 812.3 1120.6 812.8 1085.6 813.4 1061.9 813.9 1054.2 814.4 1086.8 815 1142.4 815.5 1142.7 816.1 1072.4 816.6 1118.8 817.1 887.2 817.7 1075.3 818.2 1037.5 818.7 1073.3 819.3 1045.6 819.8 959.3 820.3 1075.1 820.9 1075.7 821.4 1072.3 821.9 1036.6 822.5 1047.5 823 1086.9 823.5 1059.8 824.1 1002.3 824.6 1086 825.1 1018.5 825.7 1061.6 826.2 1047.1 826.7 1060.2 827.3 1119.5 827.8 1100.1 828.3 1221.2 828.9 1054.1 829.4 1086 829.9 1113.8 830.5 1067.7 831 1071.6 831.5 1068.2 832.1 1078.6 832.6 1101.7 833.1 1141 833.7 1083.8 834.2 1059.2 834.7 1100.9 835.3 1096.1 835.8 1101.7 836.3 1225 836.9 1068.2 837.4 1071.8 837.9 892.5 838.5 1090.6 839 1014.8 839.5 1101.6 840.1 1100.1 840.6 1106.2 841.1 1019.6 841.7 1130.1 842.2 1067.3 842.7 1097.8 843.3 1079.5 843.8 1002.8 844.4 1064.6 844.9 1070.7 845.4 1062.1 846 1027.8 846.5 1092.6 847 1096 847.6 1074.9 848.1 1207.5 848.6 1051.4 849.2 1091.2 849.7 1068.3 850.2 1153.5 850.8 1036.4 851.3 1139.7 851.8 1115.2 852.4 1075.2 852.9 1136.6 853.4 1127 854 1222.6 854.5 1024.7 855 1089.7 855.6 1147.3 856.1 1057.7 856.6 1052.7 857.2 1177.3 857.7 1066.5 858.2 942.4 858.8 1074 859.3 1091.8 859.8 1096.5 860.4 1098 860.9 1184.5 861.4 1073.4 862 1032.7 862.5 1078.9 863 1098.6 863.6 1100.1 864.1 1060.2 864.6 1070.5 865.2 1070.4 865.7 1113.3 866.2 1124.7 866.8 1034.3 867.3 1125.7 867.8 1113.5 868.4 1050.4 868.9 1126.9 869.4 1095.2 870 1060.6 870.5 1075.9 871 1072.9 871.6 1086.1 872.1 1077.7 872.6 1144.1 873.2 1092.6 873.7 1093.3 874.3 1115.8 874.8 1057.9 875.3 1082.7 875.9 965.5 876.4 1045.3 876.9 1118.5 877.5 1101.5 878 1011.1 878.5 1048.5 879.1 1051.4 879.6 1123 880.1 1000.1 880.7 955.4 881.2 1091.3 881.7 1053.7 882.3 1043.9 882.8 1137.6 883.3 1068.1 883.9 1153.1 884.4 1075.1 884.9 1052.5 885.5 1080.1 886 1193.1 886.5 1105.8 887.1 1076.2 887.6 1057 888.1 1239.3 888.7 1185.8 889.2 1106 889.7 1092.9 890.3 1081 890.8 1087.8 891.3 1113.4 891.9 1124.9 892.4 1168.4 892.9 1029.7 893.5 1078.1 894 1129.4 894.5 1063.7 895.1 1062.2 895.6 1093.5 896.1 1043.8 896.7 1058.1 897.2 1099.9 897.7 1001 898.3 1098.6 898.8 1158.2 899.3 1069.4 899.9 1064.2 900.4 1073.7 900.9 1123.6 901.5 1129.2 902 1053.8 902.6 1136.7 903.1 1152.9 903.6 1134.1 904.2 1099.9 904.7 998.4 905.2 1107.5 905.8 1142.5 906.3 1094.5 906.8 1152.4 907.4 1234.2 907.9 1170.2 908.4 1080.9 909 1084.2 909.5 1058.5 910 1152.5 910.6 1122.6 911.1 1164.5 911.6 1134.8 912.2 916.6 912.7 1149.8 913.2 1113.2 913.8 1096.5 914.3 1172.8 914.8 1109.1 915.4 1140.8 915.9 1133 916.4 1132.1 917 1155.1 917.5 1130.4 918 1084.7 918.6 1080.6 919.1 1123 919.6 984.9 920.2 1048.4 920.7 1101.7 921.2 1093.7 921.8 1296.3 922.3 1099.4 922.8 1074.7 923.4 1152.4 923.9 1041.5 924.4 1108.1 925 990.5 925.5 1112.8 926 1108.8 926.6 1093.8 927.1 1068.3 927.6 1151.7 928.2 1041.4 928.7 1125.1 929.2 1097.1 929.8 1056.1 930.3 1119 930.9 1027.5 931.4 1102.7 931.9 1113.3 932.5 1068.5 933 1120.6 933.5 1012.8 934.1 1183 934.6 1116.6 935.1 1091.2 935.7 1007.8 936.2 1097.3 936.7 1139.4 937.3 1118.9 937.8 1266 938.3 1098.9 938.9 1106.7 939.4 1153.2 939.9 1107.7 940.5 1199.9 941 1116.7 941.5 1131.3 942.1 1203.3 942.6 1126 943.1 1139.3 943.7 1120.2 944.2 1128.1 944.7 1114.7 945.3 1153.4 945.8 1204.5 946.3 1105.4 946.9 1181.4 947.4 1129.7 947.9 1141.1 948.5 1187.5 949 1109.3 949.5 1169.2 950.1 1154.5 950.6 1240.7 951.1 1157.9 951.7 1119.5 952.2 1175.7 952.7 1211.6 953.3 1144.5 953.8 1172.4 954.3 1086.2 954.9 1063.4 955.4 1124.9 955.9 1080.3 956.5 1110.1 957 1095.4 957.5 1146.5 958.1 1095.1 958.6 1159.8 959.2 1190.4 959.7 1168.9 960.2 1148.6 960.8 1185.4 961.3 1128.3 961.8 1176.4 962.4 1221.4 962.9 1129.3 963.4 1148 964 1113.6 964.5 1184.1 965 1182.5 965.6 1105.9 966.1 1182.3 966.6 1122.3 967.2 1105.2 967.7 1179.4 968.2 1147.3 968.8 1132 969.3 1153.6 969.8 1219.9 970.4 1191.1 970.9 1170.5 971.4 1198.8 972 1150.8 972.5 1113.4 973 1142.8 973.6 1139.9 974.1 1119.6 974.6 1105.9 975.2 1064.5 975.7 1114 976.2 1114.2 976.8 1172.4 977.3 1107.9 977.8 1135 978.4 1203.2 978.9 1048 979.4 1117.6 980 1107.4 980.5 1229.6 981 1078.5 981.6 1101.6 982.1 1049.7 982.6 1112.5 983.2 1128.6 983.7 1126.2 984.2 1118.7 984.8 1115.2 985.3 1126.2 985.8 1122.9 986.4 1094.2 986.9 1071.4 987.5 1128.9 988 1005.3 988.5 1005.1 989.1 1136.3 989.6 1075.7 990.1 941.2 990.7 1025 991.2 1081.8 991.7 1085.3 992.3 1075.5 992.8 1095.2 993.3 1029.9 993.9 1084.5 994.4 1099.2 994.9 1072.6 995.5 996.3 996 1069.2 996.5 1027.9 997.1 1063.4 997.6 1012.7 998.1 1094.3 998.7 1090.5 999.2 1130.1 999.7 1087.2 1000.3 1008.3 1000.8 1113.5 1001.3 1088.5 1001.9 1110.2 1002.4 1076 1002.9 1119.6 1003.5 1083.2 1004 1073.1 1004.5 1115.8 1005.1 1119.4 1005.6 1051.1 1006.1 1105.3 1006.7 1086.3 1007.2 1132.1 1007.7 1173.1 1008.3 1128.5 1008.8 1039.3 1009.3 1110.1 1009.9 1002.8 1010.4 1106.4 1010.9 1116.1 1011.5 1080.9 1012 1185.8 1012.5 1156.3 1013.1 1096.2 1013.6 1064.9 1014.1 1084.5 1014.7 1093 1015.2 1084.7 1015.7 1119 1016.3 1070.6 1016.8 1120.7 1017.4 1168.7 1017.9 1105.4 1018.4 1122.9 1019 1089 1019.5 1048.8 1020 1092 1020.6 1091.7 1021.1 1105.7 1021.6 1097 1022.2 1133.7 1022.7 1160.9 1023.2 1099.6 1023.8 1078.6 1024.3 1092 1024.8 1078.4 1025.4 1096.5 1025.9 1101.4 1026.4 1031.5 1027 1039.3 1027.5 1050.4 1028 1047.9 1028.6 1044 1029.1 1058.5 1029.6 987.5 1030.2 1036 1030.7 1045.4 1031.2 1122 1031.8 1088.9 1032.3 1070.4 1032.8 1143.1 1033.4 1089.9 1033.9 1083.5 1034.4 1056.2 1035 1126.6 1035.5 1151.7 1036 1170.1 1036.6 1102.3 1037.1 1123.8 1037.6 1080 1038.2 1104.4 1038.7 1198 1039.2 1111.2 1039.8 1086.9 1040.3 1110.1 1040.8 1071.3 1041.4 1127.4 1041.9 1141.7 1042.4 1054 1043 1133.5 1043.5 1092.4 1044 1120 1044.6 1167.6 1045.1 1057.5 1045.7 1149.8 1046.2 1089.9 1046.7 1121.9 1047.3 1037.2 1047.8 1191.6 1048.3 1126.2 1048.9 1082.1 1049.4 1060.9 1049.9 1103.7 1050.5 1060.9 1051 1076.9 1051.5 1049 1052.1 928.7 1052.6 1027.5 1053.1 1028.4 1053.7 1088.7 1054.2 1123.4 1054.7 1105.2 1055.3 1028.1 1055.8 897.9 1056.3 1087.6 1056.9 1056.1 1057.4 1086.8 1057.9 1117.4 1058.5 1061.2 1059 1029.3 1059.5 1037 1060.1 1033.3 1060.6 1039.5 1061.1 1071.7 1061.7 1106.9 1062.2 973 1062.7 905.9 1063.3 1133.4 1063.8 1015.1 1064.3 1023 1064.9 995.2 1065.4 1109.4 1065.9 1039 1066.5 971 1067 1054.5 1067.5 1059.7 1068.1 1029.9 1068.6 1063.6 1069.1 1125.8 1069.7 1069 1070.2 1042.2 1070.7 985.9 1071.3 1064.4 1071.8 977.1 1072.3 1041.7 1072.9 1094.9 1073.4 1057.4 1074 1094.9 1074.5 1103.8 1075 1147.8 1075.6 1163.6 1076.1 1123 1076.6 1120.5 1077.2 1120.2 1077.7 951 1078.2 1065 1078.8 1088.7 1079.3 1065.7 1079.8 1127.9 1080.4 1110.8 1080.9 1096.5 1081.4 1087.4 1082 1121.2 1082.5 1059.5 1083 1140.2 1083.6 1122.5 1084.1 1116.3 1084.6 1059.3 1085.2 1087.5 1085.7 1110.2 1086.2 1120.2 1086.8 1065.7 1087.3 1136.6 1087.8 1143.8 1088.4 1166.5 1088.9 1155.2 1089.4 1108.3 1090 1168.3 1090.5 1091.6 1091 1086.9 1091.6 1126.1 1092.1 1099.5 1092.6 1032.6 1093.2 1109.9 1093.7 1127.8 1094.2 1106.2 1094.8 1112.6 1095.3 1072.2 1095.8 1091.7 1096.4 1058.9 1096.9 1124.5 1097.4 1054.3 1098 1088.9 1098.5 1065.1 1099 1104.6 1099.6 1107.5 1100.1 1092 1100.6 1094.8 1101.2 1113.8 1101.7 1110.4 1102.3 1054.3 1102.8 1064.2 1103.3 1115.1 1103.9 1061.7 1104.4 1079.1 1104.9 1063 1105.5 1134.7 1106 1098.4 1106.5 1048.3 1107.1 1074.1 1107.6 1092.6 1108.1 1108.8 1108.7 1132.2 1109.2 1102 1109.7 985.2 1110.3 1069.8 1110.8 1094.7 1111.3 1023.5 1111.9 1094 1112.4 1062 1112.9 1063.5 1113.5 1148.6 1114 1092.1 1114.5 1135.7 1115.1 1045.5 1115.6 1070.2 1116.1 1069.2 1116.7 1086.8 1117.2 1104.6 1117.7 1073.3 1118.3 1052.2 1118.8 1067.7 1119.3 1023.7 1119.9 1093.6 1120.4 1103 1120.9 1050.8 1121.5 1074.7 1122 1048.1 1122.5 1026.3 1123.1 1096.5 1123.6 1121.6 1124.1 1084.7 1124.7 1089.6 1125.2 1051.7 1125.7 1144.1 1126.3 1087.8 1126.8 1082.9 1127.3 1026 1127.9 1019.6 1128.4 1095.6 1128.9 1096.5 1129.5 1096.3 1130 1052.1 1130.5 1071.3 1131.1 1107.7 1131.6 1073.1 1132.2 1051.1 1132.7 1084.3 1133.2 1061.4 1133.8 983.2 1134.3 1115.4 1134.8 1076.6 1135.4 1059.5 1135.9 1043 1136.4 1012.4 1137 1044.8 1137.5 1097 1138 1090.8 1138.6 1115.4 1139.1 1093 1139.6 1036.4 1140.2 1036.3 1140.7 1086.3 1141.2 1101.9 1141.8 1116.1 1142.3 1105.5 1142.8 1006.7 1143.4 1118.1 1143.9 1085.1 1144.4 1120 1145 1082.4 1145.5 1026.2 1146 1137.5 1146.6 1100.8 1147.1 1091.3 1147.6 1107.6 1148.2 1111.7 1148.7 1100.9 1149.2 1140.8 1149.8 1127.1 1150.3 1164.8 1150.8 1111.8 1151.4 1055.4 1151.9 1121.3 1152.4 1128.7 1153 1079.2 1153.5 1082.9 1154 1005.5 1154.6 1078.6 1155.1 1147.9 1155.6 1098.4 1156.2 1091.3 1156.7 1131.2 1157.2 1131.4 1157.8 1112.8 1158.3 1039.8 1158.8 1074.6 1159.4 1182.6 1159.9 1067.2 1160.5 1044.5 1161 1056.9 1161.5 1105.6 1162.1 1102.8 1162.6 1078.7 1163.1 1091.4 1163.7 1079.8 1164.2 1034.4 1164.7 1080.7 1165.3 1063.9 1165.8 1096.5 1166.3 1065.6 1166.9 1090.9 1167.4 1095 1167.9 1075.9 1168.5 1080 1169 1103.2 1169.5 1140.7 1170.1 1084.1 1170.6 1076.3 1171.1 1017.1 1171.7 1105.9 1172.2 1101.3 1172.7 1040 1173.3 1068.5 1173.8 1107.3 1174.3 1125.4 1174.9 1154.3 1175.4 1091.7 1175.9 1099.8 1176.5 1097.8 1177 1068.8 1177.5 1147.2 1178.1 1084.3 1178.6 1051.7 1179.1 1129.2 1179.7 1156.8 1180.2 1087.4 1180.7 1111.7 1181.3 1085.3 1181.8 1134.5 1182.3 1119.9 1182.9 1128.5 1183.4 1091.3 1183.9 1160.5 1184.5 1155.4 1185 1241.8 1185.5 1164.8 1186.1 1083.5 1186.6 1133.9 1187.1 1039.9 1187.7 1153.7 1188.2 1129.1 1188.8 1117.4 1189.3 1079 1189.8 1119.1 1190.4 1099.2 1190.9 1096.9 1191.4 1092.1 1192 1080.3 1192.5 1100.4 1193 1030.9 1193.6 1130.7 1194.1 1092.4 1194.6 1089.9 1195.2 1085.2 1195.7 1075.3 1196.2 1101 1196.8 1056.1 1197.3 1093.1 1197.8 1091.1 1198.4 1091 1198.9 1085.8 1199.4 1052 1200 921.9 1200.5 1056.8 1201 1106 1201.6 1107.2 1202.1 1060.4 1202.6 1117.1 1203.2 1076.9 1203.7 1133.9 1204.2 1118.7 1204.8 1006.8 1205.3 1140 1205.8 1122 1206.4 1051.5 1206.9 1113.8 1207.4 1113.7 1208 1108.1 1208.5 1051.6 1209 1058.3 1209.6 1000.1 1210.1 1050 1210.6 1074.2 1211.2 1000.1 1211.7 1102.3 1212.2 1039.7 1212.8 1082.4 1213.3 1059.3 1213.8 1044.1 1214.4 1055.8 1214.9 1071.1 1215.4 1041.1 1216 1030.6 1216.5 1046.2 1217.1 1094.3 1217.6 1046.4 1218.1 1013.8 1218.7 1049.7 1219.2 1096.6 1219.7 1054.2 1220.3 1045 1220.8 1090.8 1221.3 1054.6 1221.9 1045 1222.4 1029.8 1222.9 1056 1223.5 1048.2 1224 1064.7 1224.5 1070.8 1225.1 1043.4 1225.6 1151.2 1226.1 1078.4 1226.7 1075.3 1227.2 1044.3 1227.7 1034.1 1228.3 1050 1228.8 1075.2 1229.3 1058 1229.9 1110.3 1230.4 1104.1 1230.9 1101.8 1231.5 1102.4 1232 1071.1 1232.5 1044.1 1233.1 1068.1 1233.6 1011 1234.1 1120.1 1234.7 1072.7 1235.2 1062 1235.7 1059.4 1236.3 1104 1236.8 1073.8 1237.3 1045.6 1237.9 1089.9 1238.4 1050.4 1238.9 1073.9 1239.5 1099.8 1240 1090.4 1240.5 1135.5 1241.1 1102.5 1241.6 1108.9 1242.1 1115.6 1242.7 1142.6 1243.2 1207.8 1243.7 1142.5 1244.3 1065.3 1244.8 1180.3 1245.3 1185.5 1245.9 921.9 1246.4 1084.4 1247 1096.5 1247.5 1185.2 1248 1148 1248.6 1175.6 1249.1 1126.4 1249.6 1184 1250.2 1160.6 1250.7 1204.4 1251.2 1177.4 1251.8 1157.8 1252.3 1084.2 1252.8 1198.1 1253.4 1091.6 1253.9 1163.2 1254.4 1230 1255 1182.2 1255.5 1156.9 1256 1115.8 1256.6 963.4 1257.1 1103.9 1257.6 1128.9 1258.2 1031.9 1258.7 1075.2 1259.2 1138.9 1259.8 1114.1 1260.3 1055.4 1260.8 1080.9 1261.4 1112.8 1261.9 1103.3 1262.4 1123.7 1263 1131 1263.5 1110.4 1264 1163.7 1264.6 1032.3 1265.1 1100.1 1265.6 1043.1 1266.2 1092.5 1266.7 999.2 1267.2 1069.8 1267.8 1030.2 1268.3 1062 1268.8 1043.2 1269.4 1039.2 1269.9 1059.1 1270.4 1144 1271 1072.5 1271.5 1188.6 1272 1102.1 1272.6 906.2 1273.1 1080.4 1273.6 1042.8 1274.2 1077.3 1274.7 1097.3 1275.3 1140.8 1275.8 1044.6 1276.3 1147.1 1276.9 1098.8 1277.4 1044.5 1277.9 1063.6 1278.5 1034.1 1279 1076.3 1279.5 1089 1280.1 1121.3 1280.6 1039.8 1281.1 1035.4 1281.7 1091.5 1282.2 1081.6 1282.7 952.1 1283.3 1061.2 1283.8 1058.2 1284.3 1045.6 1284.9 1067.7 1285.4 1098.6 1285.9 1103.4 1286.5 1127.4 1287 963.6 1287.5 1099.1 1288.1 1023.3 1288.6 1101.2 1289.1 1097.2 1289.7 1102.3 1290.2 1252.1 1290.7 1055 1291.3 1103.1 1291.8 1103.5 1292.3 1109.9 1292.9 1062.8 1293.4 1205.9 1293.9 1084.3 1294.5 1098.1 1295 1119.3 1295.5 1055 1296.1 1099.9 1296.6 1067.6 1297.1 1107.5 1297.7 1092.7 1298.2 1147.1 1298.7 1065.9 1299.3 1108.9 1299.8 1133.4 1300.3 1125.3 1300.9 1132.4 1301.4 1098.9 1301.9 1149.9 1302.5 1237.8 1303 1117.3 1303.6 1151.7 1304.1 1115.3 1304.6 1104.6 1305.2 1069.9 1305.7 1088 1306.2 1010.3 1306.8 1070.3 1307.3 1151.3 1307.8 1036 1308.4 1103.2 1308.9 1050.4 1309.4 951.3 1310 1057.8 1310.5 991.6 1311 1040.3 1311.6 1121.3 1312.1 1226.4 1312.6 1064.1 1313.2 1016.2 1313.7 1063.2 1314.2 1155.2 1314.8 1016.6 1315.3 1033.1 1315.8 1101 1316.4 1131 1316.9 1055.3 1317.4 1119.4 1318 1146.7 1318.5 1124.7 1319 1015.4 1319.6 1040.5 1320.1 950.6 1320.6 1006.4 1321.2 1074.4 1321.7 939.8 1322.2 1087.1 1322.8 1087.3 1323.3 1007.3 1323.8 1034.1 1324.4 1191.9 1324.9 1092.5 1325.4 1023.8 1326 1002.4 1326.5 1096.3 1327 1100.6 1327.6 1080.4 1328.1 1164.9 1328.6 1094.7 1329.2 1071.4 1329.7 1108.1 1330.2 1157.4 1330.8 1046.6 1331.3 1060.9 1331.9 1108.7 1332.4 1156 1332.9 1147.9 1333.5 1091.9 1334 1055.1 1334.5 1119.6 1335.1 927.3 1335.6 1099.9 1336.1 1091.9 1336.7 1075.9 1337.2 1111.1 1337.7 1193.4 1338.3 1115.3 1338.8 1136.2 1339.3 1088 1339.9 1084.9 1340.4 1152.2 1340.9 1147.9 1341.5 1004.6 1342 1160.4 1342.5 1107.8 1343.1 1172.7 1343.6 1114.7 1344.1 1121.4 1344.7 1125.2 1345.2 1131.7 1345.7 1125 1346.3 1139.3 1346.8 1169.4 1347.3 1155.3 1347.9 1104 1348.4 1077.9 1348.9 1149.6 1349.5 1099 1350 1080.5 1350.5 1106.8 1351.1 1033.2 1351.6 1094.1 1352.1 1109.4 1352.7 1130 1353.2 1086 1353.7 1031.1 1354.3 1090.9 1354.8 1141.3 1355.3 1114.8 1355.9 1109.9 1356.4 1137.6 1356.9 1116.6 1357.5 1111 1358 1074.1 1358.5 1138.7 1359.1 1159.4 1359.6 1195 1360.1 1148.6 1360.7 1108.8 1361.2 1109.2 1361.8 997.3 1362.3 1064 1362.8 1155 1363.4 1160 1363.9 1094.4 1364.4 1073.2 1365 1082.6 1365.5 1128.2 1366 1116 1366.6 1122.1 1367.1 1136.5 1367.6 1089.4 1368.2 1155.3 1368.7 1066.4 1369.2 1186.5 1369.8 1113.9 1370.3 1103.1 1370.8 1241.2 1371.4 1068.6 1371.9 1090.8 1372.4 1123.9 1373 1130.4 1373.5 1111.4 1374 1129.3 1374.6 1117.4 1375.1 1167.5 1375.6 1096 1376.2 1096.8 1376.7 1153.4 1377.2 1150.7 1377.8 1147.9 1378.3 1158 1378.8 1186.6 1379.4 1142.3 1379.9 1244.2 1380.4 1126.6 1381 1194.5 1381.5 1138.8 1382 1116.6 1382.6 1209.8 1383.1 1212.7 1383.6 1086.3 1384.2 1138.4 1384.7 1161.8 1385.2 1177.8 1385.8 1093.4 1386.3 1108.5 1386.8 1165.4 1387.4 1179.9 1387.9 1135.5 1388.4 1104.8 1389 1192.7 1389.5 1121.9 1390.1 1121.5 1390.6 1198.1 1391.1 1142.1 1391.7 1161.1 1392.2 1202.7 1392.7 1134.4 1393.3 1205.2 1393.8 1225.5 1394.3 1263.5 1394.9 1228.8 1395.4 1212.6 1395.9 1179.7 1396.5 1223.2 1397 1181.7 1397.5 1209.1 1398.1 1155.9 1398.6 1156 1399.1 1262.1 1399.7 1235.4 1400.2 1192.6 1400.7 1118.3 1401.3 1175.4 1401.8 1066.5 1402.3 1113.8 1402.9 1159.3 1403.4 1123.6 1403.9 1092.4 1404.5 1130.6 1405 1031 1405.5 1143 1406.1 1171.4 1406.6 1142.4 1407.1 1131.7 1407.7 1122.6 1408.2 1139.6 1408.7 1147.1 1409.3 1080.3 1409.8 1153.6 1410.3 1142.3 1410.9 1120.5 1411.4 1213.7 1411.9 1117.4 1412.5 1110.5 1413 1115.9 1413.5 1042.2 1414.1 1093.3 1414.6 1152.7 1415.1 1108.7 1415.7 1156.7 1416.2 1170.6 1416.7 1073.3 1417.3 1089.6 1417.8 1134.3 1418.4 1066.7 1418.9 1146.8 1419.4 1225 1420 1168.7 1420.5 1099.9 1421 1146.4 1421.6 1178.6 1422.1 1195.7 1422.6 1239.2 1423.2 1173.2 1423.7 1168.1 1424.2 1120.5 1424.8 1205.5 1425.3 1121.8 1425.8 1134.3 1426.4 1203.3 1426.9 1129.6 1427.4 1040 1428 1131.9 1428.5 1224.4 1429 1266.9 1429.6 1164.4 1430.1 1121.9 1430.6 1177.3 1431.2 1166.6 1431.7 1312.1 1432.2 1136.5 1432.8 1270.7 1433.3 1186.4 1433.8 1150.2 1434.4 1172.3 1434.9 1177.7 1435.4 1164.5 1436 1142.3 1436.5 1208.2 1437 1186.2 1437.6 1240.7 1438.1 1117.6 1438.6 1188.5 1439.2 1083.9 1439.7 1151.2 1440.2 1286 1440.8 1168.4 1441.3 1235 1441.8 1162.6 1442.4 1134.8 1442.9 1166.5 1443.4 1133.5 1444 1067.3 1444.5 1097.8 1445 1131 1445.6 1110 1446.1 1073.7 1446.7 1048.1 1447.2 1082.8 1447.7 998.2 1448.3 1108.8 1448.8 1172.5 1449.3 1085.2 1449.9 1073.9 1450.4 1234.8 1450.9 1083.2 1451.5 1097.9 1452 1373.8 1452.5 1117.2 1453.1 1121.2 1453.6 1054.6 1454.1 1177.2 1454.7 1081.4 1455.2 1107.8 1455.7 1110.1 1456.3 1106.4 1456.8 1131.3 1457.3 1250.2 1457.9 1152.3 1458.4 1173.7 1458.9 1101.2 1459.5 1115.3 1460 1054 1460.5 1119.3 1461.1 1172.3 1461.6 1130.2 1462.1 1122.1 1462.7 1134.5 1463.2 1098.3 1463.7 1184.6 1464.3 1157.1 1464.8 1134.7 1465.3 1129.6 1465.9 1134.1 1466.4 1141.7 1466.9 1047.1 1467.5 1079.9 1468 1015.1 1468.5 944 1469.1 1064.2 1469.6 1099.2 1470.1 1115.5 1470.7 1085 1471.2 1105.9 1471.7 1156.2 1472.3 1117.6 1472.8 1191.8 1473.3 1123.1 1473.9 1392.5 1474.4 1132.2 1475 1074.7 1475.5 1112.5 1476 1204.2 1476.6 1285.4 1477.1 1165.9 1477.6 979.8 1478.2 1179.6 1478.7 1193.6 1479.2 1173.2 1479.8 1093.3 1480.3 1162 1480.8 1150.3 1481.4 1096.1 1481.9 1205.9 1482.4 1079.6 1483 1148.4 1483.5 1036.5 1484 1076.2 1484.6 1089.8 1485.1 1120 1485.6 1096.4 1486.2 1130.6 1486.7 1150.1 1487.2 1036.4 1487.8 1156.7 1488.3 1154.2 1488.8 1127.1 1489.4 1168.2 1489.9 1173.2 1490.4 1137.4 1491 1179.8 1491.5 1214.8 1492 1138 1492.6 1299.5 1493.1 1088.4 1493.6 1076.2 1494.2 1124.8 1494.7 1116 1495.2 1156.8 1495.8 1179.6 1496.3 1088.1 1496.8 1096.4 1497.4 1171.1 1497.9 1210.4 1498.4 1297.9 1499 1159.7 1499.5 1177.2 1500 1125.3 1500.6 1172.2 1501.1 1199.5 1501.6 1188.8 1502.2 1073.1 1502.7 1210.9 1503.2 1164.1 1503.8 1147.8 1504.3 1157.4 1504.9 1156.8 1505.4 1162.8 1505.9 1111.5 1506.5 1121.5 1507 1132.6 1507.5 1117 1508.1 1216.6 1508.6 1153.7 1509.1 1219.7 1509.7 1133.4 1510.2 1450 1510.7 1116.6 1511.3 1163.1 1511.8 1142.8 1512.3 1162.6 1512.9 1154.3 1513.4 1169.2 1513.9 1198.4 1514.5 1155.4 1515 1147 1515.5 1010.4 1516.1 1164.6 1516.6 1199.5 1517.1 1191.4 1517.7 1193.1 1518.2 1223.9 1518.7 1215.4 1519.3 1239.9 1519.8 1165.2 1520.3 1221.2 1520.9 1195 1521.4 1127 1521.9 1130.1 1522.5 1146.6 1523 1158.5 1523.5 1231.3 1524.1 1307 1524.6 1214 1525.1 1103.7 1525.7 1177.8 1526.2 1186.7 1526.7 1248.8 1527.3 1139.8 1527.8 1183.8 1528.3 1143.5 1528.9 1209.2 1529.4 1211.1 1529.9 1178.8 1530.5 1206.8 1531 1147.4 1531.5 1150.9 1532.1 1157.5 1532.6 1145.2 1533.2 1056.1 1533.7 1118.1 1534.2 1087.6 1534.8 1320.3 1535.3 1087.6 1535.8 1030 1536.4 1122.9 1536.9 1116.7 1537.4 1107.4 1538 1147.7 1538.5 1090.9 1539 1081.8 1539.6 1107.7 1540.1 1155.1 1540.6 1051.6 1541.2 1151.7 1541.7 1111.1 1542.2 1089.4 1542.8 1090 1543.3 957.7 1543.8 1046.4 1544.4 1106.3 1544.9 1098.9 1545.4 1049.9 1546 1153.2 1546.5 1061.5 1547 1122.3 1547.6 1123.2 1548.1 1063.2 1548.6 1122 1549.2 1107.5 1549.7 1091.9 1550.2 974.2 1550.8 1097.6 1551.3 1081.9 1551.8 1126 1552.4 1057.8 1552.9 1144.5 1553.4 1061.7 1554 1100.2 1554.5 1044.6 1555 1085.9 1555.6 1140 1556.1 1012.3 1556.6 1069 1557.2 1116.1 1557.7 1126.9 1558.2 1131.3 1558.8 1074.2 1559.3 1065.3 1559.8 1158.4 1560.4 1091.3 1560.9 1063.6 1561.5 1078.2 1562 1090.3 1562.5 1139.9 1563.1 1074.1 1563.6 1066.7 1564.1 1094.4 1564.7 1128.8 1565.2 1096.1 1565.7 1093.5 1566.3 1063.4 1566.8 1100 1567.3 1133.1 1567.9 1107.1 1568.4 1112.1 1568.9 1055.5 1569.5 1086.5 1570 1050.5 1570.5 1059.1 1571.1 1093.3 1571.6 1081.8 1572.1 1112.2 1572.7 1104.8 1573.2 1078.8 1573.7 1097 1574.3 1028.5 1574.8 1025.8 1575.3 1083.1 1575.9 1082.3 1576.4 1073 1576.9 1070.7 1577.5 1084.6 1578 1101 1578.5 1058.6 1579.1 1116.1 1579.6 1139.7 1580.1 1021.1 1580.7 1029.1 1581.2 1074.7 1581.7 1080 1582.3 1049.4 1582.8 981.5 1583.3 1065.3 1583.9 1073.8 1584.4 1100.2 1584.9 1119.5 1585.5 1027.3 1586 1061 1586.5 1013.1 1587.1 1096.3 1587.6 1178.4 1588.1 1108.9 1588.7 1151.1 1589.2 1053.4 1589.8 1087.2 1590.3 1095.7 1590.8 1122.7 1591.4 1062.2 1591.9 1085.7 1592.4 1049.8 1593 1038.2 1593.5 1058.9 1594 1058.7 1594.6 1107.6 1595.1 1088.3 1595.6 1068.7 1596.2 1042.2 1596.7 993.9 1597.2 1044.1 1597.8 1037.9 1598.3 1076.3 1598.8 1044.3 1599.4 1065.4 1599.9 1077.9 1600.4 1103.8 1601 1029.2 1601.5 1074.2 1602 1066.3 1602.6 1042 1603.1 1099.7 1603.6 1013.5 1604.2 1030 1604.7 1044.7 1605.2 1070.5 1605.8 1046.7 1606.3 1032 1606.8 1001 1607.4 1128.6 1607.9 1047.3 1608.4 1064.5 1609 905.9 1609.5 1089.2 1610 1021.7 1610.6 1061.1 1611.1 1069.9 1611.6 1023.9 1612.2 1071 1612.7 1152.5 1613.2 1082.8 1613.8 1114.9 1614.3 1111.1 1614.8 1111.5 1615.4 1187.4 1615.9 1061.8 1616.4 1115.2 1617 1118 1617.5 1037.7 1618 1158.8 1618.6 1069.3 1619.1 884.5 1619.7 1123.8 1620.2 1109.5 1620.7 1025.5 1621.3 1175.1 1621.8 1045.7 1622.3 1109.4 1622.9 1109.8 1623.4 1061.8 1623.9 1238.4 1624.5 1083.4 1625 1062.9 1625.5 1069.7 1626.1 1092.3 1626.6 1071.5 1627.1 1068 1627.7 1087.2 1628.2 1106.2 1628.7 1165.8 1629.3 1086 1629.8 1035.1 1630.3 1131.5 1630.9 1087.5 1631.4 1043.4 1631.9 1058.8 1632.5 1151.3 1633 1146.7 1633.5 1070.6 1634.1 1109.6 1634.6 1094.4 1635.1 1067.9 1635.7 1003.9 1636.2 1027.8 1636.7 1102.7 1637.3 1082.3 1637.8 1047.3 1638.3 1061.2 1638.9 1047.6 1639.4 1113.8 1639.9 1056.3 1640.5 1048.4 1641 1004.7 1641.5 1071.7 1642.1 1096.5 1642.6 1116.7 1643.1 1101.6 1643.7 1066.7 1644.2 1156.4 1644.7 1012.2 1645.3 998.4 1645.8 1119 1646.3 1087.9 1646.9 1028.3 1647.4 1028.7 1648 1093.5 1648.5 1019 1649 1099.7 1649.6 1079.4 1650.1 946 1650.6 1034.9 1651.2 1049.7 1651.7 971.9 1652.2 1078.7 1652.8 1083 1653.3 1029.9 1653.8 1057.2 1654.4 1055.3 1654.9 1033.1 1655.4 1008.4 1656 1064.6 1656.5 1062.7 1657 1079.3 1657.6 995 1658.1 1077.8 1658.6 1042.6 1659.2 976.6 1659.7 1059.2 1660.2 1006.8 1660.8 1080.5 1661.3 1078 1661.8 1092 1662.4 1136.9 1662.9 1179.3 1663.4 974.5 1664 1063.2 1664.5 1090.9 1665 1108.9 1665.6 1198.9 1666.1 1068.7 1666.6 1111.1 1667.2 1066.1 1667.7 1011.4 1668.2 1254.1 1668.8 1003.4 1669.3 1122.6 1669.8 1141.4 1670.4 1087 1670.9 1039.9 1671.4 1093.4 1672 1111.9 1672.5 1113 1673 1069.3 1673.6 1069 1674.1 1047.9 1674.6 1095.6 1675.2 1073.5 1675.7 1079.2 1676.3 1096.3 1676.8 1128.5 1677.3 1095.3 1677.9 1119 1678.4 1129.6 1678.9 1082.3 1679.5 1089.7 1680 1161.2 1680.5 1150.7 1681.1 1156.8 1681.6 1142.5 1682.1 1141.5 1682.7 1107.3 1683.2 986.2 1683.7 1113.2 1684.3 1087 1684.8 1098.9 1685.3 1100.4 1685.9 1059.9 1686.4 1081.1 1686.9 1051.7 1687.5 1024.9 1688 1059.2 1688.5 1206.4 1689.1 1098.5 1689.6 1018.5 1690.1 1152.3 1690.7 1243.2 1691.2 1071.3 1691.7 1054.8 1692.3 1099.6 1692.8 1100.3 1693.3 1045.5 1693.9 1097.1 1694.4 1168.7 1694.9 1131.3 1695.5 1093.5 1696 1098.5 1696.5 1073 1697.1 986.2 1697.6 1088.9 1698.1 1266.9 1698.7 1075.3 1699.2 1121.1 1699.7 1086.8 1700.3 1003.8 1700.8 1077.7 1701.3 1178.6 1701.9 1093.7 1702.4 1136 1702.9 1162.8 1703.5 1106.4 1704 1076.7 1704.6 1126.9 1705.1 1210.6 1705.6 1134.2 1706.2 1195.3 1706.7 1122.9 1707.2 1093 1707.8 1218.1 1708.3 1078.9 1708.8 1059.1 1709.4 1086.4 1709.9 1109.5 1710.4 1082.1 1711 1084.8 1711.5 1098.2 1712 1065 1712.6 1184 1713.1 1090.7 1713.6 1260.7 1714.2 1175.6 1714.7 1176.4 1715.2 1085.4 1715.8 1127.5 1716.3 1048.5 1716.8 1126.7 1717.4 1092.6 1717.9 1136.3 1718.4 1109.8 1719 1137.4 1719.5 1116.7 1720 1146.7 1720.6 1100.4 1721.1 1070.2 1721.6 1175.1 1722.2 1178.7 1722.7 1178.5 1723.2 1135.2 1723.8 1054.9 1724.3 1059.6 1724.8 1117.3 1725.4 1098.3 1725.9 1116.3 1726.4 1084.3 1727 1092.2 1727.5 1268.9 1728 1048.9 1728.6 1058.9 1729.1 1083.4 1729.6 1169.1 1730.2 1084.3 1730.7 1050.5 1731.2 1061.8 1731.8 932.6 1732.3 1102.3 1732.8 1047.7 1733.4 1077.2 1733.9 1137.9 1734.5 1064.7 1735 1102.6 1735.5 1110.8 1736.1 1105.8 1736.6 1147 1737.1 1114.7 1737.7 1109.2 1738.2 1035.2 1738.7 1074.3 1739.3 1122.4 1739.8 1050.9 1740.3 1122.8 1740.9 1096.5 1741.4 1084 1741.9 1142.6 1742.5 1103.3 1743 1146.5 1743.5 1153.7 1744.1 1081.7 1744.6 1031.6 1745.1 1061.9 1745.7 1195.4 1746.2 1041.4 1746.7 1143.5 1747.3 1136.2 1747.8 913.9 1748.3 1133.6 1748.9 1268.8 1749.4 1130 1749.9 1092.5 1750.5 1128.5 1751 1145.2 1751.5 1132.3 1752.1 1165.2 1752.6 1117.1 1753.1 1177.8 1753.7 1126.7 1754.2 1091.8 1754.7 1116.5 1755.3 1237.1 1755.8 1085.8 1756.3 1185.4 1756.9 1088.8 1757.4 1108.7 1757.9 1092.8 1758.5 1154.4 1759 1165.2 1759.5 1128.7 1760.1 1146.2 1760.6 1107.1 1761.1 1165.7 1761.7 1108 1762.2 1123.7 1762.8 1285.6 1763.3 1096.4 1763.8 1107.8 1764.4 1164.9 1764.9 1121.9 1765.4 1138.4 1766 1043.9 1766.5 1110.4 1767 1052.2 1767.6 1065.5 1768.1 1090.7 1768.6 1115.8 1769.2 1049.1 1769.7 1064.7 1770.2 1086.5 1770.8 1121.8 1771.3 1074.4 1771.8 1088.1 1772.4 1092.8 1772.9 1115.4 1773.4 1138.2 1774 1059.7 1774.5 1153.7 1775 1125.4 1775.6 1183.2 1776.1 1111.6 1776.6 1124.8 1777.2 1076.3 1777.7 1069.1 1778.2 985.6 1778.8 996.8 1779.3 1119.4 1779.8 1130.3 1780.4 1104.6 1780.9 1096.4 1781.4 1036.5 1782 1046.3 1782.5 1140 1783 1092.6 1783.6 1079.3 1784.1 1142.2 1784.6 1062.7 1785.2 1170.4 1785.7 1127 1786.2 1181.5 1786.8 1113.8 1787.3 1101.6 1787.8 1110.7 1788.4 1113.6 1788.9 1103.4 1789.4 1156.3 1790 1131.2 1790.5 1078.3 1791.1 1125 1791.6 1069.1 1792.1 1138.6 1792.7 1143.1 1793.2 1185.8 1793.7 1026.8 1794.3 1188.4 1794.8 1111 1795.3 1120.8 1795.9 1188.8 1796.4 1137.8 1796.9 1150.7 1797.5 1150.4 1798 1087.6 1798.5 1044.3 1799.1 1130.8 1799.6 1118.1 1800.1 1154.9 1800.7 1105.7 1801.2 1123.9 1801.7 1127.3 1802.3 1120.5 1802.8 1081.7 1803.3 1150.7 1803.9 1122.8 1804.4 1121.2 1804.9 1204.4 1805.5 1186.7 1806 1161.3 1806.5 1234.5 1807.1 1166.4 1807.6 1184.1 1808.1 1096.8 1808.7 1226.3 1809.2 1225.9 1809.7 1159.1 1810.3 1188.1 1810.8 1172 1811.3 1167.9 1811.9 1158.4 1812.4 1143.2 1812.9 1171 1813.5 1132.6 1814 1156.6 1814.5 1151.4 1815.1 1144.6 1815.6 1204.2 1816.1 1114.2 1816.7 1155.9 1817.2 1140.7 1817.7 1142.4 1818.3 1182.8 1818.8 1140.4 1819.4 1171.6 1819.9 1290.9 1820.4 1151.1 1821 1026.5 1821.5 1119.8 1822 1186 1822.6 1097.7 1823.1 1110.2 1823.6 1138.4 1824.2 1149 1824.7 1116.9 1825.2 1107.2 1825.8 1175.3 1826.3 1089.3 1826.8 1125 1827.4 1160.1 1827.9 1117.8 1828.4 1094.8 1829 1114.5 1829.5 1123.6 1830 1121.7 1830.6 1091.4 1831.1 1164.2 1831.6 1065.4 1832.2 1139.4 1832.7 1148.2 1833.2 1148.3 1833.8 1180.7 1834.3 1104.2 1834.8 1149.7 1835.4 1130.1 1835.9 1092.4 1836.4 1109.7 1837 1076.8 1837.5 1164.6 1838 1129.5 1838.6 1092.7 1839.1 1136.3 1839.6 1145 1840.2 1170 1840.7 1123.9 1841.2 1163.1 1841.8 1136 1842.3 1237.4 1842.8 1130.6 1843.4 1136.6 1843.9 1144.5 1844.4 1113.7 1845 1102.6 1845.5 1148.5 1846 1105.4 1846.6 1199 1847.1 1079.2 1847.6 1211.7 1848.2 1140 1848.7 1105.5 1849.3 1109.1 1849.8 1077.8 1850.3 1037.8 1850.9 1131.2 1851.4 1164.9 1851.9 1110.5 1852.5 1125.5 1853 1124.8 1853.5 1057.2 1854.1 1136.3 1854.6 1093.2 1855.1 1107.8 1855.7 1103.8 1856.2 1141.9 1856.7 1109.7 1857.3 1127.5 1857.8 1100.1 1858.3 1116 1858.9 1073.7 1859.4 1122.1 1859.9 1161.7 1860.5 1115.9 1861 1116.9 1861.5 1120.1 1862.1 1080.2 1862.6 1181.4 1863.1 1133 1863.7 1193.8 1864.2 1142.3 1864.7 1113.9 1865.3 1145.5 1865.8 1099.2 1866.3 1143.3 1866.9 1101 1867.4 1158.5 1867.9 1081.8 1868.5 1110.1 1869 1037.9 1869.5 1147.9 1870.1 1117.2 1870.6 1140 1871.1 1030.5 1871.7 1149.9 1872.2 1307 1872.7 1053.1 1873.3 1078.4 1873.8 1102.6 1874.3 1125.8 1874.9 1134.3 1875.4 1111.2 1875.9 1108.2 1876.5 1084.8 1877 1108.6 1877.6 1163.8 1878.1 1098.6 1878.6 1124.2 1879.2 1136.8 1879.7 1130.4 1880.2 1145.7 1880.8 1087.5 1881.3 1100.9 1881.8 1101.8 1882.4 1160.3 1882.9 1078.7 1883.4 1202.8 1884 1105.1 1884.5 1132.5 1885 1077.8 1885.6 1158.2 1886.1 1138.3 1886.6 1133.2 1887.2 1124.8 1887.7 1133.9 1888.2 1103.2 1888.8 1098.4 1889.3 1010.8 1889.8 1085.3 1890.4 1117.8 1890.9 1100.4 1891.4 1112.7 1892 1082.2 1892.5 1047.3 1893 1050.9 1893.6 1125.4 1894.1 1126.8 1894.6 1109.8 1895.2 1090.9 1895.7 1160.8 1896.2 1223.3 1896.8 1104.6 1897.3 1089.4 1897.8 1005.3 1898.4 1129.3 1898.9 1124.5 1899.4 1170.4 1900 1114.4 1900.5 1070.7 1901 1032.4 1901.6 1074.4 1902.1 1094.2 1902.6 1135.5 1903.2 1096.9 1903.7 1093.4 1904.2 1093.5 1904.8 1041.7 1905.3 1104.6 1905.9 1085.1 1906.4 1032.5 1906.9 1112.7 1907.5 1120.7 1908 1104.6 1908.5 1118.8 1909.1 1088.6 1909.6 1099.8 1910.1 1007.2 1910.7 999.2 1911.2 1081.1 1911.7 1075.4 1912.3 1079.1 1912.8 1042.8 1913.3 1073 1913.9 1092.9 1914.4 1142.5 1914.9 1091.8 1915.5 1127 1916 1040.9 1916.5 1098.7 1917.1 1035.8 1917.6 1145 1918.1 1098.9 1918.7 1078.1 1919.2 1098.7 1919.7 1070.3 1920.3 1054.1 1920.8 1087.2 1921.3 1041.4 1921.9 1062.5 1922.4 1080.5 1922.9 1103.3 1923.5 1030 1924 1086.3 1924.5 1012.9 1925.1 1081 1925.6 1126.6 1926.1 1011.5 1926.7 1077.8 1927.2 1325.7 1927.7 1070.1 1928.3 1066.4 1928.8 1064 1929.3 1031.2 1929.9 1077 1930.4 1083.4 1930.9 1088.3 1931.5 1110.6 1932 1050.5 1932.5 1037.3 1933.1 1070.9 1933.6 1075.6 1934.2 1038.3 1934.7 1062 1935.2 1012.5 1935.8 975.3 1936.3 1042.5 1936.8 1061.9 1937.4 1061.7 1937.9 1062.3 1938.4 1017 1939 1016.5 1939.5 1072.2 1940 1027.8 1940.6 1048.7 1941.1 1085.2 1941.6 1091.4 1942.2 1116.6 1942.7 1062.3 1943.2 1101.7 1943.8 1058.7 1944.3 1043.4 1944.8 1043.3 1945.4 1076.4 1945.9 1080.7 1946.4 1174.4 1947 1090 1947.5 1067.7 1948 1068.1 1948.6 1104.5 1949.1 1121.9 1949.6 1131.5 1950.2 1114.5 1950.7 1020.3 1951.2 1032.2 1951.8 1147.5 1952.3 1118.7 1952.8 1186.3 1953.4 1034.3 1953.9 1128.2 1954.4 1129.2 1955 1085.9 1955.5 1115.3 1956 1112 1956.6 1005.1 1957.1 1077.2 1957.6 1155.7 1958.2 1095.5 1958.7 1095.9 1959.2 1192.2 1959.8 1123.7 1960.3 1115.6 1960.8 1180.7 1961.4 1097.1 1961.9 1048.7 1962.5 1062.3 1963 1085.6 1963.5 1203.3 1964.1 1090.2 1964.6 992.2 1965.1 1083.7 1965.7 1051.8 1966.2 1110.5 1966.7 1119.9 1967.3 1116.4 1967.8 1056.3 1968.3 1143.1 1968.9 1081.2 1969.4 1221.6 1969.9 1065.4 1970.5 1092.7 1971 1132.8 1971.5 1055.1 1972.1 1004.8 1972.6 1058.9 1973.1 1085.1 1973.7 1081.6 1974.2 1106 1974.7 1105.3 1975.3 1043.4 1975.8 1021.8 1976.3 1025.8 1976.9 1016 1977.4 1046.4 1977.9 965.7 1978.5 992.2 1979 1028 1979.5 1040.2 1980.1 1063 1980.6 914.3 1981.1 1028.4 1981.7 1101.5 1982.2 1022.4 1982.7 1099.1 1983.3 1057.9 1983.8 1065.8 1984.3 1051.3 1984.9 1071.9 1985.4 1031.9 1985.9 1118.7 1986.5 969.8 1987 1045.9 1987.5 1088.1 1988.1 1045.2 1988.6 1072.9 1989.1 1032.6 1989.7 1037.6 1990.2 1104.6 1990.7 1116.5 1991.3 1096.8 1991.8 1122.2 1992.4 1041.7 1992.9 1003.2 1993.4 1057.5 1994 1026.8 1994.5 1008.1 1995 983.8 1995.6 1007.1 1996.1 932.6 1996.6 1064.3 1997.2 1008.5 1997.7 1008.2 1998.2 994.9 1998.8 1016.6 1999.3 1030.5 1999.8 1084.6 2000.4 991.6 2000.9 1014.8 2001.4 981.7 2002 932.6 2002.5 1081.4 2003 1042.9 2003.6 1028.3 2004.1 1032.9 2004.6 996.4 2005.2 1050.2 2005.7 970.6 2006.2 1087.7 2006.8 1093.2 2007.3 1065.7 2007.8 1001.8 2008.4 1082.3 2008.9 1036.5 2009.4 1018.8 2010 1024.1 2010.5 1003.3 2011 947.1 2011.6 993.1 2012.1 1046.2 2012.6 1016 2013.2 1023.2 2013.7 961.8 2014.2 1029.4 2014.8 943.3 2015.3 955.6 2015.8 1007.3 2016.4 1144.1 2016.9 1076.8 2017.4 1152.8 2018 1085.7 2018.5 1060.6 2019 1027.8 2019.6 1073.7 2020.1 1225.4 2020.7 1132.2 2021.2 1038.5 2021.7 1113 2022.3 1127.8 2022.8 1109.2 2023.3 1130.1 2023.9 1134.2 2024.4 1064.8 2024.9 1161.3 2025.5 1139.2 2026 1088.3 2026.5 1101 2027.1 1004.8 2027.6 1107.1 2028.1 1065.1 2028.7 1149.7 2029.2 1178.6 2029.7 1038.9 2030.3 1086.7 2030.8 1049.1 2031.3 1093.4 2031.9 1140.3 2032.4 1064.7 2032.9 1078.4 2033.5 1108.8 2034 1125.2 2034.5 1107.7 2035.1 1123.6 2035.6 965.2 2036.1 1116.6 2036.7 1086.8 2037.2 1124.2 2037.7 1148.7 2038.3 1058.5 2038.8 1052.8 2039.3 1058.4 2039.9 1117.1 2040.4 1120.7 2040.9 1062.7 2041.5 1086.1 2042 1080 2042.5 1095.1 2043.1 1082.4 2043.6 1070 2044.1 1089.6 2044.7 1139.7 2045.2 1119.8 2045.7 1104.5 2046.3 1003.7 2046.8 1132.8 2047.3 1116.7 2047.9 966.1 2048.4 1166.2 2049 1114.9 2049.5 1170.9 2050 1061.9 2050.6 1129.4 2051.1 1098.5 2051.6 1090.3" stroke="#0072BD" stroke-width="2.4" stroke-linejoin="round" fill="none"/></g>
<g clip-path="url(#clipC)"><path d="M251 2253.7h0" stroke="#289a49" stroke-width="6.6" stroke-linecap="round"/><path d="M361.6 2196.8h0" stroke="#0d9961" stroke-width="6.6" stroke-linecap="round"/><path d="M377.7 2127.6h0M538.2 2131.8h0M274.5 2254.3h0" stroke="#0d9a7c" stroke-width="6.6" stroke-linecap="round"/><path d="M337.3 1926.6h0M613.6 1938.7h0M562.9 1875.3h0M620.8 2122.7h0M600.9 1802.9h0M663.1 2022h0M546 1855.4h0M684.8 2043.1h0M656.4 1935.7h0M701.1 1729.3h0M499 1922.4h0M534.6 1966.5h0M563.5 1879h0M526.1 1844h0M395.8 1943.5h0M607 1869.9h0M632.3 1875.9h0M699.9 2085.3h0M332.4 1768.5h0M432.6 1923h0M740.9 1973.7h0M746.3 1914.6h0M716.2 2093.8h0" stroke="#3c87cf" stroke-width="6.6" stroke-linecap="round"/><path d="M348.8 2203.7h0M334.9 2212.4h0M369 2201h0" stroke="#149955" stroke-width="6.6" stroke-linecap="round"/><path d="M326.4 2269.4h0M249.2 2273.6h0M233.5 2206.6h0M217.2 2272.4h0" stroke="#1d994d" stroke-width="6.6" stroke-linecap="round"/><path d="M371.6 2198.2h0M362.1 2195.3h0" stroke="#0b996e" stroke-width="6.6" stroke-linecap="round"/><path d="M537.6 1737.8h0M728.2 1847h0M644.4 1921.8h0M645.6 2111.9h0M559.3 2178.3h0M638.3 1792.7h0M372.3 1832.5h0M488.7 1818.6h0M565.3 2177.1h0M644.4 1813.2h0M616 1856h0M800.7 2044.3h0M664.3 2077.5h0M648.6 1937.5h0M697.5 2032.2h0M652.8 1923.6h0M640.8 1757.7h0M494.7 1697.3h0" stroke="#338aca" stroke-width="6.6" stroke-linecap="round"/><path d="M629.9 1775.2h0M520.1 2136h0M627.5 1770.3h0M603.3 2047.3h0M613 1950.8h0M483.3 2124h0M697.5 1830.7h0" stroke="#248eba" stroke-width="6.6" stroke-linecap="round"/><path d="M474.8 2008.7h0M380.1 2109.5h0M802.5 1875.3h0M447.7 2104.6h0" stroke="#119894" stroke-width="6.6" stroke-linecap="round"/><path d="M584.6 1854.2h0M614.2 1886.2h0M643.2 1877.2h0" stroke="#6776bb" stroke-width="6.6" stroke-linecap="round"/><path d="M708.9 2038.9h0M602.7 1987h0M641.4 1935.1h0" stroke="#5680c7" stroke-width="6.6" stroke-linecap="round"/><path d="M731.3 1915.8h0M504.4 1884.4h0M640.8 2178.9h0M764.4 2059.4h0M378.3 1907.9h0M480.3 2186.7h0M620.8 1912.8h0M590.7 2184.3h0M567.7 1853.6h0M640.2 1993h0M796.4 1915.8h0M426 1914.6h0M439.8 1792.7h0M582.2 1903.7h0M641.4 2058.2h0M475.4 1943.5h0M651 2205.4h0" stroke="#4a84cc" stroke-width="6.6" stroke-linecap="round"/><path d="M370.4 2020.2h0M298.3 2226.1h0M336.7 2215.9h0M318.2 2217.8h0M299.8 2221.3h0M290.7 2227.5h0M333.9 2218.2h0M357.3 2211.5h0M302.8 2228.8h0M328.3 2220.7h0M354.2 2217.1h0M326.7 2217.6h0M328.2 2219.4h0M357.2 2111.9h0M349.5 2206.1h0M339.7 2012.9h0M342.1 2060.6h0M342.7 2067.8h0M281.7 2223.7h0" stroke="#6b72b8" stroke-width="6.6" stroke-linecap="round"/><path d="M319.1 2224.2h0M270.4 2221.5h0M369.2 2166.8h0M359.6 2122.7h0M377.7 2122.7h0M340.9 2137.2h0M264.7 2230.8h0M345.9 2200h0M211.2 2237.4h0M216 2235h0M316.5 2212.6h0M324.6 2218.2h0M288.6 2224.1h0M341.9 2202.6h0M272.7 2250.7h0M240.1 2229.6h0M348.7 2011.1h0M323.2 2216.7h0M323.9 2220.5h0M277.4 2222h0M459.1 1965.9h0M319.9 2223.3h0M347.3 2213.7h0M325.3 2218.1h0M208.7 2261.5h0" stroke="#7469b3" stroke-width="6.6" stroke-linecap="round"/><path d="M261.8 2187.3h0M274.5 2190.3h0M231.1 2247.7h0" stroke="#379b46" stroke-width="6.6" stroke-linecap="round"/><path d="M655.2 1834.3h0M566.5 1987h0M555.7 2166.8h0M639.6 1798.1h0M695.7 1822.2h0" stroke="#1d90b3" stroke-width="6.6" stroke-linecap="round"/><path d="M780.1 1883.2h0M593.1 2029.8h0M343.3 2194h0M444.1 2152.9h0M498.4 2028h0M331.2 2192.1h0M483.9 2095.6h0M529.1 2140.2h0M788 1865.1h0M269.7 2227.1h0M622.7 1977.9h0M568.4 2073.3h0M438 2171h0M446.5 2158.4h0" stroke="#0e9985" stroke-width="6.6" stroke-linecap="round"/><path d="M579.2 2086.5h0M437.4 2090.2h0M704.1 1855.4h0M710.7 1859.7h0M504.4 2113.7h0M573.8 2078.1h0M321.8 2217.9h0M579.8 2108.9h0M629.9 1997.2h0M511 2035.9h0M514 2006.9h0M398.2 2171h0M461 2139.6h0M533.4 2117.3h0M629.9 2110.7h0M621.4 1970.7h0M524.9 2140.9h0M474.2 2089h0M603.3 2022.6h0M758.4 1860.3h0M346.9 2199.4h0M619 1996.6h0" stroke="#10988d" stroke-width="6.6" stroke-linecap="round"/><path d="M693.9 2017.8h0M564.1 2160.8h0M625.1 2218.1h0M642 2104.6h0M523.1 2134.8h0M520.7 2102.8h0M510.4 2073.9h0M575 2021.4h0M468.8 1904.3h0M626.9 1935.7h0" stroke="#1a92ab" stroke-width="6.6" stroke-linecap="round"/><path d="M451.3 1910.9h0M538.8 1926.6h0M727 1973.7h0M631.1 2181.9h0M383.7 1912.8h0M524.3 1927.2h0" stroke="#2b8cc2" stroke-width="6.6" stroke-linecap="round"/><path d="M585.2 1780.6h0M670.9 1888h0" stroke="#607bc0" stroke-width="6.6" stroke-linecap="round"/><path d="M283.2 2221.6h0M310.2 2217.3h0M352.3 2195.2h0M363.2 2033.4h0M369.2 2140.9h0M347.5 2026.2h0M316.9 2214.3h0M392.8 1988.2h0M383.7 2193.3h0M341.2 2214.5h0M359.6 2168.6h0M305 2220.8h0M359.9 2202.9h0M336.4 2216.1h0M353.5 2204.7h0M384.9 1999h0M352.8 2205.5h0M268.8 2235h0M410.9 2139h0M341.2 2211.7h0M284.5 2227.9h0M284.2 2251.3h0" stroke="#706db6" stroke-width="6.6" stroke-linecap="round"/><path d="M205 2274.2L200.5 2277.4L197.3 2272.9L201.8 2269.7ZM221.3 2262.6L216.8 2265.8L213.6 2261.3L218.1 2258.1ZM237.6 2251L233.1 2254.2L229.9 2249.7L234.4 2246.5ZM253.9 2239.4L249.4 2242.6L246.2 2238.1L250.7 2234.9ZM270.2 2227.8L265.7 2231L262.5 2226.5L267 2223.3ZM286.5 2216.2L282 2219.4L278.8 2214.9L283.3 2211.7ZM302.8 2204.6L298.3 2207.8L295.1 2203.3L299.6 2200.1ZM319.1 2193L314.6 2196.2L311.4 2191.7L315.9 2188.6ZM335.4 2181.5L330.9 2184.6L327.7 2180.2L332.2 2177ZM351.7 2169.9L347.2 2173.1L344 2168.6L348.5 2165.4ZM368 2158.3L363.5 2161.5L360.3 2157L364.8 2153.8ZM384.3 2146.7L379.8 2149.9L376.6 2145.4L381.1 2142.2ZM400.6 2135.1L396.1 2138.3L392.9 2133.8L397.4 2130.6ZM416.9 2123.5L412.4 2126.7L409.2 2122.2L413.7 2119ZM433.2 2111.9L428.7 2115.1L425.5 2110.6L430 2107.4ZM449.5 2100.3L445 2103.5L441.8 2099L446.3 2095.8ZM465.8 2088.7L461.3 2091.9L458.1 2087.4L462.6 2084.2ZM482.1 2077.1L477.6 2080.3L474.4 2075.8L478.9 2072.6ZM498.4 2065.5L493.9 2068.7L490.7 2064.2L495.2 2061ZM514.7 2053.9L510.2 2057.1L507 2052.6L511.5 2049.4ZM531 2042.3L526.5 2045.5L523.3 2041L527.8 2037.8ZM547.3 2030.8L542.8 2033.9L539.6 2029.5L544.1 2026.3ZM563.5 2019.2L559.1 2022.4L555.9 2017.9L560.4 2014.7ZM579.8 2007.6L575.4 2010.8L572.2 2006.3L576.6 2003.1ZM596.1 1996L591.6 1999.2L588.5 1994.7L592.9 1991.5ZM612.4 1984.4L607.9 1987.6L604.8 1983.1L609.2 1979.9ZM628.7 1972.8L624.2 1976L621 1971.5L625.5 1968.3ZM645 1961.2L640.5 1964.4L637.3 1959.9L641.8 1956.7ZM661.3 1949.6L656.8 1952.8L653.6 1948.3L658.1 1945.1ZM677.6 1938L673.1 1941.2L669.9 1936.7L674.4 1933.5ZM693.9 1926.4L689.4 1929.6L686.2 1925.1L690.7 1921.9ZM710.2 1914.8L705.7 1918L702.5 1913.5L707 1910.3ZM726.5 1903.2L722 1906.4L718.8 1901.9L723.3 1898.7ZM742.8 1891.6L738.3 1894.8L735.1 1890.3L739.6 1887.1ZM759.1 1880.1L754.6 1883.2L751.4 1878.8L755.9 1875.6ZM775.4 1868.5L770.9 1871.7L767.7 1867.2L772.2 1864ZM791.7 1856.9L787.2 1860.1L784 1855.6L788.5 1852.4ZM808 1845.3L803.5 1848.5L800.3 1844L804.8 1840.8ZM824.3 1833.7L819.8 1836.9L816.6 1832.4L821.1 1829.2ZM840.6 1822.1L836.1 1825.3L832.9 1820.8L837.4 1817.6ZM856.9 1810.5L852.4 1813.7L849.2 1809.2L853.7 1806ZM873.2 1798.9L868.7 1802.1L865.5 1797.6L870 1794.4ZM889.5 1787.3L885 1790.5L881.8 1786L886.3 1782.8ZM905.8 1775.7L901.3 1778.9L898.1 1774.4L902.6 1771.2ZM922.1 1764.1L917.6 1767.3L914.4 1762.8L918.9 1759.6ZM938.4 1752.5L933.9 1755.7L930.7 1751.2L935.2 1748ZM954.7 1740.9L950.2 1744.1L947 1739.6L951.5 1736.4ZM971 1729.3L966.5 1732.5L963.3 1728.1L967.8 1724.9ZM987.3 1717.8L982.8 1721L979.6 1716.5L984.1 1713.3ZM1003.6 1706.2L999.1 1709.4L995.9 1704.9L1000.4 1701.7ZM1019.9 1694.6L1015.4 1697.8L1012.2 1693.3L1016.7 1690.1ZM1036.2 1683L1031.7 1686.2L1028.5 1681.7L1033 1678.5Z" fill="#1a1a1a"/><path d="M356.4 2216.4h0M272.2 2230.1h0M434.4 2017.8h0M353.2 2203.3h0M346.9 2203.4h0M303.2 2217.4h0M359.6 2142.7h0" stroke="#7767b2" stroke-width="6.6" stroke-linecap="round"/><path d="M495.9 2073.3h0M623.3 2000.9h0M296.8 2174h0M278.1 2234.4h0M486.3 2067.2h0M336.8 2225.4h0" stroke="#119894" stroke-width="6.6" stroke-linecap="round"/><path d="M258.8 2254.3h0M237.1 2252.5h0M347.8 2196.9h0" stroke="#289a49" stroke-width="6.6" stroke-linecap="round"/><path d="M428.4 2000.9h0" stroke="#6776bb" stroke-width="6.6" stroke-linecap="round"/><path d="M354.9 2198.4h0" stroke="#0d9961" stroke-width="6.6" stroke-linecap="round"/><path d="M323.1 2220.9h0M288 2228.1h0M229.3 2235.6h0M296.3 2219.8h0M372.3 2173.4h0M368.6 2197h0M312.6 2216h0M368.6 2044.9h0M298.2 2215.6h0M328 2215h0" stroke="#7767b2" stroke-width="6.6" stroke-linecap="round"/><path d="M626.3 2166.8h0M509.8 2140.2h0M668.5 2014.1h0M713.8 1852.4h0M558.7 2155.9h0M615.4 1985.2h0M652.8 1907.3h0M570.2 1964.6h0M573.8 2044.3h0" stroke="#1d90b3" stroke-width="6.6" stroke-linecap="round"/><path d="M607 1751.6h0M571.4 1802.9h0M759 2177.7h0M386.1 1962.8h0M539.4 2038.3h0M808.5 2248.3h0M548.4 2011.7h0M687.8 1742.6h0M314.3 1847h0M471.8 1821h0M701.7 1993h0M620.2 1871.1h0M660.7 2032.8h0M622.1 2180.7h0M628.1 2055.8h0" stroke="#4a84cc" stroke-width="6.6" stroke-linecap="round"/><path d="M532.8 1929.7h0M540.6 1968.9h0M669.1 2129.4h0M551.5 1996h0M714.4 2066.6h0M419.3 1901.3h0M702.3 2044.3h0M654.6 2138.4h0M427.2 1717.2h0M677 2076.3h0M510.4 1822.2h0M553.3 1849.4h0M325.8 1903.1h0M346.3 1823.4h0M584 1905.5h0M643.2 1925.4h0M508 1977.9h0M608.8 1922.4h0M722.8 1923.6h0M724 1939.9h0M611.2 2105.2h0M506.8 2235.6h0" stroke="#338aca" stroke-width="6.6" stroke-linecap="round"/><path d="M463.4 2157.7h0M461.6 1899.5h0M532.2 2099.8h0M631.7 2032.2h0M348.1 2239.2h0M521.3 2118.5h0M379.5 2092.6h0M518.9 2110.7h0M470.6 2110.7h0M753 1892.2h0M699.3 1912.2h0M699.9 1857.2h0M323.4 2190.9h0M394 2107.7h0M584.6 2105.2h0" stroke="#0e9985" stroke-width="6.6" stroke-linecap="round"/><path d="M630.5 2087.7h0M229.9 2273h0M246.8 2234.4h0M362 2136h0M327.2 2221h0M280 2223.7h0M358.5 2206.2h0M324.5 2212.4h0M359 2055.2h0M332.4 2095h0M223.8 2241.6h0M205.1 2241h0M410.9 2032.2h0M638.3 2089.6h0M354.7 2212.7h0M401.2 2162.6h0M327.7 2221.8h0M363.8 2159h0M363.8 2121.5h0M279.6 2232.1h0M365 2201.2h0M360.3 2208.1h0M346.2 2215.5h0M214.2 2273.6h0M274.1 2229.9h0" stroke="#7469b3" stroke-width="6.6" stroke-linecap="round"/><path d="M374.1 2249.5h0M766.3 1840.3h0M811.5 1871.1h0M721 1901.9h0M308.3 2192.1h0M605.2 1968.9h0M379.5 2099.8h0M413.9 2166.8h0M416.3 2230.8h0M482.7 2112.5h0M375.3 2171h0M602.1 1995.4h0" stroke="#10988d" stroke-width="6.6" stroke-linecap="round"/><path d="M348.1 2043.1h0M583.4 2026.2h0M264.6 2236.7h0M307.4 2224.1h0M242.5 2231.4h0M271.9 2228.7h0M394.6 2190.9h0M410.3 1987h0M398.2 2054h0M403.6 2030.4h0M304.3 2221.2h0M296.6 2224.8h0M304 2220h0M358.4 2131.8h0M376.5 2195.2h0M368.1 2212h0" stroke="#706db6" stroke-width="6.6" stroke-linecap="round"/><path d="M226.8 2207.8h0M327.4 2204.5h0M243.7 2210.8h0M200.9 2258.5h0M354 2198.3h0" stroke="#1d994d" stroke-width="6.6" stroke-linecap="round"/><path d="M229.3 2232h0" stroke="#489c42" stroke-width="6.6" stroke-linecap="round"/><path d="M745.7 1963.4h0M808.5 2110.7h0M683.6 1690.1h0M627.5 1884.4h0M730.1 2220.5h0M441.6 1748.6h0M619 1719.1h0M625.1 1758.9h0M823.6 1910.9h0M607 1928.4h0M760.2 2152.9h0M637.1 1931.5h0M649.8 1877.2h0M669.7 1990h0M546.6 2034h0M763.8 1727.5h0M679.4 2136h0M368 1750.4h0M672.1 1818h0M599.1 2178.3h0M372.3 1926.6h0M475.4 1999.6h0M320.4 1901.9h0M680 1988.8h0M619 1839.1h0M716.2 2247.7h0M687.8 1769.1h0M607 1903.1h0M776.5 2063.6h0M335.5 1884.4h0M644.4 2263.3h0M499 1870.5h0" stroke="#3c87cf" stroke-width="6.6" stroke-linecap="round"/><path d="M424.7 2192.7h0M450.1 2190.3h0M439.8 2168h0M509.2 2026.2h0M542.4 2125.2h0M619 1899.5h0M429.6 2140.2h0M466.4 2155.9h0" stroke="#0d9a7c" stroke-width="6.6" stroke-linecap="round"/><path d="M471.8 1973.1h0M682.4 1889.2h0M686 1896.5h0M290.8 2139h0M613 2024.4h0M428.4 1956.8h0" stroke="#5680c7" stroke-width="6.6" stroke-linecap="round"/><path d="M634.1 1927.8h0M305.9 2131.8h0M745.7 1828.9h0M630.5 1920.6h0M643.2 1809h0M635.3 1936.9h0" stroke="#607bc0" stroke-width="6.6" stroke-linecap="round"/><path d="M265.9 2225.8h0M303.1 2226.7h0M317.8 2215.2h0M290.9 2230h0M308.9 2190.9h0M366.4 2212.3h0M449.5 1984h0M356 2102.2h0M371.5 2204.9h0M293.8 2224.3h0M312.9 2221.5h0M291.4 2225.5h0M373.5 2205.9h0M365 2210.6h0M353.1 2209.5h0" stroke="#6b72b8" stroke-width="6.6" stroke-linecap="round"/><path d="M511.6 2180.1h0M622.7 1944.7h0M696.3 1833.1h0M511 2175.2h0M582.8 2168.6h0M551.5 2216.9h0" stroke="#1a92ab" stroke-width="6.6" stroke-linecap="round"/><path d="M630.5 2159h0M470 2072.1h0M616.6 1929.7h0M494.7 2038.3h0M732.5 1790.9h0M653.4 1839.1h0" stroke="#248eba" stroke-width="6.6" stroke-linecap="round"/><path d="M717.4 2178.9h0M548.4 1719.1h0M669.1 1769.7h0M480.3 1847h0" stroke="#2b8cc2" stroke-width="6.6" stroke-linecap="round"/></g>
<g clip-path="url(#clipD)"><path d="M1564.9 1935.9h0M1540.6 2054.2h0M1570.4 1917.6h0M1582.7 1892.2h0M1556.3 1983.9h0M1584.2 1907.7h0M1552.8 2008.5h0M1578.1 1928.5h0M1572.6 1975.9h0M1560.7 1981.5h0M1601.8 1918.8h0M1549.6 2157h0M1570.7 1971.5h0M1606.7 1911.5h0M1599.5 1907.7h0M1569.8 1981.1h0M1529 1999.7h0M1566.8 1954.5h0M1562 1930.3h0M1549.4 2018.8h0M1541.5 1980.1h0M1545.8 1997.4h0M1548.4 2005.3h0M1618.6 1875.1h0M1549.6 1971.6h0M1522.6 2115.2h0M1513.7 2067.2h0M1566.2 1923.1h0M1545.7 2013.7h0M1514.7 2010.6h0M1581.1 1910.7h0M1557.1 1996h0M1519.5 2113.3h0M1576.5 1897.7h0M1616.3 1847.5h0M1584.7 1948.7h0M1509.7 2049.9h0M1523.5 2137.8h0M1523.2 2044.2h0M1520.8 2119h0" stroke="#0d9961" stroke-width="6.6" stroke-linecap="round"/><path d="M1605.5 1830h0M1593.5 2055h0M1585.2 2104.3h0M1579.5 2068.9h0M1585.8 2081.7h0M1628.1 2012.7h0M1652.8 1985.8h0M1611.3 2046.9h0M1628.2 2025.7h0M1648.6 2008.3h0M1601.1 2065.5h0M1583.4 2206.3h0M1594.9 2075.3h0M1602 2057.9h0M1585.8 2041.4h0M1596.8 2105h0M1533.8 2169.7h0M1530.1 2174.8h0" stroke="#cd3796" stroke-width="6.6" stroke-linecap="round"/><path d="M1576.9 2059.7h0M1578.2 2039.1h0M1489.5 2031.4h0M1540.8 2245.4h0M1616.3 2026.4h0" stroke="#9955a3" stroke-width="6.6" stroke-linecap="round"/><path d="M1598 1861.5h0M1593.8 1923.3h0M1603.3 1847.9h0M1579.8 1923.4h0M1631.5 1854.5h0M1556.8 1973.3h0M1555.8 1968.1h0M1575 1917.7h0M1547 2004.5h0M1543.8 2050.5h0M1626.3 1864.2h0M1619.1 1890.1h0M1630.2 1870.2h0M1613.8 1898.9h0M1604.3 1899.3h0M1528.7 2018.4h0M1551.4 1924h0M1591.4 1917.3h0M1521.3 2046.3h0M1639.3 1857.3h0M1529.8 2064.4h0M1595.6 1904.7h0M1581 1959.7h0M1557.6 1937h0M1562.7 1971.5h0M1574.7 1903.1h0M1520 1982.3h0M1510 2029.6h0M1513.9 2079.3h0M1579.8 1914.4h0M1577.4 1963.3h0M1552.1 2021h0M1524.5 1983.9h0M1508.9 2009.6h0" stroke="#0b996e" stroke-width="6.6" stroke-linecap="round"/><path d="M1658.2 1905.8h0M1661.1 1903.3h0M1618.3 2007.4h0M1620.4 2025.1h0M1557.9 2182.8h0" stroke="#9259a6" stroke-width="6.6" stroke-linecap="round"/><path d="M1525.1 2118.1h0M1571 1970.2h0M1512.2 2131.6h0M1596.7 1920.8h0M1593.2 1888.4h0M1553.2 2065h0M1541.4 2002.4h0M1551.6 2068.6h0M1548.2 1953.8h0M1532.6 2090.1h0M1617.1 1891.5h0M1560.3 2000.9h0M1520.7 2124.1h0M1568.4 1947.2h0M1520.8 2034.5h0M1657.6 1747.4h0M1591.2 1905h0M1562.2 2000.4h0M1551.3 2154.7h0M1511.4 2047.5h0M1568.5 1965.8h0M1540.4 2025.7h0M1507.6 2073.4h0M1530.2 2132h0M1551.3 1982.3h0M1543.2 1976.3h0M1583.8 1900.2h0M1627.9 1881.2h0M1519.2 2106.1h0M1549.1 1948.5h0M1515.3 2088.9h0M1615.7 1896.5h0M1576.4 1924.1h0M1581 1941.2h0M1539 2047.7h0M1527.5 2125.1h0M1576.7 1891.8h0M1615.5 1824.9h0M1549.2 2046h0M1601 1929.3h0" stroke="#0e9985" stroke-width="6.6" stroke-linecap="round"/><path d="M1517.4 2150.2h0M1508.5 1954.9h0M1549.8 2040.1h0M1526 1946.3h0M1548.3 1912.3h0M1538.9 1913.9h0M1515.1 1975.6h0" stroke="#5c983e" stroke-width="6.6" stroke-linecap="round"/><path d="M1581.8 1880.1h0M1512.7 1974.8h0M1560.8 1904.9h0M1515.8 1943.4h0M1580.4 1832.5h0M1627 1778.3h0M1549.9 1909.8h0M1538.6 1922.7h0" stroke="#66963c" stroke-width="6.6" stroke-linecap="round"/><path d="M1566 2022.6h0M1558.2 2136.5h0M1613.3 1958.1h0M1612.7 1957.4h0M1679.7 1884.5h0M1673.9 1895.3h0M1643.2 1945.2h0M1643 1962.8h0M1571.2 2093.4h0M1633 1976.1h0M1681 1882.9h0M1646.6 1951.2h0M1692.2 1885.9h0M1665.5 1914h0M1649.6 1922.2h0M1577.2 2043.2h0M1612.4 2027.2h0" stroke="#8460ac" stroke-width="6.6" stroke-linecap="round"/><path d="M1600.8 2045.5h0M1671.7 1837h0M1570.1 2134h0M1683.7 1926.9h0M1597.7 2118.6h0M1701.2 1880.1h0M1711.9 1871.1h0M1625.3 2057.5h0M1700.8 1749h0M1575.1 2120.2h0M1561.7 2070.5h0M1576.2 2130.2h0" stroke="#e13871" stroke-width="6.6" stroke-linecap="round"/><path d="M1619.3 1994.3h0M1604 2012.3h0M1644 1927.5h0M1649.2 1945.8h0M1615.8 2026.4h0M1651 1902.9h0M1534.6 2172.1h0M1662.7 1875.3h0" stroke="#8c5ca8" stroke-width="6.6" stroke-linecap="round"/><path d="M1589.7 2125.9h0M1643 2020.5h0M1619.4 2081h0M1594.2 2116.2h0M1582.4 2161.9h0M1607.7 2080.2h0M1611 2082.5h0M1571.9 2151.3h0M1533 2215.9h0M1603 2054.6h0M1589.3 2041.4h0M1575.3 2111.6h0M1633.8 2034.5h0" stroke="#dd2b92" stroke-width="6.6" stroke-linecap="round"/><path d="M1627.1 2051.9h0M1611 2065.1h0M1613 2068.6h0M1615.3 1898.5h0" stroke="#c16a2a" stroke-width="6.6" stroke-linecap="round"/><path d="M1527.3 1969.7h0M1504.6 1986.1h0M1501.2 2073.9h0" stroke="#968030" stroke-width="6.6" stroke-linecap="round"/><path d="M1509 2049h0M1506.5 2100.1h0M1666.6 1842h0" stroke="#9b7e2f" stroke-width="6.6" stroke-linecap="round"/><path d="M1626.7 1961.2h0M1559.2 2114h0M1696.2 1926.8h0M1684.2 1918.6h0M1699.3 1809h0M1712.1 1803.4h0M1596.4 2070.3h0M1664.2 1975h0M1699.9 1823.9h0M1650.6 1802.3h0M1728.5 1840.8h0" stroke="#e03d6b" stroke-width="6.6" stroke-linecap="round"/><path d="M1547.7 2101.6h0M1572.1 2090.9h0M1666.6 1914.6h0M1616.2 1998.2h0M1615.1 2015.1h0M1600.2 2007.9h0M1551.8 2101.1h0M1685.4 1857h0M1626.2 1939.1h0M1616.5 2027h0M1643 1937.9h0M1649.4 1937.4h0M1642.6 1973h0M1558.1 2078h0M1554.8 2109.5h0M1556.6 2052.6h0M1563.1 2084.5h0M1548.6 2100.2h0M1558.7 2088.5h0M1668.2 1884.2h0M1618.4 1997.9h0M1665.9 1881.4h0M1682.2 1873.9h0" stroke="#706db6" stroke-width="6.6" stroke-linecap="round"/><path d="M1538.7 2175.6h0M1601.3 2056.3h0M1575.6 2081.5h0M1579.5 2065.7h0M1573.1 2012.7h0M1603.6 2049h0M1614.3 2098.1h0M1578.6 2084.3h0M1590.4 2046.4h0" stroke="#af499c" stroke-width="6.6" stroke-linecap="round"/><path d="M1597.1 1996.7h0M1674.1 1744.1h0M1668.2 1781.3h0M1632.9 1886.3h0M1632.7 1889.7h0M1573.1 1991.7h0M1599 1963.2h0M1599.3 1992.5h0M1622.5 2060.9h0M1648.2 1811.2h0M1590.6 1979.8h0M1673.4 1833.4h0M1616.6 1944.5h0M1594.1 1968.6h0M1607.1 1970.3h0M1656.1 1849.3h0M1688.4 1831.7h0M1564.1 2019.3h0M1663.3 1851.5h0M1634.1 1910.6h0M1647.9 1848.3h0M1610.4 1922.7h0M1626.8 1896.4h0M1662.4 1881h0M1647.5 1824.4h0" stroke="#338aca" stroke-width="6.6" stroke-linecap="round"/><path d="M1661.2 1736.6h0M1526.9 2052.2h0M1560.7 1942.8h0M1523.2 2082.1h0M1645.5 1782.8h0M1633.3 1775.5h0M1525 1996.1h0M1610.5 1841.6h0M1559.2 2117h0M1611.9 1802.9h0M1630.9 1849.5h0M1621 1815.4h0M1605.5 1826.5h0M1579.6 1926.9h0M1642.8 1743.2h0M1589 1948.4h0M1617.9 1841h0M1631 1841.6h0M1660.1 1731.1h0M1530.9 2031.2h0" stroke="#13969c" stroke-width="6.6" stroke-linecap="round"/><path d="M1517.5 2142.3h0M1512.5 2085.3h0M1513.6 2098.2h0M1492.7 2059.5h0M1507.1 2084.4h0M1505.3 2109.2h0M1618.4 1883.5h0" stroke="#a47b2e" stroke-width="6.6" stroke-linecap="round"/><path d="M1677 1760h0M1553.7 1942.1h0M1571.8 1911.1h0M1687.2 1938.7h0M1516.6 2056.9h0M1660 1795.9h0M1629.8 1835.4h0M1646.2 1754.7h0M1666.7 1823.4h0M1536.5 2136h0M1541.1 2122.7h0M1592.4 1915.1h0M1639.2 1877.6h0M1622.4 1797.4h0M1599.9 1842.4h0M1632.4 1835.2h0M1598.1 1993.1h0M1667.6 1786.3h0M1587.1 1991.2h0" stroke="#1694a4" stroke-width="6.6" stroke-linecap="round"/><path d="M1498 2035.3h0M1510.3 2060.5h0M1580.8 1938.2h0M1505.6 1984h0M1509.9 1956.6h0M1463.8 2132.4h0M1544.4 1910.5h0M1506.2 2096h0M1570.7 1950.7h0M1501.9 2100.1h0M1636.9 1859.4h0M1571.3 1885h0M1468.3 2117.5h0M1500.3 2051.1h0M1559.1 1954.1h0" stroke="#379b46" stroke-width="6.6" stroke-linecap="round"/><path d="M1655.9 1866.8h0M1600.6 1843.2h0M1663.3 1726.7h0M1666.5 1833.5h0M1683.7 1787.3h0M1674.8 1766.7h0M1673.9 1746.1h0M1609.9 1808.8h0M1610.4 1803.8h0M1637.2 1825.2h0M1645.4 1758.9h0M1646.6 1872.9h0M1677.7 1761.8h0M1627.9 1817.3h0M1644.8 1822.7h0M1675.8 1750.4h0M1563.1 2016.7h0M1661.9 1758.6h0" stroke="#1a92ab" stroke-width="6.6" stroke-linecap="round"/><path d="M1674.1 1745.7h0M1668.4 1852.4h0M1567.4 2013.6h0M1609.9 1958.1h0M1676.4 1865.4h0M1684.1 1766.8h0M1558.4 2009.3h0M1680.3 1869.1h0M1695.4 1846.4h0M1574.3 2017.1h0M1631.6 1928.9h0M1580.1 1993h0M1677.4 1793.2h0M1677.5 1785.7h0M1589.3 1972.5h0M1600 1988.5h0M1687.6 1861h0M1578.8 2020.7h0M1687.9 1844h0M1670.5 1767.7h0M1665.3 1813.8h0M1648 1869.6h0M1587.6 1961.7h0M1610.5 2000.9h0M1611.5 1916.2h0M1690.1 1729.6h0M1577.1 1984.3h0M1684.6 1814.5h0M1566.8 2003.9h0" stroke="#5680c7" stroke-width="6.6" stroke-linecap="round"/><path d="M1677.7 1768.1h0M1666.7 1790.4h0M1673.6 1861.1h0M1661.1 1873.1h0M1645 1892.1h0M1674.3 1750h0M1654.9 1881h0M1641.3 1868.3h0M1626.2 1933.5h0M1664.2 1798.6h0M1597.5 1971.2h0M1592.3 1994.8h0M1589.4 1980.7h0M1656.1 1814.4h0M1588.5 2008.4h0M1666.6 1762.6h0M1648.1 1881.5h0M1653.5 1802.2h0M1576.8 1984.7h0M1628.4 1930.8h0M1673.8 1733.3h0" stroke="#2b8cc2" stroke-width="6.6" stroke-linecap="round"/><path d="M1512.3 2057.6h0M1638.7 1883.7h0M1645 1852.2h0M1669.9 1782.6h0M1643.8 1885.4h0M1664.1 1739.9h0M1643.6 1861.5h0M1622.5 1842.5h0M1684.7 1859.3h0M1663.1 1797.2h0M1607.1 1830.6h0" stroke="#1d90b3" stroke-width="6.6" stroke-linecap="round"/><path d="M1584.4 2148.4h0M1585 2182.7h0M1573 2099.7h0M1595.4 2075.9h0M1586.9 2104.3h0" stroke="#a84d9e" stroke-width="6.6" stroke-linecap="round"/><path d="M1667.4 1870.6h0M1570.7 2010h0M1604.9 1923.4h0M1576.8 2047.1h0M1625.3 1917.4h0M1684.9 1857.1h0M1560.5 2142.1h0M1675.2 1911.7h0M1693.2 1871.2h0M1600.2 1972.8h0" stroke="#607bc0" stroke-width="6.6" stroke-linecap="round"/><path d="M1667.7 1902h0M1617.4 1975.1h0M1669.6 1892.9h0M1661.9 1921.9h0M1621.2 1995.6h0M1643.8 1936.7h0M1630.7 1947.6h0M1605.4 2022h0M1592.5 1982.9h0M1559.2 2011.7h0M1678.1 1903.7h0M1677.3 1895.2h0" stroke="#6b72b8" stroke-width="6.6" stroke-linecap="round"/><path d="M1567.3 1958.6h0M1538.9 2054.3h0M1578.3 1910.4h0M1581.4 1951.2h0M1585.6 1929.1h0M1583.4 1933.2h0M1562.5 1983.4h0M1515.7 2072.6h0M1590.6 1924.7h0M1591.4 1912h0M1589.7 1926.5h0M1546.8 1964.6h0M1614.7 1887.5h0M1549.3 2056.8h0M1537.7 2045.7h0M1540.6 2073.8h0" stroke="#1d994d" stroke-width="6.6" stroke-linecap="round"/><path d="M1599.4 1976.5h0M1619.8 1910.7h0M1700 1807.6h0M1601.1 1924.8h0M1665.2 1870h0M1579.9 2031.1h0M1563.4 2097.8h0M1690.1 1795.8h0M1694.9 1786.2h0M1688.5 1776.6h0M1689.1 1814.1h0M1595.6 1954h0M1591.8 1971.5h0M1656.4 1969.1h0M1596.1 1983.9h0M1690.9 1838.7h0M1681.4 1795.5h0M1690 1702.4h0M1609.4 1950.7h0M1701.5 1735.7h0M1597.6 1979.2h0M1563.2 2026.7h0" stroke="#6776bb" stroke-width="6.6" stroke-linecap="round"/><path d="M1610.5 2099.1h0M1719.9 1875.5h0M1728.8 1834.4h0M1666.9 1941.9h0M1653.6 1964.7h0M1731.3 1852.8h0M1716 1853.3h0M1646 1993.3h0M1602.8 2142.6h0M1559.2 2191.8h0M1586 2015.7h0M1693.1 1920.3h0M1653.1 2023.4h0M1555.4 2194.7h0M1701.4 1911.8h0M1663.1 1969.3h0M1720 1869.2h0M1610.7 2061.5h0M1726.9 1795.4h0M1724.6 1817.4h0M1700 1830.9h0M1642.1 1994.4h0M1739.7 1856.2h0M1679.3 1921.6h0" stroke="#d1593e" stroke-width="6.6" stroke-linecap="round"/><path d="M1517.1 2222.6h0M1508 2057.5h0M1531.6 1989.3h0M1687.4 1962.3h0M1616.5 1818.1h0M1605.2 1909.7h0M1511.7 2105.1h0M1568.1 1955h0M1530.8 1980.3h0M1525.9 2048.8h0M1560.8 1982.5h0" stroke="#289a49" stroke-width="6.6" stroke-linecap="round"/><path d="M1583.9 2171.2h0M1638.3 1918.9h0M1558.8 2259.2h0M1638.9 2037.8h0M1599.4 2098.2h0M1578.2 2253h0M1605.4 2112.4h0" stroke="#b57229" stroke-width="6.6" stroke-linecap="round"/><path d="M1508.3 1966.5h0M1581.3 1837.4h0M1524.9 1948.7h0M1572.5 1872.4h0M1516.8 1960h0M1513.9 1992.2h0M1603.5 1979.6h0M1563.4 1903.8h0M1528.9 1932.2h0M1569 1885.9h0M1539.3 1908.2h0" stroke="#898834" stroke-width="6.6" stroke-linecap="round"/><path d="M1611.7 2046.4h0M1671.9 1919.2h0M1670.9 1992h0M1699.9 1908.8h0M1726.2 1872.7h0M1723.2 1889.2h0M1700.5 1889.3h0M1529.7 2111.5h0M1689 1941.4h0M1661.8 1982.5h0M1714.1 1766h0M1713.9 1752.2h0M1653.8 1981.4h0M1684.6 1929.2h0M1715.4 1808.3h0M1659.2 1961.4h0M1718.7 1769.9h0M1679.7 1924.1h0M1641.7 1998.6h0M1707 1912.4h0M1706.2 1824.9h0M1706.5 1768.2h0M1676.3 1937.8h0M1670.8 1967.1h0M1665.8 1959h0M1718.1 1867.2h0" stroke="#d94d52" stroke-width="6.6" stroke-linecap="round"/><path d="M1559.7 1888.7h0M1546.3 1988.5h0M1507.1 1977.9h0M1519.3 1960.8h0M1581.7 1816.4h0M1650.5 1726.8h0M1533.4 1924.3h0" stroke="#928331" stroke-width="6.6" stroke-linecap="round"/><path d="M1583.6 1926.8h0M1539.4 2112.8h0M1602.6 1869h0M1570.4 1988h0M1537.9 2088.8h0M1578.1 1870h0M1528 2048.7h0M1536.6 1981.6h0M1546.3 2006.9h0M1552 2016.5h0M1563.4 1979.7h0M1573.9 1913.5h0M1535.1 2011.5h0M1626.6 1861h0M1519.5 2090.2h0M1594.1 1880.5h0M1607.9 1884.2h0M1557.9 1921.6h0M1608.2 1861.5h0M1589.8 1864.1h0M1609.9 1860.8h0M1539 2041.4h0M1524.4 2085.1h0M1525.3 2082.4h0M1530.9 2101.8h0M1598.5 1880.3h0M1550.8 1945.7h0M1700.3 1852.7h0M1594.3 1865h0M1581.4 1956.5h0M1535.9 1994.2h0M1668.6 1987.4h0M1558.1 1940.1h0M1517.1 2060.4h0M1621 1858.1h0" stroke="#0d9a7c" stroke-width="6.6" stroke-linecap="round"/><path d="M1552.8 2246.4h0M1513.6 2169h0M1633.1 2024.3h0" stroke="#b1752a" stroke-width="6.6" stroke-linecap="round"/><path d="M1559.7 2007.7h0M1587.7 1971.6h0M1604.3 1929.6h0M1581.9 1998h0M1694.9 1778.3h0M1694.4 1870.5h0M1697.2 1808.2h0M1661.6 1801.6h0M1579.1 2020.7h0M1594.7 1993.7h0M1576.9 2014.8h0M1669.7 1807.5h0M1617.2 1914.4h0M1639.6 1868.3h0M1683 1847.9h0M1578.2 2002.5h0M1584 1995.2h0M1627.5 1922h0M1677.6 1767h0M1581.4 1977h0M1682.2 1865.1h0" stroke="#4a84cc" stroke-width="6.6" stroke-linecap="round"/><path d="M1575.5 1992.4h0M1691 1851h0M1642.3 1834.1h0M1601.1 1940.2h0M1694.7 1869.9h0M1687.1 1737.7h0M1609.1 1966.4h0M1593.9 1951.2h0M1655.8 1953.4h0M1672 1749.6h0M1663.2 1834.3h0M1655.2 1804.1h0M1671.7 1730h0M1679.8 1832.1h0M1641.1 1910.5h0M1675.7 1836.3h0M1691.9 1779.3h0M1655.4 1800.1h0M1575.7 1975.6h0M1671.6 1855.8h0M1640.3 1847.2h0M1605.8 1978h0M1563.6 2128.9h0M1590.3 1944h0M1590.5 1974.1h0M1588.6 1963.2h0M1673.2 1825.6h0" stroke="#3c87cf" stroke-width="6.6" stroke-linecap="round"/><path d="M1550.8 2102.2h0M1569.5 1906.8h0M1515.4 1959.6h0M1494 2015.7h0M1613.6 1777.9h0M1554 1943.5h0M1538.8 1918.1h0M1494.3 2017.2h0M1661.4 1866.6h0M1567.1 1863.5h0M1515.9 1964.5h0M1525.7 1930.3h0M1623.7 1762.1h0" stroke="#769139" stroke-width="6.6" stroke-linecap="round"/><path d="M1632.8 1996.5h0M1655 1957.1h0M1540.3 2013.2h0M1564 2036.1h0M1560.4 2081h0M1663.7 1935.8h0M1660.3 1898h0M1609.5 1991.8h0M1550.1 2124.7h0M1688.6 1890.4h0M1625.2 1942.4h0M1642.3 1983.3h0M1554.1 2044.8h0M1686.4 1876.8h0M1574.8 2052.6h0M1651.8 1950h0M1560.1 2032.4h0M1601 2029.4h0M1564.4 2205.6h0M1624.8 1973.5h0M1630.9 1981.7h0M1609.2 1979.6h0M1650.5 1915.9h0M1626.2 1998.1h0M1515.8 1964.8h0M1559.2 2092.2h0M1560.1 2096.9h0" stroke="#7d64af" stroke-width="6.6" stroke-linecap="round"/><path d="M1686.1 1913.4h0M1646.7 1998.6h0M1713.2 1854.7h0M1670.8 1974.6h0M1701 1916.4h0M1662.7 1983.4h0M1694.6 1874.7h0M1650.9 1995.3h0M1636.6 2001.3h0M1691.7 1928.1h0M1722.5 1835.5h0M1680.4 1946.8h0M1653.4 1961h0M1705.5 1903.9h0M1705.6 1744h0M1658.8 1959.8h0M1600.1 2106.6h0M1705.7 1811.6h0M1699.4 1922.2h0M1704.3 1864.2h0M1711.8 1774.3h0M1715.9 1883.1h0M1710.1 1772.7h0M1684 1912.2h0" stroke="#d55348" stroke-width="6.6" stroke-linecap="round"/><path d="M1533.7 2194.3h0M1654.5 2017.3h0M1607.5 2095.2h0M1590.7 2125.7h0M1630.2 2028.2h0M1609.8 2039.7h0M1613.2 2102.5h0M1625.4 2034.6h0" stroke="#ba6f28" stroke-width="6.6" stroke-linecap="round"/><path d="M1599.1 1991.5h0M1609.1 1995.3h0M1625.2 2010.5h0M1552.7 2053.3h0M1604.7 2028.3h0M1584.7 2238.6h0M1562.9 2150.6h0M1567.6 2043.7h0M1621.1 1989.3h0M1684.7 1878.2h0M1615.7 1969.4h0M1550.4 2092.7h0M1578.3 2027.6h0M1629 1953.4h0M1563.1 2063.9h0M1557 2066.2h0M1611.9 1994.7h0M1530.3 2222.5h0" stroke="#8062ad" stroke-width="6.6" stroke-linecap="round"/><path d="M1525.7 2073h0M1543 2099.1h0M1581.9 1921.4h0M1562.6 1957.8h0M1567.3 1972.7h0M1597.1 1858.2h0M1505 2029.3h0M1552.2 1959.8h0M1528.5 2000.3h0M1542 2004.9h0M1537.6 2123.3h0M1624.6 1831.7h0M1508 2021.3h0M1526.9 2038h0M1609.4 1852h0M1578.7 1962.5h0M1544.1 1977.1h0M1550.5 1919.4h0M1544.9 2146h0M1544.1 1955h0M1535.3 2034.9h0M1583.2 1948.2h0M1525.3 2000.3h0M1547.9 1970.6h0M1546.7 2109.2h0M1617.7 1795.7h0M1579.3 1932.2h0M1662 1735h0M1585.6 1852h0M1537.1 1958.9h0M1518.5 2009.1h0M1534.2 1971.1h0M1568.6 1967.8h0M1626.4 1809.1h0M1532.5 2065h0M1618.3 1803.7h0M1581.2 1903.9h0M1611.7 1841.7h0M1552.8 1979.6h0M1624.6 1878.7h0M1550.8 2148.7h0M1622 1832.2h0M1552.1 1944.6h0M1597.2 1904.8h0M1521.4 1989.3h0" stroke="#10988d" stroke-width="6.6" stroke-linecap="round"/><path d="M1616.9 1842h0M1523.6 1993.7h0M1651.3 1744.2h0M1537.9 1949.2h0M1628.7 1834.4h0M1564.4 1990.7h0M1548.4 1937.8h0M1547.2 2058.6h0M1586.4 1943h0M1615.7 1861.9h0M1576.5 1892.9h0M1547.9 2150.2h0M1531.1 2026.7h0M1542.2 2054.7h0M1620.9 1879h0M1569.8 1930.6h0M1552.7 2025.6h0M1518.2 2051.2h0M1525.2 1958.6h0M1510.7 2063.8h0M1625.1 1864.6h0M1535.2 2003.6h0M1620.3 1811.4h0M1629.6 1800.9h0M1651 1737.7h0M1647.4 1775.8h0M1504 2036.7h0M1538.6 1953h0M1560.5 1969.2h0M1608.2 1901.8h0" stroke="#119894" stroke-width="6.6" stroke-linecap="round"/><path d="M1588.1 2103.5h0M1581.4 2104.1h0M1611.7 2109.8h0M1618.7 2032.7h0M1594.6 2110.5h0M1616.5 2056.1h0M1624.6 2065.4h0M1575.9 2161.8h0" stroke="#e23377" stroke-width="6.6" stroke-linecap="round"/><path d="M1595.6 2179.6h0M1580.6 2227.1h0" stroke="#ac782b" stroke-width="6.6" stroke-linecap="round"/><path d="M1557 2056.3h0M1704.5 1911.8h0M1708.9 1865.8h0M1597.6 2063.5h0M1667.9 1966.1h0M1709.5 1851.2h0M1674.7 1913.9h0M1678.5 1950.6h0M1724.2 1855.7h0M1717.3 1786.4h0M1715.8 1871h0M1664.3 1969.2h0M1642.7 1988.3h0M1703.1 1828.2h0M1716.4 1836.7h0M1636.9 2002h0M1668.5 1957.9h0M1716.5 1823h0M1657.3 1993.1h0M1715.6 1880.9h0M1718.5 1765.6h0M1659.7 1993.4h0" stroke="#df4264" stroke-width="6.6" stroke-linecap="round"/><path d="M1698.3 1750.5h0M1664.2 1974.2h0M1699.3 1907.1h0M1698.4 1900h0M1685.4 1905.8h0M1733 1857.9h0M1731 1877.1h0M1700.4 1831.3h0M1686 1917.8h0M1676.6 1945.1h0M1673.8 1971.8h0M1655.7 1985.9h0M1708.5 1836.7h0M1723.3 1824h0M1671 1976.8h0M1706.3 1776.1h0M1642.1 2005.6h0M1696.1 1955.5h0M1682.4 1957h0M1688.3 1966.1h0M1728.8 1895.8h0M1673.7 1916.2h0M1683.6 1925.6h0" stroke="#dd475c" stroke-width="6.6" stroke-linecap="round"/><path d="M1523.3 2214.6h0M1618.5 1793.9h0M1505.5 2110.2h0M1450.2 2138.3h0M1599.7 1920.6h0M1493.8 2049.7h0M1504.3 1981.5h0M1493.8 2025.6h0M1490.2 2040.8h0M1552.2 1882h0M1574.2 1876.3h0" stroke="#489c42" stroke-width="6.6" stroke-linecap="round"/><path d="M1488.9 2010.4h0M1606.9 1793.2h0M1568.1 1889.6h0M1508.5 1965.6h0M1528.1 1936.6h0M1508.6 2102.4h0M1580.9 1990h0M1488.8 2044h0M1607.8 1799.3h0M1608.1 1795.3h0" stroke="#539a40" stroke-width="6.6" stroke-linecap="round"/><path d="M1580.1 1897.7h0M1703.9 1799.7h0M1558.5 1988.5h0M1706.2 1912.2h0M1609.2 2111.3h0M1678.9 1960.3h0M1733.6 1852.8h0M1664.2 1997.7h0M1720.5 1821.6h0" stroke="#c8652d" stroke-width="6.6" stroke-linecap="round"/><path d="M1661.8 1999.2h0M1728.9 1881.1h0M1599.3 2147.9h0M1676.7 1931.2h0M1607.3 2108.5h0M1687.6 1902h0M1615.1 2067.3h0M1543.8 2077.3h0M1689.5 1953.8h0M1706.3 1899.1h0M1638.7 2006.5h0M1624 2054.2h0M1638.7 2038.9h0M1619 2047.5h0M1713.4 1820.4h0M1534.3 2018.4h0M1585.1 2126.2h0M1713.4 1813.3h0M1547.1 2132.4h0M1672.2 1826.2h0M1604.6 2064.8h0M1690.9 1924.7h0M1527 2216.7h0M1636.7 2041.7h0M1600.1 2149.6h0M1686.9 1855.1h0" stroke="#cc5f35" stroke-width="6.6" stroke-linecap="round"/><path d="M1496.6 1998h0M1567.3 1843.1h0M1523.6 1933h0M1583.4 1845.7h0" stroke="#6e943a" stroke-width="6.6" stroke-linecap="round"/><path d="M1485.7 2019.2h0M1565.9 1898.9h0M1501.4 1993.2h0M1588.4 1822.7h0M1576.4 1843.8h0M1498.2 1990.4h0M1483.7 2006.9h0M1593.9 1907.1h0M1547 1904.4h0M1513.9 1944.4h0M1489.3 2002.3h0M1567.3 1867.9h0M1559.9 1879.8h0" stroke="#7d8e37" stroke-width="6.6" stroke-linecap="round"/><path d="M1590.7 2204.8h0M1589.7 1818.2h0M1637.9 2017.4h0M1592.8 2062.4h0M1562.5 2151.6h0M1575.8 2071.5h0M1598.9 2051.4h0M1603.8 2041.7h0" stroke="#b7449a" stroke-width="6.6" stroke-linecap="round"/><path d="M1548.7 2070h0M1534.4 2160.4h0M1588.6 1848.5h0M1586.2 1944.2h0M1647.3 1793.9h0M1584.3 1871.6h0M1572 1943.7h0M1536.8 2061.7h0M1554.5 1979h0M1548.8 1986.8h0M1509.7 2018.1h0M1592.3 1872h0M1625 1853.6h0M1571.5 1943.5h0M1656.9 1886.8h0M1516.1 2011.9h0M1532.9 2048.7h0M1589.2 1874.5h0M1544.9 1996.3h0M1597.2 1904.3h0M1629.5 2058.4h0M1557.7 1920.1h0M1528.1 2021.2h0M1580.7 1965.8h0M1535.5 2017.4h0M1538.5 2133.8h0M1533.1 1967.6h0M1582.4 1949.9h0M1543.5 1980.1h0M1515.6 2159.7h0M1556.5 1970.8h0M1512.5 2081.5h0M1684.9 1878.5h0" stroke="#149955" stroke-width="6.6" stroke-linecap="round"/><path d="M1619.2 2008.6h0M1588.4 2022.8h0M1567.6 2065.6h0M1611.8 1990.1h0M1552.8 2040.1h0M1620.9 1997.9h0M1645.7 1952.5h0M1563.7 1877.8h0M1618.3 1969.2h0M1680.4 1887.1h0M1581.3 2038.5h0M1636.6 1912.2h0M1561.2 2073.6h0M1634.9 1957h0M1566.8 2133.9h0M1650.7 1897.4h0M1660.7 1922.7h0M1629.3 2017.1h0" stroke="#7469b3" stroke-width="6.6" stroke-linecap="round"/><path d="M1506.5 1985.4h0M1527.3 1924.2h0M1571.7 1843.8h0M1508.2 1974.1h0M1494.6 1989.4h0M1515.3 2104.8h0M1640 1742.3h0M1555.2 1916.7h0" stroke="#8d8533" stroke-width="6.6" stroke-linecap="round"/><path d="M1614.2 2048.5h0M1597.9 2043.8h0M1601.2 2044.7h0M1616.6 2052.2h0M1568.6 2150.1h0M1601.4 2126.9h0M1585.9 2083.2h0M1591.6 2061.8h0M1645.7 1771.8h0M1584 2054.1h0M1518.7 2181.8h0M1614.2 2068.4h0M1583.8 2096h0M1642.4 2035.8h0M1612 2061.4h0" stroke="#bf4099" stroke-width="6.6" stroke-linecap="round"/><path d="M1602 2006.1h0M1616 1997.8h0M1651.9 1909h0M1639.3 1924.7h0M1614 1990h0M1639.1 1958.8h0M1629.5 1931.5h0M1625.3 2008.8h0M1627.3 1993.7h0M1553.8 2067.7h0M1557.5 2031.1h0M1630.2 1939.8h0M1555.2 2026.3h0M1643.9 1942h0M1645.2 1910.9h0M1564.3 2107.1h0M1634 1929.4h0M1610.4 1994h0M1631.6 2004.2h0M1562.5 2045.5h0" stroke="#7767b2" stroke-width="6.6" stroke-linecap="round"/><path d="M1570.1 2106h0M1570.7 2118.9h0M1637.3 2020.5h0M1591.4 2079.1h0M1700.7 1768.4h0M1628.2 2055.4h0M1589.4 2178.1h0M1580.5 2069.7h0M1598 2052.8h0M1597.9 2101.1h0M1682.1 1850.9h0" stroke="#e02e85" stroke-width="6.6" stroke-linecap="round"/><path d="M1639.6 1877.9h0M1654.3 1826.7h0M1646.7 1894.9h0M1626.5 1913.9h0M1599.3 1977.7h0M1601.1 1965h0M1643.7 1813.7h0M1643.2 1819.8h0M1672 1771.4h0M1627.1 1914.8h0M1673.4 1786.6h0M1668.7 1773.7h0" stroke="#248eba" stroke-width="6.6" stroke-linecap="round"/><path d="M1608.4 1961.3h0M1665.1 1969.5h0" stroke="#9f7d2f" stroke-width="6.6" stroke-linecap="round"/><path d="M1480.7 2030.7h0M1567.9 1902.8h0M1499.6 1970.6h0M1522 1925.9h0M1551.9 1895.1h0M1562.6 1877h0M1524.2 1945.7h0" stroke="#848b35" stroke-width="6.6" stroke-linecap="round"/><path d="M1548 2050.1h0M1622.2 1999.6h0M1611.9 2004.8h0M1605.7 2024.3h0M1634.9 1960.8h0M1579.3 2031.1h0M1582.1 2026.2h0M1687.2 1888.7h0M1566.2 2144.8h0M1661.6 1897.8h0M1669.5 1922.1h0M1599.8 2020.3h0M1589.7 2022.6h0M1674.1 1877.7h0M1660.7 1894.1h0M1478.5 2020.8h0M1665.8 1931.1h0M1581 1932.4h0" stroke="#885eaa" stroke-width="6.6" stroke-linecap="round"/><path d="M1645.3 1940.1h0M1556.2 2176.1h0M1649.6 1910.9h0M1673.4 1895.1h0M1696 1749.5h0M1560.4 2148.2h0M1627.4 1952.8h0M1632.9 1935.7h0M1560.2 2096.3h0M1686.1 1889.3h0M1550.8 2106.2h0M1556.9 2066.7h0M1615.6 1990.1h0M1618.8 1992.5h0M1686.8 1874h0M1563.5 2131.7h0M1677.8 1907.6h0M1644.9 1944.3h0M1561.9 2157h0M1677 1896.9h0M1624.3 1952h0M1644 1925.3h0M1657.6 1918.4h0M1611.1 1978.1h0M1623.6 2012.2h0M1597.9 2001h0M1561.2 2024.6h0" stroke="#7a66b0" stroke-width="6.6" stroke-linecap="round"/><path d="M1684.8 1929.4h0M1581.9 2052.4h0" stroke="#a051a0" stroke-width="6.6" stroke-linecap="round"/><path d="M1539.2 2114.5h0M1522.9 2019h0M1522 2000h0M1572.2 1907.7h0M1563 1970.1h0M1663.4 1734.2h0M1553.2 1937.5h0M1520.4 2090h0M1553.9 1999.6h0M1645.6 1778.7h0M1592.7 1925.6h0M1531.7 2126.2h0M1544.8 2057.8h0M1566.8 1972.3h0M1596.4 1838.7h0M1615.3 1865h0M1517.9 1982.5h0M1658.3 1745.1h0M1624.2 1880.6h0M1607.1 1899.2h0M1547.1 2025.3h0M1627.3 1817h0M1528.5 1992h0M1594 1897.7h0M1507.9 2036.6h0M1650.5 1763.7h0M1546.8 2141.5h0M1574.5 1981.4h0M1562.3 1966.6h0M1529 2058.5h0" stroke="#10988d" stroke-width="6.6" stroke-linecap="round"/><path d="M1583.8 2040.8h0M1592.2 2101h0M1580.2 2120.3h0M1611.7 2051.8h0M1627.5 2063.6h0M1630.3 2015.9h0M1630 2004.3h0M1619.4 2020.5h0M1652 1984h0" stroke="#e02e85" stroke-width="6.6" stroke-linecap="round"/><path d="M1650.4 1765.1h0M1490 2046.7h0M1503.2 2087.4h0M1503.4 2084.7h0M1545.5 1958.2h0M1603.9 2095.3h0" stroke="#9f7d2f" stroke-width="6.6" stroke-linecap="round"/><path d="M1666.5 1843.5h0M1636.3 1849.7h0M1594.1 1852.6h0M1672.2 1770.4h0M1612 1816.3h0M1652.9 1758.2h0M1599.1 1812.8h0M1635.7 1822.6h0M1640 1791h0M1613.1 1804.3h0M1566.9 1963.4h0M1668.3 1836.2h0M1640.9 1902.6h0M1636.2 1804.7h0" stroke="#1a92ab" stroke-width="6.6" stroke-linecap="round"/><path d="M1574.5 2222.1h0M1597.7 2015.3h0M1659.3 1936.9h0M1638.3 1943.3h0M1555.1 2232.3h0M1651.6 1950.3h0M1639.8 1978.7h0M1664.4 1903.9h0M1556.8 2167.8h0M1615.2 1904.4h0M1629.9 1893h0" stroke="#9259a6" stroke-width="6.6" stroke-linecap="round"/><path d="M1566.4 1895h0M1577.8 1852.7h0M1570.7 1871.6h0M1568.1 1894.6h0M1554.1 1906h0" stroke="#7d8e37" stroke-width="6.6" stroke-linecap="round"/><path d="M1686.2 1934.3h0M1705.8 1802.5h0M1698.2 1928.8h0M1712.7 1788.6h0M1690.3 1911.8h0M1717.7 1828.3h0M1726.4 1871.1h0M1646.5 2001.5h0M1707.3 1859.7h0M1713.3 1814.7h0M1718.2 1895.7h0M1656 1991h0M1724.8 1855h0M1689.5 1901h0M1704.1 1724.2h0M1665.3 1946.7h0M1694.1 1944.1h0M1731.4 1877.4h0M1579 1974.2h0M1641.6 1986.3h0" stroke="#d94d52" stroke-width="6.6" stroke-linecap="round"/><path d="M1517.5 2071.1h0M1624.3 1835.3h0M1656 1778.7h0M1601.1 1845.5h0M1605.5 1826.6h0M1553.8 1987.6h0M1715.6 1800.2h0M1606.9 1812h0M1679.2 1697.7h0M1544.6 2003.6h0M1613.4 1888.4h0M1556 1987.2h0M1641 1777.5h0M1632.1 1856.9h0M1527.4 2105.7h0M1568.8 1985.3h0M1514.6 2088.5h0M1538.9 2031.3h0M1623.7 1843h0M1591.6 1893.8h0M1568.2 1991.3h0M1618.3 1809.8h0M1622.9 1811.2h0M1649.4 1787.8h0M1507.4 2013.4h0M1519.6 2045.2h0M1534.5 2022.9h0M1605.4 1841.4h0M1613.5 1852.5h0M1521.6 2131.1h0M1539.4 1962.8h0M1616.9 1894h0M1527.6 1997h0M1595.2 1988.2h0M1560.7 1943.1h0" stroke="#119894" stroke-width="6.6" stroke-linecap="round"/><path d="M1705.4 1801h0M1713.3 1795.8h0M1655.9 1994.3h0M1708.7 1816.3h0M1700.8 1867.9h0M1693.9 1943.2h0M1668.7 1964.4h0M1663.3 2006.9h0M1740.1 1862.3h0M1666.2 1960.6h0M1641.7 1984.8h0M1685.4 1952.7h0M1688.2 1913.6h0M1701.5 1916.8h0M1694 1796.7h0M1724.9 1828.2h0M1652.4 1981.7h0M1677.4 1951.1h0M1690.3 1914.9h0M1713.1 1763.3h0M1692.8 1905.7h0M1617.3 2030.7h0M1724.8 1846.5h0" stroke="#dd475c" stroke-width="6.6" stroke-linecap="round"/><path d="M1539.6 2007.7h0M1539.6 2046h0M1523.9 2159.3h0M1546.3 1946.8h0M1600.4 1869.9h0M1528.3 2006.7h0M1530.5 2095.1h0M1510.2 2038.2h0M1529.8 1977.1h0M1570.2 1949h0M1539 2004.7h0M1564.3 1932h0M1521 2016h0M1555.1 2157.1h0M1538 2127.9h0M1612 1897.2h0M1493 2069.3h0M1575.8 1922.4h0M1573.1 1955.5h0M1511.6 2096.2h0M1529.5 1965.5h0M1634.3 1875.5h0M1600.1 1869.7h0M1527.7 2051.2h0M1572.2 1935.4h0M1600.1 1875.6h0M1624.1 1863h0" stroke="#149955" stroke-width="6.6" stroke-linecap="round"/><path d="M1548.9 2216.2h0M1602.9 1967.3h0M1676.7 1731.9h0M1678.4 1754.4h0M1667.7 1831.7h0M1573.1 2006.9h0M1638.8 1770.1h0M1667.2 1862.7h0M1628.2 1886.3h0M1617.3 1922.6h0M1595.8 1988.2h0M1632.5 1892.7h0M1654.5 1914.1h0M1659 1822.4h0M1604.8 1953.2h0M1628.3 1906.7h0M1603.5 1919.2h0" stroke="#248eba" stroke-width="6.6" stroke-linecap="round"/><path d="M1653.1 2013.6h0M1642.1 2014.1h0" stroke="#b1752a" stroke-width="6.6" stroke-linecap="round"/><path d="M1575.2 2167.8h0M1567.2 2155.2h0" stroke="#ac782b" stroke-width="6.6" stroke-linecap="round"/><path d="M1529.9 2073.9h0M1519.2 2001.2h0M1518.9 2036.3h0M1524.4 2002.6h0M1513.1 2067.1h0M1632.8 1869.9h0M1596 1860.6h0M1553 2008.4h0M1575.8 1956.5h0M1625.6 1862.9h0M1541.4 1946.2h0M1587.7 1919.8h0M1594.9 1889.7h0M1592.2 1883.6h0M1605.1 1910.5h0M1531.6 1999.4h0M1611.4 1890h0M1595.3 1924h0M1516.4 2046.7h0M1545.6 2031.2h0M1522.3 2133.7h0M1568.9 1917.1h0M1504.8 2049.5h0M1513.6 2018.4h0M1615.5 1846.6h0M1591.4 1866.1h0M1582 2037.8h0M1598.2 1844.7h0M1527.5 1977.1h0M1502.6 2014.7h0M1565.4 1990.3h0M1519.3 2030.6h0M1559.2 2014.4h0" stroke="#0d9a7c" stroke-width="6.6" stroke-linecap="round"/><path d="M1500.8 2005.3h0M1494.3 2020.3h0M1509.5 2006.3h0M1494.3 2031.2h0M1502.3 2073.7h0" stroke="#489c42" stroke-width="6.6" stroke-linecap="round"/><path d="M1602.3 2122.6h0M1678.6 1920h0M1602.3 2134h0M1601.2 2054h0M1612.1 2054.3h0M1607.2 2131.9h0M1591.7 2042.4h0M1530.7 1932.8h0" stroke="#e13871" stroke-width="6.6" stroke-linecap="round"/><path d="M1548.7 1982.2h0M1655.3 1947.6h0M1514.3 2059.3h0M1530.2 2114.7h0M1500 2051.4h0M1639.1 1897.1h0M1494.1 2068.4h0M1523.3 2029h0M1554.6 1940.9h0M1504.6 2091.3h0M1547.4 2087.5h0M1544.4 2142.3h0" stroke="#289a49" stroke-width="6.6" stroke-linecap="round"/><path d="M1674.5 1981.2h0M1692.8 1915h0M1650.6 1994.9h0M1626.9 2025h0M1705.8 1844.6h0M1714.4 1873.6h0M1707 1910h0M1694.6 1832.6h0M1631.3 2054.7h0M1609.4 2152.5h0M1706.4 1904.8h0M1701.2 1888.5h0M1645.4 2014.5h0M1589.8 2142.5h0M1631.4 2013.4h0M1702 1752.9h0" stroke="#cc5f35" stroke-width="6.6" stroke-linecap="round"/><path d="M1512.1 2005.7h0M1571.9 2019h0M1607.7 1965.1h0M1687.3 1722.5h0M1580.3 2018h0M1608.3 1933.7h0M1627.2 1934.5h0M1668.4 1812.7h0M1633.8 1907.3h0M1675.5 1811.3h0M1687.3 1821.2h0M1593.8 1951.8h0M1605.2 1964.4h0M1701.6 1860.4h0M1679.5 1833.6h0M1641.9 1886.3h0M1584.1 2008.7h0M1587.5 1993.7h0M1597.1 1975.4h0M1667.4 1870.2h0M1620.8 1924h0M1572.5 2010.8h0M1689.5 1865.3h0M1703.6 1841.1h0M1582.5 1985.9h0" stroke="#5680c7" stroke-width="6.6" stroke-linecap="round"/><path d="M1523.5 2084.6h0M1604 1884.2h0M1594.8 1852.4h0M1548.3 1920.5h0M1636.3 1839.4h0M1539.1 1968.2h0M1533.4 2056.6h0M1584.6 1902.1h0M1567.2 1914.2h0M1527.6 2003.4h0M1532.9 2105.1h0M1560.9 1932h0M1535.1 2145.5h0M1580 1939.4h0M1515.1 2074.9h0M1546.5 1970.1h0M1631.5 1855.7h0M1572 1911.9h0M1537.6 1940.3h0M1527.6 2058.9h0M1630.9 1862h0M1583 1938.6h0M1545.5 1969.8h0M1593.8 1908.1h0M1578.7 1893.2h0M1601.8 1865.7h0M1526.4 1972.6h0M1628.1 1832.7h0M1525.4 2112.6h0M1556.4 2020.1h0M1644.8 1780.7h0M1511.2 2101.8h0M1527.6 1966.7h0M1540.3 1942.2h0M1587.3 1916.4h0" stroke="#0e9985" stroke-width="6.6" stroke-linecap="round"/><path d="M1617.9 2020.3h0M1629.3 2057.6h0M1529.3 2217.7h0M1581.3 2045.8h0M1595.5 1849.4h0M1603.9 2052.5h0M1583.8 2133.2h0M1523.1 2219.3h0M1592.5 2038.3h0M1580.6 2072.6h0M1583.2 2060.9h0M1582.7 2212.4h0M1625.1 2012.7h0" stroke="#b7449a" stroke-width="6.6" stroke-linecap="round"/><path d="M1474.3 2111.5h0M1496.4 2034.9h0M1572.1 1891.8h0M1506.3 2097.7h0M1514.1 2110.4h0M1502.9 1974.3h0M1508.2 1947.7h0M1493 2060.1h0M1527.7 1936.3h0M1516.9 2156.5h0M1538.7 1933.5h0M1638.1 1751.7h0M1496.6 2034.5h0M1531.5 1922.3h0M1631.5 1759.6h0M1580.6 1857.1h0M1507.2 1989.1h0" stroke="#539a40" stroke-width="6.6" stroke-linecap="round"/><path d="M1568.9 1881.4h0M1496.5 2061.6h0M1506 2110.1h0M1493.5 2037.4h0M1502.9 2048.7h0M1504.6 2071.3h0" stroke="#a47b2e" stroke-width="6.6" stroke-linecap="round"/><path d="M1579.3 1969.2h0M1610.7 2084h0M1542.9 2087.6h0M1587.4 2128.8h0M1610.1 1816.4h0M1584.1 2040.6h0M1630.7 2057.4h0M1629.8 2033.3h0" stroke="#e23377" stroke-width="6.6" stroke-linecap="round"/><path d="M1576.8 1841.2h0M1645.8 1735.6h0M1505.8 2011.9h0M1519.5 1975.1h0M1683.3 1712.8h0M1617.6 1763.2h0M1506.7 1968.9h0M1562.7 1869.5h0M1584.8 1818.2h0" stroke="#898834" stroke-width="6.6" stroke-linecap="round"/><path d="M1591.1 2187.9h0M1585.9 2124.1h0M1613.5 2100h0M1580.6 2141.7h0M1592.3 2126.5h0M1584.9 2129.8h0M1582.6 2046.5h0M1645.5 2019.2h0M1607.5 2056.4h0M1643.6 2036.5h0M1667 1779.5h0M1578.6 2119.8h0M1584.7 2101.2h0" stroke="#dd2b92" stroke-width="6.6" stroke-linecap="round"/><path d="M1579.1 1976.3h0M1494.1 1998.3h0M1503.9 1968.5h0M1518.1 1960.4h0M1513.3 1962h0M1490.1 1994h0" stroke="#769139" stroke-width="6.6" stroke-linecap="round"/><path d="M1605.2 1922.7h0M1631.5 1889.9h0M1666.2 1857.4h0M1634 1907.1h0M1650.5 1884h0M1619.6 1905.5h0M1647.1 1873.9h0M1600.3 1944.7h0M1584.8 1980.5h0M1648.2 1838.6h0M1680.7 1828.2h0M1691.3 1758.4h0M1676.6 1757.2h0M1582.5 1976.6h0M1676.7 1848h0M1641.3 1862.6h0M1679.4 1801.4h0M1557.2 2018.3h0M1675.4 1848.1h0M1700.7 1811.5h0M1613 1910.6h0M1643.4 1882.9h0M1666.2 1803.1h0" stroke="#3c87cf" stroke-width="6.6" stroke-linecap="round"/><path d="M1572 1871.2h0M1555.3 1916.8h0M1508.8 1981.8h0M1555.8 1893.6h0M1613.5 1873h0M1497.1 2002.3h0M1493.6 2013.6h0M1546.2 1902h0M1566.6 1896.6h0M1513.7 1948.3h0M1614.9 1775.3h0M1506.2 1960.8h0M1498.8 1990.5h0" stroke="#848b35" stroke-width="6.6" stroke-linecap="round"/><path d="M1609.8 1907.1h0M1554.8 2102.7h0M1582.1 1875.4h0M1528.7 1983.6h0M1610.1 1880.5h0M1532 2042.8h0M1581.4 1909.7h0M1507.9 2047.9h0M1540 2150.4h0M1530.7 2100.8h0M1503.5 2056.9h0M1530.6 1988h0M1579.5 1912.7h0M1627.2 1873.8h0M1542 2053.9h0M1557.2 1954.1h0M1565.8 1966.6h0M1529.6 2072.6h0M1579.5 1905.7h0" stroke="#1d994d" stroke-width="6.6" stroke-linecap="round"/><path d="M1696.7 1917.7h0M1561.6 2133.2h0M1588.7 2042.9h0M1573.4 2141.4h0M1630.8 1852.3h0M1610.8 2040.4h0M1574.6 2098.1h0M1603.9 2064h0M1596.3 2076h0M1574.9 2101.4h0M1600.6 2061.9h0M1576.6 2105.3h0M1527.3 1918.3h0M1573.5 2055.6h0" stroke="#a84d9e" stroke-width="6.6" stroke-linecap="round"/><path d="M1673 1921h0M1677.5 1911.8h0M1561.5 2111.9h0M1559.7 2109h0M1547.3 2099.1h0M1653.9 1915.1h0M1550.4 2145.5h0M1619.5 1980h0M1660.4 1802.3h0M1633.4 1975.2h0M1655.3 1935.2h0M1678.3 1885.8h0M1583.3 2255.7h0M1623.1 1980.3h0M1641.2 1956.2h0M1610.4 2024.8h0M1670.3 1910h0M1610.8 1984.9h0M1560.9 2109.8h0M1639.9 1951.4h0M1602.2 2023.8h0" stroke="#8460ac" stroke-width="6.6" stroke-linecap="round"/><path d="M1686.7 1901.5h0M1683.4 1925h0M1705.6 1882.7h0M1729 1869.8h0M1702.9 1875.1h0M1729 1827.1h0M1741.6 1856.5h0M1670 1995.8h0M1724.6 1830.8h0M1679.3 1921.3h0M1662.3 1976.9h0M1649.2 1990.3h0M1686.9 1956.8h0M1668.6 1957.4h0M1556.4 2009.2h0M1712.6 1842.2h0M1675.1 1962.2h0M1706.9 1920.3h0M1711.6 1814.9h0" stroke="#df4264" stroke-width="6.6" stroke-linecap="round"/><path d="M1594.3 1835.5h0M1655.9 1887.7h0M1674.4 1846.9h0M1579.4 1930.1h0M1600.7 1837h0M1638.1 1817.8h0M1632 1868.2h0M1573.3 1950.4h0M1594.5 1833.5h0M1566.5 1939.9h0M1671.2 1776.3h0M1611 1838.4h0" stroke="#1694a4" stroke-width="6.6" stroke-linecap="round"/><path d="M1618.3 1796h0M1530.2 1931.5h0M1583.7 2034.3h0M1637.9 1751.8h0M1514.5 1967.2h0M1500.2 2022.6h0" stroke="#8d8533" stroke-width="6.6" stroke-linecap="round"/><path d="M1604.9 2074.7h0M1622.7 2059.3h0M1634.7 2009.2h0M1599.8 2158h0M1640.6 1979.1h0M1600.2 2145.7h0M1602.5 2130.9h0M1597.7 2132.5h0M1595.6 2135.8h0M1610 2118.1h0M1600.6 2143.5h0" stroke="#c16a2a" stroke-width="6.6" stroke-linecap="round"/><path d="M1702.6 1882.8h0M1727.3 1821.7h0M1637.2 2040.6h0M1666.9 1981.6h0M1665.8 1980.5h0M1620 1933.1h0M1702.1 1898.2h0" stroke="#e03d6b" stroke-width="6.6" stroke-linecap="round"/><path d="M1495.8 2011.3h0M1568.2 1882.6h0M1571.5 1860.9h0M1496.7 1997.9h0M1558.1 2270.9h0M1597.8 1801.3h0M1525.1 1961.3h0M1586.2 1833.6h0M1507 1988.4h0M1519.3 1947.5h0" stroke="#66963c" stroke-width="6.6" stroke-linecap="round"/><path d="M1680.1 1845.3h0M1642.9 1919.5h0M1593.3 2031.6h0M1631.4 1971.5h0M1557.6 2098h0M1616.6 2007.2h0M1562.8 2034.1h0M1691.7 1707.6h0M1677.1 1860h0M1539.7 2096.5h0M1695.8 1857.5h0M1551 2035.2h0M1586.7 1948.6h0M1549.9 2150h0M1693.7 1821.4h0M1684.9 1877.1h0M1684.7 1802.3h0M1565.2 2017.5h0" stroke="#6b72b8" stroke-width="6.6" stroke-linecap="round"/><path d="M1649.8 1967.2h0M1566.7 2087.6h0M1556.5 2044.4h0M1621.1 1965.1h0M1658.1 1924.9h0M1621.4 1954h0M1668.2 1891h0M1618 1978.2h0M1660.5 1902.5h0M1580.8 2035.4h0M1562.1 2062.9h0" stroke="#7767b2" stroke-width="6.6" stroke-linecap="round"/><path d="M1718.2 1845.5h0M1620.6 2034.6h0M1499.9 2095.7h0M1511.7 2137.9h0M1656.4 2007.4h0M1627.2 1825.9h0M1561.3 1902.3h0M1569.2 1867.7h0M1501.2 2068.6h0" stroke="#9b7e2f" stroke-width="6.6" stroke-linecap="round"/><path d="M1652.2 1961.4h0M1679.3 1894h0M1675.5 1896h0M1567.2 2057.7h0M1560.4 2160.7h0M1552 2067.7h0M1659.1 1899.7h0M1557.4 2124.6h0M1566.3 2080.6h0M1561.9 2062.9h0M1553.7 2047.3h0M1614.4 1998.1h0M1607.1 1992.5h0M1630.5 1985.8h0M1657.2 1935.4h0M1610 2029.6h0M1683.4 1882.6h0M1548 2154.2h0M1667.7 1920.4h0M1551.5 2061.3h0" stroke="#7469b3" stroke-width="6.6" stroke-linecap="round"/><path d="M1641.2 1772.3h0M1631.9 1894.4h0M1643.2 1896.2h0M1643.4 1824.4h0M1661.9 1841.7h0M1631.3 1802.2h0M1673.5 1839.6h0M1680.9 1725h0M1634 1839.8h0M1652.6 1758.7h0M1687.9 1723h0M1668.8 1767h0M1646.1 1886.2h0M1602.7 1842.6h0M1622.5 1926h0M1657 1838.9h0M1643.5 1817.9h0" stroke="#1d90b3" stroke-width="6.6" stroke-linecap="round"/><path d="M1733.4 1848.9h0M1732.7 1875.1h0M1683.9 1973.9h0M1724 1834.3h0M1686.4 1925.1h0M1699.6 1923.7h0M1717.4 1796.6h0M1722.9 1812.4h0M1715.5 1854.3h0M1696.1 1693.8h0M1658.6 1964.4h0M1653.2 1998.6h0M1701.8 1867.5h0M1663.8 1991.5h0M1715.7 1841.4h0M1688.4 1932.3h0M1711.8 1748.8h0M1662.2 1948.7h0M1638.9 2038.7h0M1610.2 2055.6h0M1659.1 1968h0M1735.3 1857.8h0M1680.8 1914.9h0M1709.2 1879.8h0M1670.7 1984.4h0M1522.6 2025.7h0M1724.9 1861.7h0" stroke="#d55348" stroke-width="6.6" stroke-linecap="round"/><path d="M1607.5 1935.8h0M1688.8 1879.1h0M1579.3 1985.5h0M1612.6 1914.3h0M1612.4 1955.3h0M1677.4 1857.2h0M1684.8 1853.5h0M1577.4 1993.6h0M1599 1996.9h0M1559.7 2081.4h0M1670 1835h0M1680 1849.7h0M1558.5 2117.7h0M1704.7 1857.1h0M1580.7 2033.2h0M1686.2 1832.4h0M1671.7 1825.7h0" stroke="#6776bb" stroke-width="6.6" stroke-linecap="round"/><path d="M1594.2 2082.8h0M1611.6 2076.2h0M1603.8 2046h0M1560.5 2123.6h0M1548.7 2104h0M1703.6 1733.1h0M1706.2 1821.5h0M1640.3 2022.6h0M1571.2 2253.9h0M1591.6 2075.6h0M1637.8 2019.3h0M1607.2 2075.1h0M1582.7 2052.2h0M1602.7 2043.8h0M1602.2 2074.5h0M1617.1 2059.9h0M1634.3 2028.2h0" stroke="#bf4099" stroke-width="6.6" stroke-linecap="round"/><path d="M1664 1817.1h0M1637.7 1893.2h0M1661.4 1841.1h0M1628.8 1882.8h0M1584.3 1981.4h0M1596.2 1981.9h0M1590.2 1964.5h0M1582.6 2004.4h0M1656.6 1860.5h0M1576.7 2000.2h0M1565 1985.6h0M1642.1 1899.6h0M1654.7 1836.1h0" stroke="#2b8cc2" stroke-width="6.6" stroke-linecap="round"/><path d="M1560.3 2038.3h0M1684.6 1958.5h0M1529.3 2000.9h0M1532.5 2187.4h0M1499 2058.5h0M1493.1 2074.5h0M1543.6 1963.7h0M1507.6 2088.8h0M1530 1957.1h0M1542.8 1924.6h0M1453.2 2135.3h0M1503.9 2051.7h0M1490.8 2072.2h0M1509.5 1973.5h0" stroke="#379b46" stroke-width="6.6" stroke-linecap="round"/><path d="M1551.5 2016.5h0M1617.5 1869.6h0M1535.9 2014.7h0M1542.3 2135.7h0M1532.8 1954.9h0M1541.8 2147h0M1506.9 2025.4h0M1587.6 1924.8h0M1543.2 2110.1h0M1521.8 2019.7h0M1518 2037.3h0M1587.4 1911.7h0M1515.6 2053.3h0M1579.2 1949.4h0M1543.8 1999.9h0M1519.3 1989.4h0M1523 2037.3h0M1704.6 1863.6h0M1556.3 1948.1h0M1523.1 2026.1h0M1524.3 2126.2h0M1562.2 1943h0M1622.4 1884.1h0M1579.1 1883.6h0M1545.6 1999.7h0M1542.1 2131.3h0" stroke="#0b996e" stroke-width="6.6" stroke-linecap="round"/><path d="M1623.9 1943.6h0M1686 1791.3h0M1597.4 1997.3h0M1557 2128.6h0M1607.2 1959.7h0M1595.8 1949.3h0M1566.5 2010.8h0M1568.8 2003.9h0M1587.4 2001.4h0M1691 1852.9h0M1626.3 2028.4h0M1628.9 1904.6h0M1679.5 1825h0M1600.9 1969.6h0M1618.8 1912.1h0M1693.1 1870.6h0M1686.3 1797.3h0M1705.2 1837.7h0M1614.6 1913.3h0M1703.5 1863.7h0M1676.9 1810.6h0M1577 2015h0M1621 1924.6h0M1591 1971.9h0M1599.3 1937.1h0" stroke="#607bc0" stroke-width="6.6" stroke-linecap="round"/><path d="M1685.5 1773.9h0M1693.9 1843.2h0M1607.8 1990h0M1685.9 1811.5h0M1591.4 1939.3h0M1575.8 2007.5h0M1676.6 1847.8h0M1599.8 1977.4h0M1612.2 1951.4h0M1697.1 1760.7h0M1699.5 1842.4h0M1563.6 2008h0M1658.4 1770.4h0M1570.4 1991.2h0M1697.5 1723.8h0M1691.1 1857.8h0M1599.5 1933.9h0M1650 1894.8h0M1615.4 1953h0M1598.3 1964.9h0M1630.8 1915.1h0M1635.4 1900.7h0M1638.3 1904.6h0M1633.1 1879h0M1612.4 1938.1h0M1631.5 1916.7h0M1702.9 1860.6h0M1688.9 1719.4h0M1566.2 1995.1h0M1687.4 1764.6h0M1697.8 1825h0M1693.9 1867.6h0M1599 1946.1h0" stroke="#4a84cc" stroke-width="6.6" stroke-linecap="round"/><path d="M1583.9 1919.1h0M1685.7 1811.4h0M1636.2 1883.4h0M1598.7 1947.5h0M1676.5 1845h0M1667.7 1788.1h0M1693.6 1821.1h0M1637.4 1882.1h0M1607.3 1953.6h0M1690.5 1798.9h0M1584.1 1966.8h0M1660.9 1881.2h0M1663.8 1762.2h0M1586.2 1948.3h0M1591.1 1965.7h0M1629.9 1893.9h0M1602 1958.9h0M1632.2 1867.6h0M1579.9 2014.6h0M1566.2 2005.6h0M1563.4 2001.2h0M1643.5 1869.6h0M1575 1962.8h0M1569.5 1996.4h0M1691.2 1741.6h0M1567.7 2018.1h0" stroke="#338aca" stroke-width="6.6" stroke-linecap="round"/><path d="M1513 1968.3h0M1494.5 2028h0M1529.7 1927.4h0M1565.5 1901.7h0M1533.9 1948.3h0M1492.5 2015.2h0M1595.6 2048.4h0M1584.6 1821.1h0M1567 1893.9h0M1496.2 2031h0M1555.8 1895.4h0M1584.7 1859.6h0M1518.6 1954.3h0M1567.3 1872.5h0M1514.8 2042.4h0M1483.8 2020.7h0" stroke="#6e943a" stroke-width="6.6" stroke-linecap="round"/><path d="M1552.1 1991.4h0M1589.1 1943.1h0M1595.8 1871h0M1602.8 1891.7h0M1517.3 2047.1h0M1555.7 1963.6h0M1533.1 2159.5h0M1535.3 1997.2h0M1542.2 2127.8h0M1575 1947h0M1595.2 1870.2h0M1527 1976h0M1521.3 2111h0M1615.9 1891.8h0M1527.7 2103.2h0M1542.4 2055h0M1540.7 2109.9h0M1601 1904h0M1519 1984.3h0M1570.2 1976h0M1544 2117.7h0M1565 1935.8h0M1536.1 1957.4h0M1583.5 1938.2h0M1537 2051.3h0M1627.5 1850.3h0" stroke="#0d9961" stroke-width="6.6" stroke-linecap="round"/><path d="M1553.6 2145h0M1674.1 1884.7h0M1615.6 1972h0M1666.6 1883.1h0M1563.2 2032.5h0M1653.6 1907.3h0M1684.9 1895.5h0M1546.3 2092h0M1644.9 1944.7h0M1627.4 1963.4h0M1633.8 1950.2h0M1563.4 2126.5h0M1564.3 2028.8h0M1548.4 2248.3h0M1572.9 2057.7h0M1677.5 1877h0M1645.7 1940.2h0M1646.9 1915.5h0M1554.2 2060.8h0M1671.5 1882.3h0M1621.5 1941.7h0M1645.3 1975.8h0M1614.4 1988.6h0M1645.9 1909.1h0M1567.1 2062.5h0M1561 2050.1h0M1567.2 2135h0M1591.4 1990h0" stroke="#7d64af" stroke-width="6.6" stroke-linecap="round"/><path d="M1641.2 2023h0M1544.8 2045.8h0M1615.3 2092.3h0M1608.4 2086.3h0M1633.3 1953.8h0M1633.2 2013.2h0M1605.6 2147.8h0M1625.4 2065.3h0M1611.4 2088h0" stroke="#b57229" stroke-width="6.6" stroke-linecap="round"/><path d="M1641.8 1993.8h0M1606.5 2042.3h0M1603.8 2067.9h0M1582.9 2065.7h0M1606 2169.4h0M1570.1 2128.3h0M1574.3 2074.9h0M1599.1 2170.3h0M1585.4 2051.4h0M1615.9 2066.9h0M1598.3 2061.4h0M1591.1 2058.7h0" stroke="#af499c" stroke-width="6.6" stroke-linecap="round"/><path d="M1565.7 2156.6h0M1554.6 2092.6h0M1585.4 2026.1h0M1625.9 1993.6h0M1648.5 1989.3h0M1562.7 2046.1h0M1562 2032.3h0M1654.1 1910.4h0M1672.4 1870.5h0M1559.8 2048.2h0M1557.5 2116.2h0M1548.5 2125.7h0M1631.1 2000.8h0M1560.3 2067.4h0M1643.5 1959h0M1638.6 1929.7h0M1594 2025.4h0M1596.8 1989.2h0M1601.5 1981.9h0M1668.1 1922.1h0M1673.5 1894.4h0M1623.6 1962.8h0M1634.7 1991.1h0M1604.9 1993.1h0M1561.2 2109.2h0M1562 2029.4h0" stroke="#706db6" stroke-width="6.6" stroke-linecap="round"/><path d="M1702.8 1918.9h0M1656.7 1975.6h0M1669.7 1962h0M1709.3 1877.8h0M1630.7 1898.2h0M1667.4 1953.7h0M1667.8 1976.3h0M1706.7 1744.1h0M1713.5 1755.9h0M1722.3 1899.1h0M1698.7 1907h0M1623.4 2027.5h0M1623.2 2025.4h0M1645.5 1993.2h0M1704.5 1864.6h0M1724.1 1881.9h0M1684.7 1897.7h0M1621.4 2033.9h0M1600.5 2118.7h0M1685.1 1900.2h0M1676.5 1927.4h0M1664.6 2002.3h0" stroke="#d1593e" stroke-width="6.6" stroke-linecap="round"/><path d="M1638.2 1949.9h0M1638.6 1951h0M1606.6 1987.7h0M1565.6 2107.7h0M1647.1 1938.7h0M1606.1 2028.1h0M1585.1 2034.2h0M1659.7 1932.9h0M1543.9 2170.3h0M1603.9 2013.5h0M1636.7 1985.1h0M1641.5 1943.2h0M1635.5 1980.4h0M1639.4 1964.9h0" stroke="#885eaa" stroke-width="6.6" stroke-linecap="round"/><path d="M1592.8 2122.8h0M1606.4 2121.9h0M1638.4 2046.8h0M1643.8 1986.4h0M1629.7 2067.6h0M1600.7 2112.3h0M1708.3 1808.1h0M1638.3 2019.8h0M1596.8 2100.9h0M1579.3 2017.4h0" stroke="#c8652d" stroke-width="6.6" stroke-linecap="round"/><path d="M1575.9 2040.6h0M1689.9 1898.9h0M1601.1 2031.2h0M1560.5 2051.9h0M1673.7 1916.6h0M1674.6 1791.5h0M1559.7 2079.8h0M1619.1 2009.2h0M1559.4 2049.3h0M1558.1 2063.4h0M1602.8 2015.3h0M1554.2 2042.6h0M1593.5 2008.8h0M1674.9 1911.4h0M1597.1 2020.9h0M1577.6 2050.1h0M1630.8 1928.1h0M1611.6 1964.5h0M1664.7 1920.7h0M1634.1 1936.8h0" stroke="#7a66b0" stroke-width="6.6" stroke-linecap="round"/><path d="M1594.5 1804.4h0M1504.5 2100h0M1569.5 1892.6h0M1514.6 1933.8h0M1499 2109.3h0M1561.3 1871.1h0M1511.2 2111h0M1507.3 2072.4h0M1567.5 1999.9h0M1595.4 2111.4h0" stroke="#968030" stroke-width="6.6" stroke-linecap="round"/><path d="M1565.2 1888.7h0M1500 2005h0M1568 1857.9h0M1583.5 1861.9h0M1594.9 1815.3h0M1569.3 1879.9h0M1644.8 1877.3h0M1571.4 1856.8h0M1503.6 2071h0M1551.3 1908.8h0M1529.5 1944.8h0" stroke="#928331" stroke-width="6.6" stroke-linecap="round"/><path d="M1622 2006.5h0M1550.1 2097.8h0M1607.4 2022.2h0M1653.3 1932.8h0M1634.3 1960.9h0M1639.9 1958.8h0M1619.7 1965.9h0M1625 1957.2h0M1608.4 2033.8h0M1607.8 1987.7h0M1676.5 1889.7h0M1621.7 1967.2h0M1695.4 1885.3h0M1644.1 1965.8h0M1560 2047.8h0M1606.8 2010.3h0M1591.7 2005.6h0M1552.6 2066h0" stroke="#8062ad" stroke-width="6.6" stroke-linecap="round"/><path d="M1569.1 2151.6h0M1570.1 2111.9h0M1572.3 2124.2h0M1601.1 2096.1h0M1615.9 2076.9h0M1717.4 1800.5h0M1572.9 2156.9h0M1584.6 2138.7h0M1577.3 2218h0M1607.1 2051.4h0M1577.2 2136.3h0" stroke="#cd3796" stroke-width="6.6" stroke-linecap="round"/><path d="M1572 2133.9h0M1603.2 2106.2h0M1601.8 1974.9h0M1603.5 1829.4h0M1584.2 2071.6h0M1599.5 2130.3h0M1574.8 2084.3h0M1594.4 2072.5h0M1590 2110.2h0M1632.6 1990.9h0M1580.4 2047.6h0" stroke="#a051a0" stroke-width="6.6" stroke-linecap="round"/><path d="M1531.1 2101.2h0M1659.9 1951h0M1533.3 2072.3h0M1639 1893.6h0M1652.9 1792.1h0M1598.6 1818.6h0M1647.2 1772.9h0M1550.9 1933.9h0M1518.8 2001.8h0M1640.2 1819.6h0M1578.7 1903.3h0M1639.1 1771.6h0M1524.8 1970.6h0M1509.7 2100.8h0M1549.4 1924.2h0M1517 2099.4h0M1610 1892.6h0M1638.5 1772.5h0M1637 1765h0M1533.8 2040.9h0M1566.6 1986.2h0M1518.6 2061.3h0M1661.5 1738h0M1534.6 2056.6h0M1519.5 1994.2h0M1529.5 2120.7h0M1533.5 2010.3h0M1543.2 2041h0" stroke="#13969c" stroke-width="6.6" stroke-linecap="round"/><path d="M1657.5 1923.6h0M1699.5 1873.4h0M1636.5 1959h0M1607.8 1993.1h0M1712.4 1833.7h0M1626.8 1929.9h0M1627.2 2012.3h0M1642.6 1978.7h0M1578 2166.5h0" stroke="#8c5ca8" stroke-width="6.6" stroke-linecap="round"/><path d="M1591.8 2162h0M1600.9 2075.8h0M1633.4 2053.1h0M1604.3 2158.8h0M1611.5 2072.4h0M1545.6 2028.8h0M1624.8 2051.8h0M1592.8 2154h0M1599.2 2104.7h0M1645 2030.1h0M1617.3 2057.4h0M1683.6 1917.1h0" stroke="#ba6f28" stroke-width="6.6" stroke-linecap="round"/><path d="M1542.1 1915.8h0M1556.2 1902.2h0M1500.1 2015.1h0M1508.4 1958.9h0M1520.6 1964.8h0M1518.1 1946.6h0M1532.6 1943.8h0M1572.3 1852.7h0" stroke="#5c983e" stroke-width="6.6" stroke-linecap="round"/><path d="M1315.1 2270L1311.2 2273.9L1307.3 2269.9L1311.2 2266.1ZM1329.3 2256L1325.3 2259.8L1321.5 2255.9L1325.4 2252ZM1343.4 2241.9L1339.5 2245.8L1335.6 2241.9L1339.6 2238ZM1357.6 2227.9L1353.7 2231.8L1349.8 2227.8L1353.7 2224ZM1371.8 2213.9L1367.9 2217.7L1364 2213.8L1367.9 2209.9ZM1386 2199.8L1382.1 2203.7L1378.2 2199.8L1382.1 2195.9ZM1400.2 2185.8L1396.2 2189.7L1392.4 2185.7L1396.3 2181.9ZM1414.3 2171.8L1410.4 2175.6L1406.5 2171.7L1410.5 2167.8ZM1428.5 2157.7L1424.6 2161.6L1420.7 2157.7L1424.6 2153.8ZM1442.7 2143.7L1438.8 2147.6L1434.9 2143.6L1438.8 2139.8ZM1456.9 2129.7L1453 2133.5L1449.1 2129.6L1453 2125.7ZM1471.1 2115.6L1467.1 2119.5L1463.3 2115.6L1467.2 2111.7ZM1485.2 2101.6L1481.3 2105.5L1477.4 2101.5L1481.4 2097.7ZM1499.4 2087.5L1495.5 2091.4L1491.6 2087.5L1495.5 2083.6ZM1513.6 2073.5L1509.7 2077.4L1505.8 2073.5L1509.7 2069.6ZM1527.8 2059.5L1523.9 2063.4L1520 2059.4L1523.9 2055.6ZM1542 2045.4L1538 2049.3L1534.2 2045.4L1538.1 2041.5ZM1556.1 2031.4L1552.2 2035.3L1548.3 2031.4L1552.3 2027.5ZM1570.3 2017.4L1566.4 2021.3L1562.5 2017.3L1566.4 2013.5ZM1584.5 2003.3L1580.6 2007.2L1576.7 2003.3L1580.6 1999.4ZM1598.7 1989.3L1594.8 1993.2L1590.9 1989.3L1594.8 1985.4ZM1612.9 1975.3L1608.9 1979.2L1605.1 1975.2L1609 1971.4ZM1627 1961.2L1623.1 1965.1L1619.2 1961.2L1623.2 1957.3ZM1641.2 1947.2L1637.3 1951.1L1633.4 1947.2L1637.3 1943.3ZM1655.4 1933.2L1651.5 1937.1L1647.6 1933.1L1651.5 1929.3ZM1669.6 1919.1L1665.7 1923L1661.8 1919.1L1665.7 1915.2ZM1683.8 1905.1L1679.8 1909L1676 1905.1L1679.9 1901.2ZM1697.9 1891.1L1694 1895L1690.1 1891L1694.1 1887.2ZM1712.1 1877L1708.2 1880.9L1704.3 1877L1708.2 1873.1ZM1726.3 1863L1722.4 1866.9L1718.5 1863L1722.4 1859.1ZM1740.5 1849L1736.6 1852.9L1732.7 1848.9L1736.6 1845.1ZM1754.7 1834.9L1750.7 1838.8L1746.9 1834.9L1750.8 1831ZM1768.8 1820.9L1764.9 1824.8L1761 1820.9L1765 1817ZM1783 1806.9L1779.1 1810.8L1775.2 1806.8L1779.1 1803ZM1797.2 1792.8L1793.3 1796.7L1789.4 1792.8L1793.3 1788.9ZM1811.4 1778.8L1807.5 1782.7L1803.6 1778.8L1807.5 1774.9ZM1825.6 1764.8L1821.6 1768.7L1817.8 1764.7L1821.7 1760.9ZM1839.7 1750.7L1835.8 1754.6L1831.9 1750.7L1835.9 1746.8ZM1853.9 1736.7L1850 1740.6L1846.1 1736.7L1850 1732.8ZM1868.1 1722.7L1864.2 1726.6L1860.3 1722.6L1864.2 1718.8ZM1882.3 1708.6L1878.4 1712.5L1874.5 1708.6L1878.4 1704.7ZM1896.5 1694.6L1892.5 1698.5L1888.7 1694.6L1892.6 1690.7ZM1910.6 1680.6L1906.7 1684.5L1902.8 1680.5L1906.8 1676.7Z" fill="#1a1a1a"/><path d="M1566.8 2083.2h0M1665.1 1885.8h0M1649.9 1976.6h0M1636.1 1948.2h0M1675.4 1882.4h0M1554.6 2080.2h0M1654.8 1942.1h0M1568.5 2093h0M1571.9 2047.5h0M1574.7 2057.5h0M1627 2011.4h0M1631.8 1999.7h0M1565 2055.8h0M1621 2007.8h0M1558.9 2039.5h0M1662.6 1905.2h0M1575.8 2040.3h0M1652.7 1904.2h0M1642.8 1955.7h0M1632.7 1972.6h0M1605.8 2099.6h0M1634.9 1933.2h0M1609.4 1990.6h0M1549.6 2154.6h0M1618.6 1966.1h0M1651.6 1939.3h0M1638.3 1976.1h0M1600.8 2012.4h0M1687.3 1887.2h0M1649.7 1953.5h0M1670.4 1918.6h0" stroke="#7767b2" stroke-width="6.6" stroke-linecap="round"/><path d="M1584.3 1899h0M1572.1 1975.4h0M1532 1929.1h0M1506.7 2068.1h0M1495.3 2001.9h0M1505.4 2103.1h0M1513.8 2097.9h0M1525.5 1969.5h0M1527.2 2048.5h0M1574.4 1841.2h0" stroke="#379b46" stroke-width="6.6" stroke-linecap="round"/><path d="M1671.9 1846.3h0M1660.9 1848.5h0M1586.3 2004.2h0M1643 1850.7h0M1660.7 1848.9h0M1608.7 1971.4h0M1651.7 1836.2h0M1680.6 1721.5h0M1662.2 1776.4h0M1581 1990.9h0M1644.4 1865.6h0M1571.2 1982.1h0M1664.9 1851.7h0M1628.7 1808.3h0M1697.4 1749.8h0M1669.2 1758.7h0" stroke="#248eba" stroke-width="6.6" stroke-linecap="round"/><path d="M1556.6 1900.2h0M1513.2 2101.6h0M1551 1903.2h0M1580.1 1877.1h0M1523.9 1980.4h0M1489.6 2018.3h0M1566.3 1884.8h0M1531.8 1924.2h0M1527.7 1942.9h0M1559.9 1912.2h0M1561.8 1895.3h0M1602 1794.7h0M1566.6 1900h0" stroke="#8d8533" stroke-width="6.6" stroke-linecap="round"/><path d="M1595.1 1989.9h0M1598 1981.4h0M1630.1 1946.8h0M1687.1 1840.2h0M1548.9 2117.7h0M1560.5 2013.6h0M1595.6 2007h0M1598.9 1961.5h0M1601.9 1950.7h0M1628 1910.6h0M1683.5 1846.8h0M1558.7 2111.4h0M1683.6 1833.2h0M1676.7 1831.7h0M1685.4 1729.4h0M1499.4 2013.1h0M1642.3 1941.3h0" stroke="#6776bb" stroke-width="6.6" stroke-linecap="round"/><path d="M1632.9 1811.2h0M1616.7 1822.9h0M1624.5 1884.3h0M1632.4 1864.6h0M1676.4 1757.8h0M1605.4 1806.5h0M1629.2 1837.6h0M1606.6 1835.6h0M1605.1 2033.9h0M1645.9 1797.4h0M1675.3 1774.9h0M1517.6 2047.4h0M1677.9 1731.1h0M1649.7 1843.6h0M1647.1 1847.3h0M1661.3 1870.6h0M1596 1823.1h0M1710.4 1778.6h0M1665.7 1780.3h0M1646.9 1865.8h0M1625.7 1839.6h0M1620.2 1826h0" stroke="#1a92ab" stroke-width="6.6" stroke-linecap="round"/><path d="M1606.3 2009.5h0M1609.1 1869.9h0M1527.2 1975h0M1635.9 1825.7h0M1512 2034.3h0M1548.3 1976.2h0M1657.7 1768.4h0M1546.9 2021.9h0M1541.4 2070.7h0M1522.3 2041.7h0M1583.8 1886.8h0M1501.4 2019.9h0M1621.9 1845h0M1592.2 1879.4h0M1614 1832.8h0M1638.9 1786.6h0M1666 1761.9h0M1589.5 1838.7h0M1576.6 1920h0M1662.9 1734.8h0M1591.3 1842.4h0M1562.5 1985.9h0M1554.8 1957.3h0M1544 2031.8h0M1546.1 1960h0M1540.8 2147.4h0M1615.2 1869.6h0M1521.4 2074.9h0M1537.3 2082.6h0M1605.7 1903h0M1514.6 2079h0M1618.4 1880.1h0" stroke="#119894" stroke-width="6.6" stroke-linecap="round"/><path d="M1619.8 1872.2h0M1631.8 1885.4h0M1592.8 1861.4h0M1529.8 1976.1h0M1620.4 1884.2h0M1584.5 1962.7h0M1546.9 1998.1h0M1541.3 2058.9h0M1609 1909.8h0M1563.9 1914.3h0M1608.4 1865.8h0M1555.8 2005.4h0M1546 1956.6h0M1555.1 2018.9h0M1607.2 1832.6h0M1507.4 2043.5h0M1537.1 2135h0M1603.2 1811.9h0M1521.1 2042h0M1552.5 1932.6h0M1546.1 1929.8h0M1606.4 1854.9h0M1566.3 1972h0M1595.6 1853.4h0M1570.9 1917.5h0M1550.7 2069.4h0M1627.4 1844.5h0M1520.4 2018.2h0M1575 1938.5h0M1564.4 1953.9h0M1553.9 1957h0M1532.7 1977.2h0M1584.6 1891h0M1514.1 2062.5h0M1533.2 2070.5h0M1603.1 1814.1h0M1552.6 1924.3h0M1609.3 1833.5h0M1584.8 2148.4h0M1531.5 2006.2h0M1581.9 1909.5h0M1617.1 1903.8h0M1573.1 1971.5h0M1625.9 1806.4h0M1524.4 2021.2h0M1563 1996.7h0M1543 1965.5h0M1537.1 2125.3h0M1541.3 2134.9h0M1627.6 1847.8h0M1531.3 1941.9h0" stroke="#0e9985" stroke-width="6.6" stroke-linecap="round"/><path d="M1524.8 1920.4h0M1529.5 1967.7h0M1667.8 1776.3h0M1545.6 1918.6h0" stroke="#5c983e" stroke-width="6.6" stroke-linecap="round"/><path d="M1661 1720.2h0" stroke="#9955a3" stroke-width="6.6" stroke-linecap="round"/><path d="M1594.4 2150.6h0M1587.3 2098.8h0M1602.4 2103.7h0M1573.6 2185.7h0M1571.3 2082h0M1566.2 2152.1h0M1570.5 2099.4h0M1585.1 2099.4h0M1557.8 2164.7h0M1611.6 2037.8h0M1569.3 2114h0M1596.4 2165.5h0M1594.1 2082h0M1597.5 2043.6h0M1588.3 2136.6h0M1580 2078.5h0" stroke="#b7449a" stroke-width="6.6" stroke-linecap="round"/><path d="M1588.5 1816h0M1647.1 1743.1h0M1617.9 1776.9h0M1534.1 1945.3h0M1603.2 1796.7h0M1511.4 1948.9h0M1509.3 1982.5h0M1492.3 2033.1h0M1644.2 1901h0M1682.9 1945.5h0M1535.2 1921.6h0M1480.9 2017.1h0M1553.5 2058.4h0" stroke="#6e943a" stroke-width="6.6" stroke-linecap="round"/><path d="M1521.3 2028.3h0M1530.6 2053h0M1592.8 1889.8h0M1565 1916h0M1590.6 1894.7h0M1528.7 2087.2h0M1529.7 1986.6h0M1534.7 2138.9h0M1524.6 2041h0M1551.9 2028h0M1532.4 2059.4h0M1603.8 1843.9h0M1600.6 1900h0M1532.5 2043.8h0M1619.5 1880.1h0M1523.4 2065.4h0M1539.8 2012.4h0M1542.9 1984.1h0M1545.4 1949.2h0M1566.5 1930.3h0M1529 2107.2h0M1526.4 1984.6h0M1532.4 2053.7h0M1570.1 1951.5h0M1566.4 1908.8h0M1673.1 1871.8h0M1600.5 1887h0M1525.3 2156.8h0M1593.6 1856.5h0M1534.3 2073.3h0M1570.5 1977.2h0M1522.6 2064.1h0M1524.5 2047.4h0M1567.3 1921.1h0" stroke="#0d9961" stroke-width="6.6" stroke-linecap="round"/><path d="M1531.4 2095.5h0M1530.4 1985.4h0M1588.4 1905.1h0M1564.5 1970.1h0M1577.9 2191.3h0M1514.9 2118.9h0M1510.3 2111.4h0M1518.7 2056.6h0M1547.7 2075.2h0M1582 2062.1h0M1555.5 2014.6h0" stroke="#289a49" stroke-width="6.6" stroke-linecap="round"/><path d="M1502.8 2061.2h0M1620.9 2030.9h0M1578.9 2220.7h0" stroke="#b1752a" stroke-width="6.6" stroke-linecap="round"/><path d="M1578.7 1817.5h0M1526.1 1940.4h0M1554.8 1891h0M1502.7 2036.1h0M1536 1930.4h0M1494.7 2026.1h0M1581.7 1823h0M1581.9 1820.8h0M1533.7 1937.5h0M1517.5 1967.9h0M1639.8 1733.6h0" stroke="#7d8e37" stroke-width="6.6" stroke-linecap="round"/><path d="M1591.3 2146.4h0M1592.5 2101.8h0M1620.9 2042.7h0M1580.3 2200.4h0M1628.9 2037.7h0" stroke="#c16a2a" stroke-width="6.6" stroke-linecap="round"/><path d="M1602.1 2103.3h0M1563 1952.3h0M1555.9 1949.9h0M1505.5 2017.8h0M1548.2 2081.5h0M1542.2 1956.8h0M1570.9 1971.3h0M1553.7 1970.5h0M1531.1 1981.8h0M1541.6 2003.9h0M1541.8 2028.4h0M1587 1901.9h0M1544.4 2017.9h0M1601 1879.7h0M1614.4 1884.6h0M1554.5 2004.9h0M1542.4 2059.9h0M1594 1879.1h0M1647.7 1921.3h0M1541.1 2057.2h0M1596.9 1917h0" stroke="#149955" stroke-width="6.6" stroke-linecap="round"/><path d="M1670.2 1908.8h0M1599.6 1999.8h0M1539.7 2075.5h0M1679.5 1883.2h0M1658.5 1887.7h0M1577.8 2052.8h0M1635.6 1946.5h0M1630.5 2003.8h0M1669.9 1892.1h0M1596.3 2021.9h0M1624 1978h0M1687 1874.5h0M1684.5 1882h0M1670.4 1843.7h0M1642.1 1930.5h0M1613.2 2032.4h0M1555.1 2046.6h0M1620.6 1990.9h0M1620.9 1980.3h0M1587.9 2001.1h0M1621.2 1991.6h0M1596.2 1937.7h0M1548 2101.8h0M1646.1 1961.5h0M1646.6 1951.3h0" stroke="#706db6" stroke-width="6.6" stroke-linecap="round"/><path d="M1491.2 2045.9h0M1511.5 2125h0M1500.7 2076.7h0M1524.7 1934.3h0M1584.3 1836.2h0M1623 1758.2h0" stroke="#968030" stroke-width="6.6" stroke-linecap="round"/><path d="M1625.1 1768h0M1488.1 2025.6h0M1687.1 1833.8h0M1504.2 2032.3h0M1510.2 1992h0M1503.4 2065.1h0" stroke="#898834" stroke-width="6.6" stroke-linecap="round"/><path d="M1537.7 1940.7h0M1561.3 1983.5h0M1591.5 1885.3h0M1571.3 1940.1h0M1592.6 1936.5h0M1600 1861.8h0M1608.4 1911.7h0M1595.6 1907.3h0M1530.8 2105.3h0M1550.2 2001.2h0M1599.5 1872.3h0M1555.6 2006h0M1506.3 2030h0M1579.3 1962.8h0M1529.6 1955.9h0M1487.7 2047.8h0M1547.7 1973.2h0M1551.7 2046.7h0M1526.1 1999.5h0M1489.6 2046.1h0M1511.4 2083.3h0M1510.5 2092h0M1513.2 2127.8h0" stroke="#1d994d" stroke-width="6.6" stroke-linecap="round"/><path d="M1638.3 1932.1h0M1557.4 2066.6h0M1573.1 2042.7h0M1562.6 2044.4h0M1673.1 1899.2h0M1625.1 1989.1h0M1557.7 2040.7h0M1674 1888.6h0M1549 2059.7h0M1604.6 2014h0M1636.2 1948.7h0M1602.9 2028.1h0M1625.3 1981h0M1575.9 2062.9h0M1670.1 1888.7h0M1644.6 1967.1h0M1553.6 2095.2h0M1612.8 1969.8h0M1645.8 1980.7h0M1587.6 2034.7h0M1546.9 2076.6h0M1648.2 1947.1h0" stroke="#7469b3" stroke-width="6.6" stroke-linecap="round"/><path d="M1656.8 1944.4h0M1644 1926.8h0M1558.5 2054.2h0M1621.6 1986.9h0M1567.7 2068.5h0M1656.6 1900.4h0M1634.6 1958.2h0M1656.9 1946.8h0M1565.2 2088.6h0M1555.9 2096.2h0M1589.4 2020.1h0M1650.2 1909h0M1614.8 1989.1h0M1643.3 1963.6h0M1684.8 1892.3h0M1552.4 2124.3h0M1640.4 1970.4h0M1599.3 2016.5h0M1557 2027.2h0M1671.1 1883.3h0M1630.5 1943.8h0M1563.8 2046.7h0M1686.3 1740.6h0M1554.3 2058.8h0M1556.6 2066.5h0M1592.9 2017.3h0M1613.3 1960.9h0" stroke="#7a66b0" stroke-width="6.6" stroke-linecap="round"/><path d="M1588.8 2054h0M1720.4 1820.7h0M1599 2069.7h0M1576.9 2199.4h0M1703.2 1828.6h0M1713.4 1820.3h0M1725.3 1892.3h0M1592.3 2110.2h0M1649.1 2009.5h0M1620.9 2017.4h0M1651.8 2019.4h0M1605.1 2145.2h0" stroke="#cc5f35" stroke-width="6.6" stroke-linecap="round"/><path d="M1573 2045.6h0M1625.1 2002.1h0M1592.8 2014.6h0M1668.9 1940.1h0M1648.4 1957h0M1646.9 1907.6h0M1569.1 2069h0M1551.4 2068h0M1565.8 2054.8h0M1604.8 2010.7h0M1519 1973.4h0M1594.6 2032.2h0M1669 1903.1h0" stroke="#8460ac" stroke-width="6.6" stroke-linecap="round"/><path d="M1580.1 2106.6h0M1580.9 2194h0M1697.3 1843.4h0M1625.2 2019.6h0M1646.7 2018.7h0M1627 2029.1h0M1571.9 2189.6h0M1654.9 2018.8h0M1653.6 1970.6h0M1585.2 2156.3h0M1606.3 2037.3h0M1574.3 2092.5h0M1594.9 2072.2h0M1629.6 2030.7h0" stroke="#dd2b92" stroke-width="6.6" stroke-linecap="round"/><path d="M1608.8 2046h0M1587.1 2187.9h0M1594 2110.4h0M1580.5 2193.4h0M1642.2 2029.5h0M1586.7 2127.8h0" stroke="#b57229" stroke-width="6.6" stroke-linecap="round"/><path d="M1612.2 1926.9h0M1678.4 1781.1h0M1654.9 1735.1h0M1630.4 1863.6h0M1646 1858h0M1670.4 1742h0M1607.1 1970.8h0M1601.6 1942h0M1567 2015.3h0M1642.7 1900.4h0M1619 1915.8h0M1657.5 1867.5h0M1687.3 1784.6h0M1608 1959.5h0" stroke="#2b8cc2" stroke-width="6.6" stroke-linecap="round"/><path d="M1596.3 2043.1h0M1601.9 2048.9h0M1721.2 1753.2h0M1633.3 2034.1h0M1654.6 1992.6h0" stroke="#e13871" stroke-width="6.6" stroke-linecap="round"/><path d="M1705.5 1858.3h0M1720.4 1902.2h0M1696.1 1724h0M1719.8 1877.2h0M1679.3 1904h0M1704 1770.8h0M1699 1841.6h0M1678.8 1962.6h0M1682.9 1949.6h0M1685 1906.5h0M1517.1 1988.9h0M1719.3 1803.6h0M1719 1760h0M1697.7 1934.1h0M1685.7 1941.8h0M1663 1970.6h0M1714.1 1851.7h0M1641.9 1976.2h0M1689.4 1897.3h0M1739.8 1854.5h0M1664 1982.3h0" stroke="#dd475c" stroke-width="6.6" stroke-linecap="round"/><path d="M1626.5 2052.1h0M1568.8 2269.4h0M1602.2 2201.1h0" stroke="#ba6f28" stroke-width="6.6" stroke-linecap="round"/><path d="M1611.3 2092.3h0M1605.8 2107.8h0M1630.7 2003.6h0M1690 1901.5h0M1637.1 2011.2h0M1609.7 2059.5h0" stroke="#c8652d" stroke-width="6.6" stroke-linecap="round"/><path d="M1608.7 1921.4h0M1639.1 1810h0M1588.3 2002.1h0M1624.3 1950h0M1689.5 1740.5h0M1630.8 1919.3h0M1625.4 1936.8h0M1601.2 1932.9h0M1576.3 1998.2h0M1598.7 1962h0M1683.4 1866.7h0M1593.4 1972.6h0M1649 1867.6h0M1659.7 1789.5h0M1564.7 2156.5h0M1674 1786.3h0M1688 1771.7h0M1665.4 1855.2h0M1582.9 1960.7h0M1687.7 1787.3h0M1564.6 1989.7h0M1578.2 1988.8h0M1564.5 2005.6h0M1671.2 1869.1h0M1614.1 1970.2h0M1566.1 1990.1h0M1578.5 1989.7h0M1624.1 1918h0M1642.2 1835.9h0M1596.3 1954.1h0M1678 1796.5h0M1677.1 1826h0M1670.4 1774.7h0M1661.5 1866.4h0M1699.4 1862.4h0" stroke="#3c87cf" stroke-width="6.6" stroke-linecap="round"/><path d="M1566.9 2124.5h0M1594.9 2075.5h0M1609.7 2048h0M1586.4 2094.4h0M1590.3 2193.5h0M1602.7 2040.1h0M1587.3 2084.8h0" stroke="#a051a0" stroke-width="6.6" stroke-linecap="round"/><path d="M1595.3 2080.2h0M1521.9 2187.7h0M1632.6 2053.8h0M1620.4 2043.8h0M1584.9 2079.8h0M1602 2096.9h0" stroke="#e02e85" stroke-width="6.6" stroke-linecap="round"/><path d="M1491.9 2016.2h0M1495.5 2053.8h0M1459.3 2126.4h0M1507.7 2127.3h0M1535.8 1976.4h0M1533.2 2012.4h0M1620.4 2069.2h0M1556.4 1874.9h0M1497.3 2052.4h0M1581.9 1834h0" stroke="#489c42" stroke-width="6.6" stroke-linecap="round"/><path d="M1610.4 2005.6h0M1589 2027.5h0M1621.4 1997.8h0M1612.2 1994.6h0M1548 2241.1h0M1558.6 2180h0" stroke="#9259a6" stroke-width="6.6" stroke-linecap="round"/><path d="M1610.9 1814.4h0M1540.3 1995.3h0M1585.3 1949.5h0M1583.4 1949.5h0M1578.9 1893.9h0M1574.8 1906.1h0M1522.7 2049.9h0M1508.2 2020.6h0M1531.6 2113.2h0M1513.1 2016.8h0M1545.9 1983.9h0M1563.8 1955.3h0M1684.5 1691.8h0M1552.7 2065.9h0M1525.4 1984.7h0M1523.6 1986.1h0M1528.7 1995.3h0M1532.9 1945.4h0M1543.6 2108.7h0M1542.9 2152.5h0M1645.1 1758.2h0M1522 2086.8h0M1625.8 1869.5h0M1593.7 1888.2h0M1539.6 1988.9h0M1511.9 1996.3h0M1619.7 1882.5h0M1549.3 1981.7h0M1526.5 2099.4h0M1627.1 1857h0M1533.8 2070.4h0M1626.4 1813.1h0M1533.1 2101.1h0M1532.2 1977.8h0M1551.7 2101.6h0M1537.1 2073.4h0M1539.5 2142.8h0M1547.4 2037.5h0M1525.7 2009.7h0M1548.9 1969.1h0M1562.5 1982.2h0M1520.1 2032.8h0" stroke="#10988d" stroke-width="6.6" stroke-linecap="round"/><path d="M1697.2 1743.3h0M1675.3 1844.1h0M1580.4 2001h0M1602.7 1792.2h0M1599 1962.7h0M1672 1769.4h0M1665.6 1816h0M1586.9 1964.6h0M1653.9 1862.7h0M1699.4 1851.1h0M1643.6 1895.6h0M1670.8 1807.5h0M1639.1 1860.8h0M1678.8 1794.4h0M1600.9 1959.4h0M1658.5 1867.2h0M1662.3 1866.3h0M1624 1913.3h0M1670.5 1765.7h0M1608.4 1922.5h0M1633.7 1904.4h0M1699.6 1849.5h0M1639.7 1832h0M1578.4 2012.8h0M1586.5 1972h0M1652.1 1875.8h0" stroke="#338aca" stroke-width="6.6" stroke-linecap="round"/><path d="M1598.9 2099.7h0M1577.5 2150.6h0M1615.2 2088.7h0M1615.4 2048.7h0M1608.9 2105.9h0M1591.1 2106.1h0M1603.3 2074.8h0M1573.8 2116.1h0M1581.2 2044.7h0M1585.5 2116.8h0M1583.2 2177.4h0M1527.7 2248.5h0M1586.8 2187.3h0" stroke="#cd3796" stroke-width="6.6" stroke-linecap="round"/><path d="M1673.5 1846h0M1586 2014.7h0M1572.9 2072h0M1635.1 1923.8h0M1564.3 1998.8h0M1606.1 2026.5h0M1687 1867.7h0M1590.3 2009.5h0M1620 1939.1h0M1624.9 1912.3h0M1531 2088.5h0M1637.5 1903.9h0M1569.3 2012.9h0M1586.6 1981.7h0M1694.3 1858.8h0M1690.8 1856.3h0M1599 1993.6h0M1633.8 1903.1h0M1695.6 1826.1h0M1602.2 1977.6h0M1581.7 1964.3h0M1579.6 2013.1h0M1675.2 1841.2h0M1637.3 1910.4h0M1656.6 1904.5h0M1611.9 1907.9h0" stroke="#607bc0" stroke-width="6.6" stroke-linecap="round"/><path d="M1587.9 2094.6h0M1586 2117.2h0M1572.5 1884h0M1620.4 2064h0M1547.6 2190.9h0M1621.8 2094.1h0M1603.9 2071.7h0M1586.9 2058.8h0M1592.7 2117.8h0M1638.4 2035.7h0M1590.2 2104.1h0M1595 2068.8h0" stroke="#e23377" stroke-width="6.6" stroke-linecap="round"/><path d="M1713.3 1876h0M1556.4 2022.3h0M1603.3 2014.7h0M1675.7 1899.3h0M1665 1909.6h0M1553.1 2120.3h0M1572.1 2108.2h0M1612.4 1982.2h0M1556.2 2030.3h0M1563.7 2145.4h0M1643.1 1974.6h0M1574.8 2032.9h0M1609.3 1999.2h0" stroke="#8062ad" stroke-width="6.6" stroke-linecap="round"/><path d="M1687.4 1863.6h0M1606.4 1951h0M1568.2 2034.1h0M1559.4 2110.4h0M1647.2 1884.5h0M1650.9 1951.7h0M1606.6 2016.9h0M1557.7 2080.8h0M1620.8 1928.3h0M1642.7 1945.5h0M1658.3 1879.5h0M1558.5 2157.5h0M1653 1960.5h0M1627.5 1915.2h0M1556.9 2063.8h0M1590.7 1966.3h0M1700.9 1845.3h0M1558.4 2069.2h0" stroke="#6b72b8" stroke-width="6.6" stroke-linecap="round"/><path d="M1713.6 1772.1h0" stroke="#9f7d2f" stroke-width="6.6" stroke-linecap="round"/><path d="M1591.8 1933.1h0M1528.2 1986.3h0M1516.3 2136h0M1625.5 1874.6h0M1585.1 1943.4h0M1543.1 2053.6h0M1517.5 2097h0M1673.5 1739.6h0M1543.1 2066.6h0M1541.2 2103h0M1527.3 1969.9h0M1557 1913.5h0M1533.3 1996.2h0M1606.5 1856.8h0M1575.1 1881.6h0M1539.3 2041.7h0M1586.8 1893.7h0M1538.7 2101.6h0M1523.7 2106.9h0M1570.2 1931h0M1543.6 2039.9h0M1617 1842.5h0M1510.4 2035.6h0M1580.6 1898.9h0M1603.9 1854.6h0M1526.1 2025.5h0M1638 1861h0M1524 2057.8h0M1584.9 1943.5h0M1535 2076.3h0M1504.4 2037.8h0M1543.3 1978h0M1516.3 2091h0M1528.1 1964.3h0M1551.2 1992.8h0M1511.9 1991.7h0M1552.7 2025.2h0M1532.4 2093.9h0M1523.2 2049.3h0M1547.2 1976.5h0M1551.9 2024.8h0M1534.8 2143.7h0" stroke="#0d9a7c" stroke-width="6.6" stroke-linecap="round"/><path d="M1580.1 2043.9h0M1593.2 2083.3h0M1576.2 2041h0M1588.8 2081.2h0M1574.8 2147.9h0M1566.7 2118h0M1610.7 2041.7h0" stroke="#a84d9e" stroke-width="6.6" stroke-linecap="round"/><path d="M1725.1 1862.2h0M1718.4 1803.5h0M1720.2 1822.5h0M1730.8 1869.1h0M1638.1 1998.9h0M1703.8 1915h0M1710.1 1851.4h0M1696.7 1754.2h0M1717.5 1850.3h0M1689.5 1926.8h0M1699.4 1948.4h0M1679.2 1940.2h0M1703.7 1883.1h0M1673.7 1946.2h0M1715 1817h0M1718.2 1872h0M1662.8 1971.5h0M1654.2 1850.2h0M1596.1 2058.1h0" stroke="#d55348" stroke-width="6.6" stroke-linecap="round"/><path d="M1621.9 1933.3h0M1568.1 1866.4h0M1602.8 1802.9h0M1578.9 1880.2h0M1526.8 1976.6h0M1618.3 1787.9h0M1658.4 1950.6h0M1499.8 2005.3h0" stroke="#848b35" stroke-width="6.6" stroke-linecap="round"/><path d="M1557.7 2011.6h0M1542.2 2052.5h0M1522.5 2081.7h0M1580.4 1875.6h0M1622.3 1890.6h0M1546.1 2131h0M1569 1962.7h0M1541.2 1954.3h0M1547.9 2060.6h0M1549.6 2078.9h0M1557.6 1928.6h0M1603.9 1921.3h0M1576.5 1950.7h0M1580.4 1904.1h0M1578.1 1899.2h0M1513.2 2052.6h0M1614.8 2000h0M1555.2 1962.8h0M1619 1832.7h0M1582.4 1921h0M1615.3 1898.2h0M1513.4 2048h0M1552.6 2036.1h0M1540.5 2087.7h0M1603.4 1872.8h0M1604.4 1897.7h0M1547.7 2066.5h0M1626.4 1879.9h0M1525.1 2132.9h0M1527.4 2024.9h0M1622.4 1852.4h0M1565.1 1910.1h0M1514.5 2039.7h0" stroke="#0b996e" stroke-width="6.6" stroke-linecap="round"/><path d="M1516.6 2082.1h0M1508.2 2097.9h0M1489 2056.2h0M1500.1 2086.7h0" stroke="#a47b2e" stroke-width="6.6" stroke-linecap="round"/><path d="M1678.2 1841.4h0M1601.7 2139.7h0M1531.7 2185.3h0M1533.2 1953.1h0" stroke="#ac782b" stroke-width="6.6" stroke-linecap="round"/><path d="M1658.7 1852.8h0M1515.1 1974.6h0M1477.3 2120.4h0M1505.8 2101.9h0M1498.7 2047.2h0M1558.8 1885.3h0M1505.6 1977.1h0M1567.9 1896.6h0M1500.5 2091h0M1559 1902.1h0M1549.9 1920.6h0" stroke="#539a40" stroke-width="6.6" stroke-linecap="round"/><path d="M1705.7 1891.3h0M1716.4 1836.2h0M1633 2005.7h0M1667.8 1984.6h0M1647.6 1985.9h0M1674.3 1986.5h0M1708.5 1838.7h0M1714.3 1784.8h0M1680.5 1961.5h0M1683.5 1976.2h0M1698.5 1794.7h0M1700.5 1804.7h0M1582.1 1872.8h0M1657.2 2003.1h0M1702.8 1813.7h0M1699.8 1762.5h0M1661.7 1983.7h0M1673.6 1927.9h0M1631 2006.6h0M1718.6 1790.4h0M1694.2 1886.9h0M1682.1 1910.8h0M1643.5 1995.7h0M1678.8 1923.8h0M1660 1975.2h0M1699.4 1869.4h0M1711.6 1766.1h0" stroke="#d94d52" stroke-width="6.6" stroke-linecap="round"/><path d="M1575.1 1865.2h0M1536.8 1998.1h0M1511.1 2138.2h0" stroke="#9b7e2f" stroke-width="6.6" stroke-linecap="round"/><path d="M1628.7 1947.3h0M1659.5 1923.6h0M1612.8 1982h0M1645.4 1980.6h0M1636.6 1927.3h0M1605.4 2015.2h0M1565 2111h0M1675.4 1911.8h0M1611.7 1997.2h0M1596.7 1988h0M1635 1934.4h0M1618.1 1990.2h0M1640.5 1950.5h0M1647.2 1888.8h0M1670.8 1901.1h0M1637.4 2049.3h0M1634.5 1962.3h0M1607.2 2011.5h0M1554 2139.6h0" stroke="#885eaa" stroke-width="6.6" stroke-linecap="round"/><path d="M1607.6 1910.6h0M1559.9 2008h0M1628.6 1911.9h0M1590.1 1956.8h0M1607.1 1952h0M1601.8 1959.9h0M1685.7 1820.4h0M1693.6 1785.8h0M1611.1 1914.5h0M1597.6 1971.8h0M1587.7 1973.1h0M1604.1 1924.9h0M1670.6 1813h0M1680.2 1819.9h0M1675.6 1858.4h0M1686.8 1871.9h0M1561.2 2019.6h0M1688.7 1747.8h0M1640.5 1926.8h0M1613 1969.6h0M1685.6 1836.7h0M1695.1 1832.7h0M1671.9 1819.4h0M1673 1719.3h0" stroke="#5680c7" stroke-width="6.6" stroke-linecap="round"/><path d="M1601.6 2038.1h0M1574.4 2090.1h0M1572.9 2100.4h0M1583.6 2085.2h0M1570.2 2218.2h0M1620 2039.8h0M1596.9 2124.9h0M1589.5 2088.3h0" stroke="#af499c" stroke-width="6.6" stroke-linecap="round"/><path d="M1670.2 1705.6h0M1515.5 1969.5h0M1614.5 1781.8h0M1514 1972.5h0M1493.9 1981.1h0M1509.3 1938.7h0" stroke="#66963c" stroke-width="6.6" stroke-linecap="round"/><path d="M1658.8 1886.3h0M1555.9 1950.4h0M1574.8 1903.5h0M1552.5 1969.4h0M1640.4 1815.4h0M1538.7 1976.4h0M1584.7 1953.2h0M1649.1 1759.6h0M1657.9 1743h0M1551.4 1931.2h0M1636.8 1776.2h0M1611.8 1915.1h0M1629.3 1879.9h0M1532.4 1998.8h0M1673.9 1745.8h0M1672.3 1764.3h0M1650.4 1898h0M1528.6 2153h0M1631 1804.9h0M1575.6 1934.6h0M1549.3 2018.2h0M1518.7 1997h0M1581.6 1938.2h0M1593.9 1840.6h0" stroke="#13969c" stroke-width="6.6" stroke-linecap="round"/><path d="M1606.6 2097.3h0M1649.5 2019.1h0M1581.4 2147.5h0M1588.6 2180.3h0M1621 2034.2h0M1577.8 2127.3h0M1635 2043.4h0M1588.5 2068.7h0M1589.7 2103.5h0M1598.4 2080.1h0M1580.9 2162h0M1569.9 2265.5h0M1553.1 2181.7h0M1584.5 2125.9h0M1575.4 2093.6h0" stroke="#bf4099" stroke-width="6.6" stroke-linecap="round"/><path d="M1641.9 1794h0M1688.4 1803.2h0M1694.2 1817.3h0M1668.6 1767.7h0M1673.5 1822.1h0M1561.4 2017.5h0M1731.9 1863.2h0M1615.5 1904.4h0M1679.3 1800.6h0M1609.9 1918.6h0M1589.5 1956.6h0M1582.8 1975.6h0M1586.7 1966.6h0M1594.6 1955.9h0M1673.7 1854.5h0M1661 1849.4h0M1624.6 1902.1h0M1608.8 1953.4h0M1690.5 1836.9h0M1689.2 1740.6h0M1698.9 1837.3h0M1580.3 1983.7h0M1678.8 1863.7h0M1581.3 2014.5h0M1637.2 1876.7h0M1593.1 1971.7h0M1593.7 1995.3h0M1534.9 1973.2h0M1684 1802.4h0M1616.2 1938.3h0" stroke="#4a84cc" stroke-width="6.6" stroke-linecap="round"/><path d="M1564.5 1903.8h0M1489.1 2010.3h0M1559 1881.3h0M1584.1 1837h0M1528 1918h0M1516.6 1981.9h0M1610.3 1795.4h0M1488.9 2009.3h0" stroke="#769139" stroke-width="6.6" stroke-linecap="round"/><path d="M1651.9 1903.4h0M1534.1 2051.9h0M1597.6 2007.5h0M1588.3 2014.8h0M1672.8 1876.8h0M1551.3 2066.2h0M1623.3 1983.3h0M1599.9 2004.6h0M1671.7 1897.6h0M1560.4 2078.3h0M1547.4 2096.9h0M1653.2 1933h0M1662.5 1923h0M1661.1 1931.1h0M1652 1933.4h0M1579.1 2234.2h0M1630.1 1949.8h0M1678 1886h0" stroke="#7d64af" stroke-width="6.6" stroke-linecap="round"/><path d="M1599.7 2166.5h0M1657.6 1965.3h0M1634.4 2002.6h0M1724 1810.2h0M1658.3 2000.5h0M1708.3 1787.6h0M1580.9 2130.7h0" stroke="#e03d6b" stroke-width="6.6" stroke-linecap="round"/><path d="M1718.3 1824.5h0M1700.7 1899.5h0M1727.6 1836.5h0M1708.5 1827.3h0M1700 1802.7h0M1673.3 1949.7h0M1661.6 1989.8h0M1703.3 1812.2h0M1698 1900.2h0M1712.2 1839.4h0M1712.2 1808.2h0M1660.2 1943.2h0M1730.3 1843.5h0M1667.3 1941.3h0M1644.4 1979.5h0M1712.8 1907.1h0M1719.1 1823.4h0M1668.2 1998h0" stroke="#df4264" stroke-width="6.6" stroke-linecap="round"/><path d="M1605.9 1990.7h0M1631.7 1983h0M1644.2 1826.5h0M1655 1935.5h0M1666.8 1928.8h0M1557.1 2199.4h0M1611.1 1993.2h0M1546.3 2205h0M1642.4 1950.4h0M1664.5 1892.9h0" stroke="#8c5ca8" stroke-width="6.6" stroke-linecap="round"/><path d="M1665.2 1936.6h0M1627.3 2043.9h0M1707.8 1763.2h0M1661.4 1981.4h0M1625.7 2039.1h0M1688.6 1906.8h0M1621 2060.3h0M1682.3 1916.3h0M1702.4 1935.7h0M1646.6 1974.9h0M1690.5 1921.3h0M1651.9 1963h0M1705.5 1732.1h0M1717.7 1886.5h0M1660.7 1921.2h0M1681.6 1950h0M1703.6 1849.1h0M1593.2 2159.4h0M1678.6 1954.4h0M1724.3 1858.1h0M1715.7 1831.1h0M1642.4 2002.1h0M1710.8 1814.7h0M1698.2 1925.8h0M1672.8 1936.8h0" stroke="#d1593e" stroke-width="6.6" stroke-linecap="round"/><path d="M1511.9 1983.4h0M1503.5 2059.4h0M1503.1 2023.1h0M1583.9 1820.1h0M1508.9 2105h0" stroke="#928331" stroke-width="6.6" stroke-linecap="round"/><path d="M1628.1 1825.7h0M1524.4 2150.6h0M1675.6 1935.3h0M1641 1852.6h0M1654.7 1805.4h0M1610 1869.6h0M1530.7 1969.9h0M1553.6 1952.7h0M1648.9 1854.2h0M1634.2 1879.1h0M1550.1 2014.3h0M1597.7 1833.4h0M1671.4 1721.2h0M1638.7 1800.1h0M1661.9 1841.2h0M1652 1889.4h0M1639.6 1866.1h0" stroke="#1694a4" stroke-width="6.6" stroke-linecap="round"/><path d="M1658.1 1810.6h0M1641.8 1895h0M1623.8 1912.5h0M1639.9 1892h0M1668.5 1787h0M1656.5 1798.8h0M1659 1804.5h0M1660.8 1872.3h0M1588.1 1815.6h0M1621.1 1823.1h0M1618.7 1824.1h0M1637.2 1884.9h0M1636.1 1808.7h0M1609.2 1810.7h0" stroke="#1d90b3" stroke-width="6.6" stroke-linecap="round"/></g>
<ellipse cx="1712.8" cy="76.2" rx="24.2" ry="22.9" fill="#D95319"/><path d="M1660.3 127.4H1769.4" stroke="#0072BD" stroke-width="4.6"/>
<defs><linearGradient id="cbg" x1="0" y1="0" x2="0" y2="1">
<stop offset="0.0000" stop-color="#A67A2E"/>
<stop offset="0.0493" stop-color="#968030"/>
<stop offset="0.1014" stop-color="#858A35"/>
<stop offset="0.1507" stop-color="#6C953B"/>
<stop offset="0.2000" stop-color="#4A9C42"/>
<stop offset="0.2247" stop-color="#2C9A48"/>
<stop offset="0.2493" stop-color="#18994F"/>
<stop offset="0.2767" stop-color="#0A9966"/>
<stop offset="0.3014" stop-color="#0D9A7F"/>
<stop offset="0.3507" stop-color="#12979A"/>
<stop offset="0.4000" stop-color="#1E8FB5"/>
<stop offset="0.4493" stop-color="#3A88D0"/>
<stop offset="0.4740" stop-color="#5282CA"/>
<stop offset="0.4986" stop-color="#6479BD"/>
<stop offset="0.5479" stop-color="#7469B3"/>
<stop offset="0.6000" stop-color="#7F63AE"/>
<stop offset="0.6493" stop-color="#8D5CA8"/>
<stop offset="0.6986" stop-color="#A64E9E"/>
<stop offset="0.7479" stop-color="#C23E98"/>
<stop offset="0.7726" stop-color="#DF2A92"/>
<stop offset="0.7973" stop-color="#E23378"/>
<stop offset="0.8493" stop-color="#DE4560"/>
<stop offset="0.8986" stop-color="#D05A3C"/>
<stop offset="0.9233" stop-color="#C8652D"/>
<stop offset="0.9479" stop-color="#BB6E28"/>
<stop offset="1.0000" stop-color="#AA7A2C"/>
</linearGradient></defs>
<rect x="1988.1" y="1679.6" width="58.9" height="596.4" fill="url(#cbg)" stroke="#444" stroke-width="2.2"/>
<path d="M2047 2114.4h-6.5M2047 1951h-6.5M2047 1787.6h-6.5" stroke="#444" stroke-width="2.2"/>
</svg></body></html>
